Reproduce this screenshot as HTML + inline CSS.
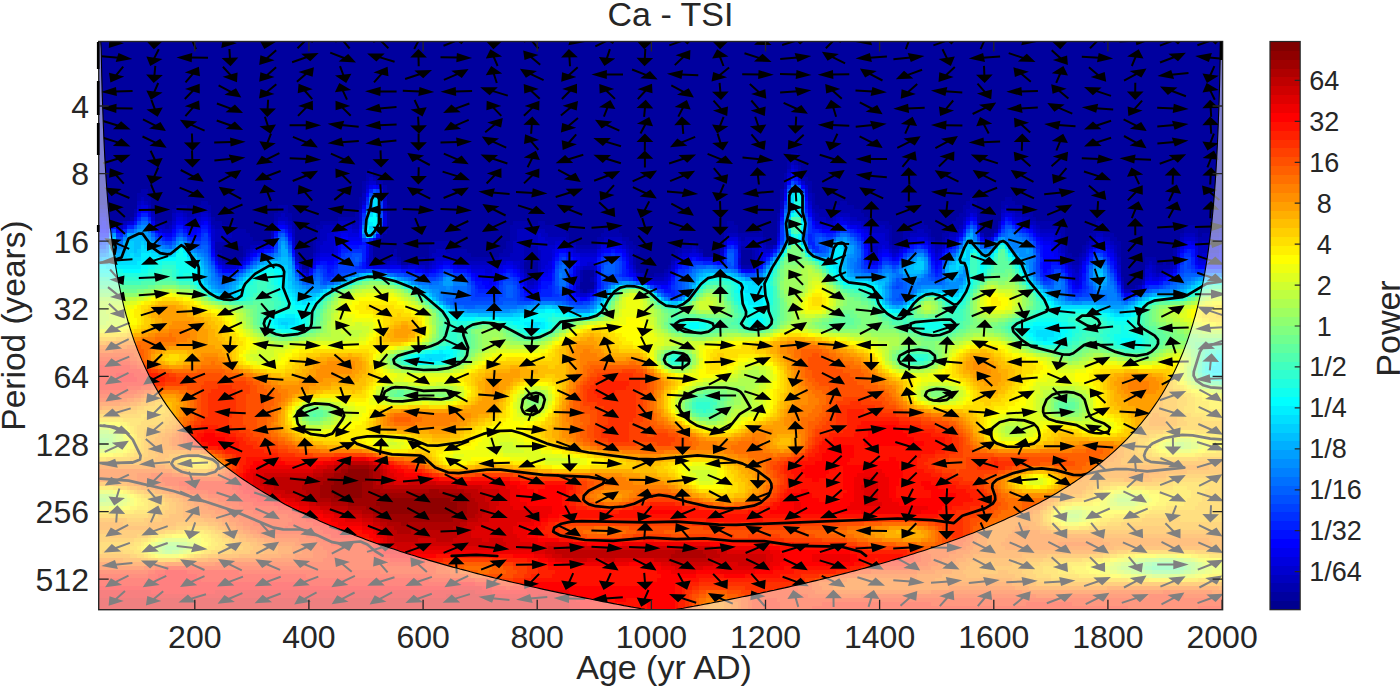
<!DOCTYPE html>
<html><head><meta charset="utf-8"><title>Ca - TSI</title>
<style>
html,body{margin:0;padding:0;background:#fff;}
body{width:1400px;height:687px;overflow:hidden;}
svg{display:block;}
text{font-family:"Liberation Sans",sans-serif;fill:#262626;}
.t{font-size:32px;}
.l{font-size:34px;}
.c{font-size:27px;}
</style></head><body>
<svg width="1400" height="687" viewBox="0 0 1400 687">
<rect width="1400" height="687" fill="#fff"/>
<defs><clipPath id="pc"><rect x="98.7" y="41.5" width="1123.9" height="568.2"/></clipPath></defs>
<g clip-path="url(#pc)">
<rect x="98.7" y="41.5" width="1123.9" height="568.2" fill="#00009f"/>

<g transform="translate(98.70,41.50) scale(3.51219,4.00141)" fill="none" stroke-width="1.08" shape-rendering="crispEdges"><path stroke="#0000af" d="M197 28.5h2m-2 1h2m-3 1h1m1 0h1m-3 1h1m2 0h1m-123 1h1m121 0h1m-124 1h2m117 0h1m4 0h1m-125 1h1m1 0h1m116 0h1m4 0h2m-127 1h1m3 0h2m120 0h2m-128 1h1m5 0h1m120 0h1m-191 1h2m61 0h1m5 0h1m112 0h1m7 0h1m-192 1h3m180 0h1m8 0h1m-193 1h1m1 0h2m59 0h1m119 0h1m8 0h1m44 0h1m9 0h2m-246 1h1m14 0h2m43 0h1m128 0h1m7 0h2m34 0h3m7 0h4m-261 1h2m20 0h3m3 0h4m19 0h3m20 0h1m7 0h1m120 0h2m5 0h5m31 0h2m1 0h1m7 0h1m1 0h6m-263 1h1m7 0h1m4 0h1m5 0h1m2 0h4m3 0h1m19 0h3m19 0h1m8 0h1m121 0h13m29 0h1m3 0h1m10 0h5m-264 1h1m22 0h2m23 0h2m1 0h2m18 0h1m8 0h1m110 0h1m11 0h5m4 0h4m27 0h2m3 0h1m12 0h3m-257 1h1m22 0h1m17 0h1m3 0h1m13 0h6m8 0h1m110 0h1m13 0h2m7 0h3m25 0h2m4 0h1m14 0h2m-262 1h2m9 0h5m11 0h3m20 0h1m7 0h5m4 0h1m9 0h1m35 0h4m3 0h2m52 0h2m37 0h7m7 0h3m8 0h3m21 0h7m10 0h2m-267 1h1m13 0h6m10 0h1m5 0h1m6 0h2m18 0h1m34 0h15m47 0h3m42 0h2m4 0h6m5 0h4m23 0h7m8 0h4m22 0h3m7 0h1m-284 1h6m20 0h1m18 0h1m35 0h2m8 0h6m11 0h4m30 0h4m6 0h1m36 0h1m3 0h4m2 0h2m4 0h3m11 0h1m17 0h2m8 0h5m21 0h4m6 0h1m-282 1h5m19 0h1m17 0h1m36 0h2m9 0h6m9 0h6m29 0h1m3 0h7m36 0h1m3 0h2m5 0h1m3 0h2m12 0h1m19 0h1m7 0h2m2 0h3m19 0h1m3 0h1m1 0h5m-283 1h8m17 0h2m16 0h1m37 0h2m14 0h1m8 0h2m5 0h2m32 0h1m5 0h1m35 0h1m3 0h1m7 0h1m2 0h1m33 0h1m7 0h1m5 0h2m23 0h3m-283 1h14m1 0h1m12 0h1m16 0h1m16 0h5m16 0h2m3 0h2m11 0h2m6 0h1m7 0h2m16 0h2m19 0h1m35 0h1m2 0h1m9 0h2m34 0h1m6 0h1m7 0h2m16 0h1m5 0h1m-281 1h2m6 0h2m18 0h1m32 0h7m15 0h2m3 0h4m11 0h6m9 0h2m12 0h4m1 0h1m6 0h1m5 0h3m4 0h2m34 0h2m47 0h1m4 0h1m9 0h1m-258 1h1m7 0h1m19 0h1m22 0h1m9 0h2m3 0h6m10 0h3m3 0h4m27 0h2m10 0h2m5 0h1m14 0h1m88 0h1m4 0h1m9 0h1m15 0h1m-273 1h1m6 0h1m14 0h1m26 0h2m9 0h1m5 0h6m8 0h3m4 0h4m27 0h1m10 0h2m21 0h1m88 0h2m2 0h1m10 0h1m15 0h1m-267 1h1m19 0h1m24 0h1m5 0h2m8 0h13m7 0h1m2 0h1m27 0h1m10 0h1m22 0h1m89 0h3m19 0h3m-265 1h4m17 0h1m20 0h2m1 0h1m6 0h6m58 0h1m33 0h1m90 0h2m19 0h1m1 0h1m2 0h1m1 0h1m-144 1h1m20 0h3m115 0h4m-246 1h1m61 0h1m15 0h1m15 0h1m7 0h1m139 0h2m-179 1h1m12 0h1m17 0h1m2 0h3m-39 1h2m13 0h1m2 0h1m150 0h1m5 0h1m-3 2h1m-159 1h1m1 0h1"/>
<path stroke="#0000bf" d="M197 30.5h1m0 1h1m-3 1h1m2 1h1m-123 1h1m-2 1h1m118 0h1m-116 1h1m114 0h1m-121 2h1m5 0h1m120 0h1m-191 1h1m62 0h1m5 0h1m120 0h1m-192 1h1m1 0h1m180 0h1m-181 1h1m179 0h1m53 0h1m9 0h1m-259 1h2m20 0h2m4 0h3m43 0h1m128 0h1m43 0h3m7 0h1m1 0h2m-251 1h1m4 0h1m5 0h1m2 0h1m2 0h2m2 0h1m20 0h1m151 0h1m5 0h4m33 0h1m13 0h2m-261 1h1m18 0h1m3 0h3m23 0h3m150 0h3m2 0h1m4 0h2m30 0h1m16 0h2m-262 1h1m3 0h1m42 0h1m3 0h1m13 0h4m1 0h1m119 0h1m13 0h2m8 0h1m32 0h1m5 0h1m8 0h2m-261 1h1m10 0h2m1 0h1m11 0h1m31 0h4m4 0h2m119 0h1m25 0h5m21 0h1m21 0h1m-235 1h3m13 0h1m5 0h1m7 0h3m53 0h8m66 0h1m26 0h5m8 0h2m9 0h1m23 0h5m-240 1h5m11 0h1m5 0h1m7 0h2m54 0h6m1 0h2m51 0h3m42 0h1m6 0h5m6 0h2m7 0h1m20 0h2m10 0h2m23 0h3m7 0h1m-287 1h3m27 0h2m54 0h6m2 0h6m11 0h5m29 0h1m3 0h1m1 0h5m35 0h1m5 0h1m5 0h1m4 0h1m10 0h1m20 0h1m9 0h1m2 0h2m20 0h1m3 0h1m3 0h3m-272 1h1m14 0h2m54 0h3m2 0h2m3 0h2m3 0h1m9 0h1m5 0h1m33 0h2m3 0h1m40 0h1m7 0h1m2 0h1m32 0h1m8 0h1m5 0h1m25 0h5m-276 1h2m17 0h1m14 0h1m40 0h3m13 0h2m6 0h1m7 0h1m18 0h1m16 0h2m1 0h1m30 0h2m3 0h1m2 0h1m9 0h2m34 0h1m6 0h1m7 0h1m17 0h1m5 0h3m-274 1h1m19 0h1m14 0h1m18 0h3m19 0h3m4 0h1m10 0h6m9 0h1m14 0h3m1 0h1m6 0h1m9 0h1m32 0h2m4 0h2m10 0h1m35 0h1m14 0h1m23 0h6m-286 1h1m27 0h1m15 0h1m17 0h5m17 0h4m4 0h1m25 0h1m13 0h1m21 0h1m32 0h1m59 0h1m32 0h1m-280 1h1m21 0h1m20 0h1m5 0h2m9 0h2m4 0h1m13 0h7m4 0h1m38 0h1m11 0h1m10 0h1m87 0h1m3 0h1m10 0h1m15 0h1m-272 1h1m24 0h1m16 0h1m4 0h1m2 0h1m8 0h1m7 0h1m2 0h9m6 0h1m4 0h1m37 0h1m23 0h1m88 0h1m2 0h1m10 0h1m8 0h1m6 0h1m-214 1h1m26 0h1m4 0h1m12 0h3m11 0h1m33 0h1m90 0h2m19 0h1m1 0h1m4 0h1m-248 1h1m66 0h1m15 0h1m20 0h1m115 0h1m21 0h1m2 0h2m-184 1h1m19 0h1m12 0h1m6 0h1m139 0h1m-178 1h1m31 0h5m-39 1h2m17 0h1m149 0h1m5 0h1m-162 1h1m159 0h1m-157 1h1m151 0h2"/>
<path stroke="#0000cf" d="M197 31.5h1m0 1h1m-3 1h1m-120 2h2m121 0h1m-125 1h1m124 0h1m-190 4h1m62 0h1m5 0h1m120 0h1m-192 1h1m69 0h1m-1 1h1m176 0h1m-259 1h2m20 0h2m5 0h2m43 0h1m128 0h1m45 0h1m7 0h1m2 0h1m-246 1h1m8 0h1m3 0h1m2 0h1m42 0h1m135 0h1m1 0h2m47 0h2m-261 1h1m1 0h1m3 0h1m12 0h1m3 0h3m25 0h1m151 0h2m2 0h1m4 0h3m29 0h1m17 0h1m-260 1h1m10 0h1m9 0h1m27 0h1m13 0h4m9 0h1m135 0h2m37 0h1m9 0h1m-249 1h3m11 0h1m33 0h2m4 0h2m145 0h1m25 0h1m21 0h1m-236 1h1m32 0h2m58 0h1m67 0h1m26 0h4m20 0h1m23 0h4m-240 1h1m16 0h1m5 0h1m9 0h2m58 0h2m93 0h4m7 0h2m2 0h1m6 0h2m9 0h1m18 0h1m11 0h2m23 0h3m7 0h1m-265 1h1m8 0h3m10 0h1m47 0h3m2 0h3m11 0h5m29 0h1m3 0h1m2 0h3m32 0h5m5 0h1m5 0h1m4 0h1m41 0h1m2 0h2m20 0h1m3 0h1m-268 1h2m16 0h4m58 0h5m3 0h1m15 0h1m32 0h1m5 0h1m3 0h1m29 0h1m1 0h1m12 0h1m2 0h1m32 0h1m8 0h1m5 0h1m27 0h3m-276 1h1m19 0h4m59 0h3m6 0h1m14 0h1m18 0h1m12 0h1m5 0h3m34 0h1m13 0h1m33 0h1m7 0h1m25 0h1m-266 1h1m19 0h1m63 0h3m8 0h5m24 0h2m3 0h1m5 0h1m43 0h1m4 0h1m11 0h1m35 0h1m14 0h1m24 0h5m-278 1h1m19 0h1m34 0h4m26 0h3m22 0h1m23 0h1m6 0h1m37 0h1m59 0h1m32 0h2m-281 1h1m5 0h1m42 0h2m10 0h1m5 0h1m1 0h2m9 0h2m2 0h2m6 0h2m11 0h2m10 0h1m30 0h1m92 0h1m-240 1h3m18 0h1m2 0h1m25 0h2m3 0h2m1 0h1m11 0h8m5 0h1m6 0h1m10 0h1m3 0h1m21 0h1m112 0h1m2 0h1m10 0h1m8 0h1m6 0h1m-197 1h2m8 0h1m15 0h1m15 0h1m124 0h1m12 0h1m7 0h2m5 0h1m-247 1h1m65 0h1m10 0h1m16 0h1m8 0h1m114 0h2m19 0h1m1 0h1m1 0h1m-182 1h1m14 0h1m4 0h1m13 0h1m5 0h1m116 0h1m-155 1h1m11 0h1m-15 1h2m17 0h1m149 0h1m-156 1h1m157 0h1m-158 1h2"/>
<path stroke="#0000df" d="M197 32.5h1m-2 2h1m2 0h1m-124 3h1m3 0h1m114 0h1m5 0h1m-190 4h2m188 0h1m-192 1h1m2 0h1m179 0h1m-114 1h1m166 0h1m9 0h2m-260 1h2m8 0h1m11 0h2m5 0h2m50 0h1m121 0h1m7 0h1m35 0h1m9 0h1m2 0h1m-261 1h1m8 0h1m14 0h1m3 0h1m2 0h1m19 0h2m21 0h1m6 0h1m122 0h1m5 0h1m2 0h1m48 0h2m-262 1h1m4 0h1m13 0h1m3 0h1m1 0h1m22 0h1m155 0h4m6 0h1m29 0h1m3 0h1m14 0h1m-249 1h1m36 0h1m13 0h4m8 0h1m137 0h1m47 0h1m-200 1h2m2 0h3m145 0h1m47 0h1m-201 1h1m111 0h3m11 0h1m25 0h1m13 0h2m34 0h3m-240 1h1m16 0h1m17 0h1m151 0h1m11 0h1m10 0h1m28 0h2m11 0h2m23 0h1m1 0h1m7 0h1m-288 1h1m14 0h2m6 0h1m11 0h1m62 0h3m10 0h2m3 0h1m70 0h1m3 0h1m5 0h1m42 0h1m14 0h1m20 0h1m3 0h1m6 0h1m-276 1h1m22 0h1m61 0h1m4 0h1m7 0h1m48 0h1m27 0h1m2 0h1m5 0h1m8 0h1m50 0h1m23 0h1m6 0h1m-257 1h4m62 0h1m5 0h2m13 0h1m17 0h3m11 0h1m5 0h2m29 0h1m7 0h1m11 0h1m33 0h1m7 0h1m25 0h1m4 0h1m-280 1h1m28 0h1m13 0h1m60 0h5m23 0h2m5 0h3m2 0h1m10 0h1m30 0h1m1 0h1m16 0h1m35 0h1m14 0h1m17 0h1m7 0h4m-263 1h1m4 0h1m14 0h1m19 0h2m2 0h1m15 0h2m10 0h1m8 0h2m25 0h1m55 0h1m92 0h2m-280 1h1m3 0h1m38 0h5m5 0h3m4 0h1m6 0h4m8 0h1m3 0h1m8 0h2m7 0h1m14 0h1m35 0h1m-95 1h1m12 0h4m2 0h2m12 0h2m35 0h1m112 0h1m2 0h1m-170 1h3m7 0h1m158 0h1m10 0h1m8 0h1m3 0h2m-180 1h1m28 0h1m7 0h1m114 0h1m20 0h1m1 0h2m-181 1h1m36 0h4m116 0h1m-155 1h1m-3 1h1m172 0h1m-160 1h1m2 0h1"/>
<path stroke="#0000ef" d="M198 33.5h1m-122 3h1m1 0h1m115 2h1m5 0h1m-127 3h1m126 1h1m-189 1h1m179 0h1m54 1h1m-249 1h1m13 0h1m6 0h2m5 0h1m181 0h2m48 0h1m-262 1h2m22 0h1m3 0h1m2 0h1m21 0h1m20 0h1m129 0h2m8 0h2m48 0h1m-263 1h1m3 0h1m18 0h3m189 0h1m32 0h1m-232 1h2m48 0h2m8 0h1m138 0h1m26 0h1m9 0h1m-188 1h1m2 0h4m3 0h1m139 0h1m25 0h1m6 0h1m2 0h1m13 0h1m-201 1h1m112 0h1m50 0h1m2 0h1m7 0h1m25 0h2m39 0h1m-235 1h1m68 0h3m30 0h1m51 0h1m5 0h1m4 0h1m29 0h1m11 0h1m2 0h1m-255 1h1m12 0h1m30 0h1m53 0h1m2 0h1m9 0h1m5 0h1m73 0h2m15 0h1m30 0h2m9 0h1m4 0h1m20 0h1m-266 1h1m23 0h1m8 0h1m57 0h1m7 0h1m47 0h1m31 0h1m2 0h1m11 0h1m34 0h1m15 0h1m30 0h1m-278 1h1m20 0h4m62 0h1m6 0h1m13 0h1m16 0h1m3 0h1m54 0h1m12 0h1m33 0h1m38 0h1m6 0h1m-279 1h1m56 0h2m41 0h1m23 0h1m22 0h1m32 0h1m16 0h1m35 0h1m5 0h1m8 0h1m22 0h1m2 0h4m-243 1h2m5 0h3m10 0h1m4 0h1m13 0h3m46 0h1m17 0h1m92 0h1m13 0h1m-253 1h1m19 0h1m2 0h1m31 0h1m1 0h1m19 0h1m4 0h1m8 0h1m6 0h1m15 0h1m32 0h2m120 0h1m-249 1h1m48 0h3m3 0h1m12 0h2m7 0h1m16 0h1m123 0h1m28 0h1m-197 1h4m7 0h1m14 0h1m143 0h1m10 0h1m8 0h1m2 0h1m-192 1h1m13 0h1m9 0h1m21 0h1m119 0h1m1 0h1m-159 1h1m13 0h1m142 0h1m18 0h1m-175 1h2m10 0h1m5 0h1m149 0h1m0 1h1"/>
<path stroke="#0000ff" d="M197 33.5h1m-2 2h1m-119 1h1m121 0h1m-125 2h1m118 1h1m5 0h1m-190 3h2m-3 1h1m190 0h1m45 1h1m10 0h1m-230 1h1m172 0h1m43 0h1m9 0h1m2 0h1m-258 1h1m47 0h2m157 0h1m2 0h1m48 0h2m-264 1h2m3 0h1m10 0h1m4 0h1m6 0h1m2 0h1m18 0h1m23 0h1m131 0h4m6 0h1m39 0h1m8 0h1m-248 1h1m7 0h2m26 0h1m19 0h1m142 0h1m48 0h1m-198 1h2m196 0h1m-199 1h6m1 0h1m102 0h2m12 0h1m24 0h1m14 0h2m17 0h1m15 0h1m-220 1h1m18 0h1m149 0h1m23 0h1m26 0h2m13 0h2m23 0h3m-266 1h1m8 0h1m12 0h1m62 0h2m11 0h2m1 0h2m80 0h1m6 0h1m32 0h2m-239 1h1m11 0h1m85 0h1m18 0h1m73 0h2m3 0h1m40 0h3m15 0h1m-221 1h1m67 0h1m32 0h1m1 0h1m18 0h1m32 0h1m4 0h1m9 0h1m31 0h4m8 0h1m6 0h1m-256 1h1m28 0h1m2 0h2m62 0h1m6 0h1m13 0h1m15 0h1m9 0h1m42 0h1m19 0h1m29 0h2m2 0h1m33 0h1m11 0h1m-286 1h1m5 0h1m20 0h1m35 0h1m2 0h1m28 0h1m5 0h1m14 0h1m87 0h1m30 0h2m9 0h1m32 0h2m-280 1h2m1 0h1m51 0h2m3 0h1m9 0h1m9 0h1m2 0h1m64 0h1m2 0h1m82 0h1m5 0h1m4 0h1m-175 1h1m12 0h1m8 0h1m22 0h1m11 0h1m-57 1h2m4 0h1m12 0h3m24 0h1m122 0h1m26 0h1m-195 1h2m1 0h1m7 0h1m35 0h1m5 0h1m135 0h4m-192 1h2m13 0h1m34 0h2m115 0h1m1 0h1m-159 1h1m174 0h1m-175 1h3m10 0h1m4 0h1m152 0h1m-157 1h2"/>
<path stroke="#0010ff" d="M198 34.5h1m0 1h1m-120 3h1m120 2h1m-1 1h1m-127 1h1m118 2h1m63 0h1m-249 1h1m238 0h1m-246 1h1m10 0h1m6 0h2m5 0h2m49 0h1m122 0h1m57 0h1m-238 1h1m28 0h1m151 0h1m9 0h1m30 0h1m17 0h1m-265 1h3m14 0h1m3 0h1m3 0h1m2 0h1m2 0h1m18 0h1m-32 1h2m33 0h1m162 0h1m-143 1h1m168 0h1m8 0h1m13 0h1m-199 1h5m107 0h1m49 0h1m3 0h1m32 0h1m-222 1h2m97 0h1m31 0h1m13 0h1m25 0h1m22 0h1m26 0h1m14 0h1m2 0h1m22 0h1m1 0h1m-257 1h1m12 0h1m64 0h1m9 0h1m47 0h1m26 0h1m21 0h1m27 0h1m13 0h1m25 0h1m2 0h1m-269 1h1m86 0h1m3 0h1m7 0h1m6 0h1m19 0h1m48 0h1m6 0h1m-184 1h1m20 0h2m2 0h1m7 0h1m59 0h1m31 0h1m7 0h1m1 0h1m44 0h1m14 0h1m30 0h1m2 0h2m8 0h1m6 0h1m-233 1h1m8 0h2m8 0h1m22 0h2m42 0h1m22 0h1m22 0h1m30 0h3m17 0h1m28 0h1m5 0h1m32 0h1m4 0h1m2 0h5m-255 1h1m20 0h4m6 0h1m4 0h4m11 0h2m11 0h1m12 0h1m7 0h1m13 0h1m73 0h1m31 0h1m18 0h1m-230 1h1m32 0h1m20 0h1m3 0h1m15 0h1m7 0h1m7 0h1m118 0h2m9 0h1m25 0h1m-248 1h1m46 0h1m35 0h1m9 0h1m10 0h1m116 0h1m23 0h1m-198 1h2m4 0h1m12 0h3m13 0h1m133 0h1m13 0h1m11 0h1m-195 1h2m2 0h1m7 0h1m5 0h2m6 0h1m7 0h1m16 0h1m2 0h1m-52 1h1m13 0h1m8 0h1m26 0h2m114 0h2m-158 1h1m12 0h1m159 0h1m-160 1h2m2 0h1"/>
<path stroke="#0020ff" d="M197 34.5h1m-121 3h1m-2 2h1m118 1h1m5 2h1m-190 1h2m-3 1h1m2 0h1m187 0h1m-9 1h1m64 0h1m-252 1h2m201 0h2m44 0h1m-251 1h1m14 0h1m6 0h2m172 0h2m5 0h1m3 0h1m48 0h1m-258 1h1m195 0h1m4 0h2m7 0h1m33 0h1m14 0h1m-266 1h2m16 0h1m7 0h3m2 0h1m45 0h1m124 0h1m42 0h1m20 0h1m-65 1h2m47 0h1m-178 1h2m103 0h1m13 0h1m9 0h1m28 0h1m1 0h1m8 0h1m23 0h1m-219 1h1m19 0h2m4 0h1m154 0h1m53 0h2m24 0h1m-266 1h1m29 0h1m55 0h2m11 0h2m1 0h2m29 0h1m57 0h1m49 0h1m-255 1h1m35 0h1m6 0h1m57 0h1m56 0h1m32 0h2m3 0h1m11 0h1m27 0h1m13 0h1m4 0h1m20 0h1m2 0h1m-178 1h1m7 0h1m6 0h1m18 0h1m3 0h3m14 0h1m28 0h1m7 0h2m83 0h1m-279 1h1m7 0h1m22 0h1m2 0h1m6 0h1m59 0h1m14 0h1m16 0h2m69 0h1m33 0h3m14 0h1m-255 1h1m4 0h1m26 0h1m15 0h4m11 0h1m36 0h1m14 0h1m37 0h1m51 0h1m28 0h1m2 0h1m2 0h1m32 0h1m-251 1h1m7 0h2m25 0h1m1 0h2m9 0h1m9 0h1m1 0h1m11 0h1m19 0h1m88 0h1m29 0h1m6 0h1m13 0h1m-176 1h1m4 0h1m9 0h1m4 0h1m134 0h1m35 0h1m-172 1h1m20 0h1m7 0h1m116 0h1m-174 1h1m5 0h1m14 0h1m29 0h1m117 0h1m3 0h1m17 0h1m-191 1h3m1 0h1m7 0h1m5 0h3m34 0h1m115 0h1m-160 1h1m4 0h4m12 0h1m21 0h1m127 0h1m-171 1h3m10 0h1"/>
<path stroke="#0030ff" d="M198 35.5h1m-3 1h1m-117 3h1m-5 1h1m-2 3h1m126 2h1m45 0h1m9 0h1m-65 1h1m7 0h1m44 0h1m12 0h1m-246 1h1m7 0h1m27 0h2m141 0h1m7 0h1m10 0h1m48 0h1m-258 1h1m10 0h1m7 0h1m4 0h1m23 0h1m140 0h1m8 0h1m2 0h1m2 0h1m5 0h1m30 0h1m-245 1h1m18 0h1m3 0h1m24 0h1m24 0h1m118 0h1m8 0h1m12 0h1m-217 1h1m30 0h1m18 0h1m3 0h1m162 0h1m-38 1h1m23 0h1m12 0h1m15 0h1m-163 1h4m106 0h1m22 0h1m26 0h1m10 0h1m24 0h1m-222 1h1m22 0h1m76 0h1m34 0h1m47 0h1m53 0h1m25 0h2m-267 1h1m86 0h1m11 0h1m4 0h1m29 0h1m2 0h1m-114 1h1m5 0h1m55 0h1m38 0h3m6 0h1m2 0h1m43 0h1m61 0h1m20 0h1m-247 1h2m9 0h1m107 0h1m36 0h1m3 0h1m58 0h1m29 0h1m-251 1h1m2 0h1m2 0h1m12 0h2m18 0h1m64 0h2m15 0h1m54 0h1m43 0h1m6 0h1m23 0h3m-280 1h3m26 0h1m2 0h1m22 0h2m4 0h1m7 0h1m11 0h1m31 0h1m15 0h1m74 0h1m31 0h1m-214 1h1m6 0h1m49 0h1m2 0h1m32 0h1m118 0h1m4 0h1m13 0h1m-184 1h1m7 0h1m4 0h1m9 0h1m13 0h1m159 0h2m-186 1h1m9 0h1m13 0h1m19 0h1m117 0h1m8 0h1m8 0h3m-195 1h1m5 0h1m15 0h1m3 0h1m8 0h1m17 0h1m3 0h1m111 0h1m3 0h1m16 0h1m-191 1h6m16 0h2m2 0h1m28 0h1m1 0h1m112 0h3m15 0h1m-176 1h1m3 0h2m7 0h1m6 0h1m151 0h1m-157 1h2"/>
<path stroke="#0040ff" d="M79 37.5h1m120 0h1m-121 3h1m-1 1h1m114 0h1m-116 1h1m120 1h1m-127 1h1m-62 1h1m65 0h1m168 1h1m-247 1h1m207 0h2m44 0h1m3 0h1m-240 1h1m7 0h1m173 0h2m8 0h1m41 0h1m7 0h1m-248 1h1m11 0h2m45 0h1m130 0h2m41 0h1m4 0h1m9 0h1m-265 1h1m17 0h2m5 0h3m165 0h1m59 0h1m11 0h1m-236 1h1m18 0h1m151 0h1m41 0h1m-214 1h1m171 0h1m1 0h1m11 0h1m17 0h1m7 0h1m-197 1h1m22 0h2m145 0h1m23 0h1m25 0h1m17 0h1m-231 1h1m13 0h2m61 0h1m11 0h4m69 0h1m18 0h1m30 0h1m18 0h1m22 0h2m-279 1h1m10 0h1m25 0h1m63 0h1m9 0h1m4 0h1m68 0h1m5 0h2m15 0h1m26 0h1m14 0h1m27 0h1m-243 1h5m57 0h1m12 0h1m4 0h1m19 0h1m48 0h1m8 0h1m40 0h1m40 0h1m1 0h1m-278 1h1m6 0h1m15 0h1m6 0h1m4 0h8m2 0h2m18 0h2m48 0h1m18 0h1m51 0h3m45 0h1m4 0h2m34 0h1m2 0h1m3 0h5m-286 1h1m3 0h1m29 0h1m18 0h3m7 0h1m3 0h3m43 0h1m17 0h2m70 0h1m36 0h1m6 0h1m25 0h1m-248 1h1m3 0h1m1 0h1m26 0h3m9 0h1m10 0h2m25 0h4m2 0h2m13 0h1m73 0h2m28 0h1m2 0h1m9 0h1m24 0h1m-189 1h1m25 0h1m9 0h1m9 0h1m104 0h2m4 0h1m5 0h1m-176 1h1m7 0h1m15 0h1m2 0h1m23 0h1m6 0h1m62 0h1m74 0h1m-197 1h1m7 0h1m4 0h1m10 0h1m28 0h1m5 0h1m115 0h1m8 0h1m-185 1h1m6 0h2m4 0h1m11 0h2m28 0h1m3 0h1m110 0h1m3 0h2m-176 1h8m5 0h1m6 0h7m1 1h2m2 0h2"/>
<path stroke="#0050ff" d="M197 35.5h1m-120 2h1m-2 1h1m-2 3h1m3 2h1m-69 1h2m66 0h1m-70 1h1m63 0h1m-66 1h1m247 0h2m-256 1h1m74 0h1m-57 1h1m27 0h1m149 0h1m8 0h1m52 0h1m-259 1h2m9 0h1m184 0h1m2 0h1m1 0h1m8 0h1m-214 1h1m15 0h1m10 0h2m173 0h1m2 0h1m8 0h1m28 0h1m-246 1h2m26 0h1m25 0h1m150 0h2m45 0h1m13 0h1m-217 1h1m128 0h2m12 0h1m12 0h1m25 0h1m-202 1h1m16 0h1m23 0h3m117 0h1m37 0h1m53 0h1m-240 1h1m25 0h2m1 0h1m154 0h1m53 0h1m-214 1h4m57 0h1m12 0h1m2 0h1m31 0h1m10 0h1m37 0h1m7 0h1m72 0h1m-268 1h1m90 0h1m13 0h1m21 0h1m6 0h5m8 0h1m37 0h1m12 0h1m46 0h1m21 0h1m-248 1h1m13 0h2m52 0h1m2 0h1m9 0h1m3 0h1m20 0h1m19 0h1m29 0h1m90 0h2m-250 1h1m1 0h1m5 0h2m14 0h2m43 0h1m2 0h1m9 0h4m20 0h1m16 0h3m49 0h1m30 0h1m4 0h1m15 0h1m19 0h1m-252 1h1m9 0h1m23 0h2m3 0h1m33 0h1m2 0h1m13 0h2m16 0h2m60 0h1m9 0h1m69 0h1m-249 1h1m4 0h1m40 0h1m9 0h3m12 0h1m2 0h1m11 0h1m19 0h1m61 0h2m42 0h1m17 0h1m15 0h1m-191 1h1m2 0h1m25 0h1m20 0h1m60 0h1m1 0h1m46 0h1m6 0h1m20 0h1m-189 1h1m2 0h1m12 0h2m10 0h1m131 0h1m6 0h1m15 0h1m-194 1h1m9 0h1m2 0h1m23 0h1m85 0h1m53 0h2m12 0h1m-196 1h5m8 0h5m22 0h1m21 0h2m62 0h2m49 0h1m12 0h1m1 0h1m-193 1h14m4 0h4m10 0h1"/>
<path stroke="#0060ff" d="M199 36.5h1m-4 1h1m-2 5h1m5 2h1m-188 2h1m233 0h1m-241 1h2m191 0h1m45 0h1m1 0h1m8 0h1m1 0h1m-254 1h1m7 0h1m36 0h1m142 0h1m17 0h1m43 0h1m4 0h1m-239 1h1m28 0h1m151 0h1m3 0h1m54 0h1m-248 1h1m3 0h1m3 0h1m179 0h2m1 0h1m56 0h1m-246 1h1m6 0h1m1 0h2m176 0h1m8 0h1m34 0h1m1 0h1m-224 1h1m23 0h1m152 0h1m25 0h2m31 0h1m-218 1h1m129 0h2m50 0h1m3 0h1m6 0h1m-212 1h1m41 0h1m105 0h2m10 0h1m24 0h1m-173 1h1m10 0h1m76 0h1m12 0h2m33 0h1m35 0h1m49 0h1m19 0h1m-255 1h1m98 0h1m12 0h3m23 0h3m2 0h1m40 0h1m6 0h1m1 0h1m10 0h1m29 0h1m15 0h1m-242 1h1m102 0h3m70 0h1m4 0h1m3 0h1m9 0h1m3 0h1m25 0h1m20 0h1m-255 1h1m5 0h1m16 0h1m5 0h1m8 0h1m12 0h1m13 0h1m1 0h1m86 0h1m52 0h1m32 0h1m35 0h5m-280 1h4m23 0h1m1 0h1m4 0h1m20 0h2m6 0h1m4 0h3m62 0h1m60 0h1m7 0h1m3 0h1m26 0h1m4 0h1m1 0h1m13 0h1m19 0h1m-251 1h1m1 0h1m2 0h1m1 0h2m27 0h1m51 0h1m6 0h1m12 0h1m59 0h1m2 0h1m8 0h2m28 0h1m13 0h1m23 0h1m-202 1h1m10 0h2m13 0h2m33 0h1m62 0h1m40 0h2m17 0h1m14 0h1m-203 1h1m2 0h1m10 0h2m48 0h1m59 0h4m53 0h1m15 0h1m-198 1h3m11 0h2m42 0h1m5 0h1m59 0h2m1 0h2m44 0h1m8 0h1m5 0h1m-192 1h2m61 0h1m63 0h1m2 0h1m46 0h2m1 0h5m10 0h1m-195 1h1m14 0h4m4 0h1m8 0h1m7 0h1m-37 1h3m28 0h4"/>
<path stroke="#0070ff" d="M200 38.5h1m-189 7h2m187 0h1m-1 1h1m-188 1h1m180 0h1m63 0h1m-185 1h1m2 0h1m132 0h2m36 0h1m8 0h1m2 0h1m-240 1h1m28 0h1m143 0h1m18 0h1m31 0h1m16 0h1m-258 1h1m194 0h1m13 0h1m34 0h1m-249 1h1m16 0h1m6 0h1m167 0h1m-195 1h2m26 0h2m186 0h1m27 0h1m-215 1h1m174 0h2m9 0h1m26 0h1m22 0h1m-221 1h1m194 0h1m24 0h1m17 0h2m-255 1h1m183 0h1m67 0h1m-241 1h1m88 0h1m40 0h2m40 0h1m8 0h1m3 0h1m-197 1h1m98 0h2m36 0h1m11 0h1m33 0h2m10 0h1m54 0h1m-211 1h1m10 0h1m15 0h1m32 0h1m35 0h1m14 0h1m43 0h2m6 0h1m30 0h1m15 0h1m4 0h1m26 0h3m-284 1h1m4 0h1m23 0h1m6 0h1m18 0h1m12 0h1m29 0h2m93 0h1m2 0h1m4 0h2m37 0h1m8 0h1m26 0h2m-277 1h2m55 0h3m1 0h2m34 0h2m14 0h1m19 0h1m62 0h1m2 0h5m2 0h1m31 0h1m1 0h1m13 0h1m18 0h2m-208 1h4m40 0h1m21 0h1m57 0h1m4 0h2m37 0h1m4 0h1m8 0h1m21 0h2m-206 1h1m1 0h2m53 0h1m71 0h2m42 0h1m9 0h1m4 0h1m10 0h2m-204 1h4m183 0h2m-189 1h1m66 0h1m59 0h1m49 0h1m8 0h3m3 0h1m-192 1h1m24 0h2m4 0h2m94 0h3m63 0h1m-191 1h2m3 0h12m15 0h1m4 0h1"/>
<path stroke="#0080ff" d="M197 36.5h2m-122 3h1m118 2h1m3 0h1m-125 1h1m119 0h1m3 0h1m-6 1h1m-185 3h1m63 0h1m119 0h1m-186 1h1m-8 1h1m255 0h2m-246 1h1m7 0h1m28 0h1m160 0h1m35 0h1m8 0h5m-258 1h1m10 0h1m34 0h1m1 0h1m160 0h1m44 0h3m2 0h1m-247 1h1m2 0h1m3 0h1m25 0h1m156 0h1m6 0h1m29 0h1m8 0h1m5 0h2m3 0h1m-264 1h1m24 0h1m174 0h1m12 0h1m-187 1h1m20 0h1m3 0h1m149 0h1m2 0h1m7 0h1m16 0h1m-203 1h1m16 0h1m166 0h2m14 0h1m34 0h1m-221 1h1m168 0h1m14 0h1m35 0h1m-235 1h1m23 0h1m158 0h1m50 0h1m20 0h1m-117 1h1m9 0h1m8 0h1m33 0h3m39 0h1m-234 1h1m7 0h1m41 0h1m48 0h1m37 0h1m18 0h1m28 0h6m3 0h1m90 0h3m-288 1h1m23 0h1m30 0h1m80 0h1m61 0h1m2 0h1m11 0h1m41 0h1m23 0h1m-279 1h1m2 0h1m20 0h1m3 0h2m4 0h1m22 0h1m6 0h1m3 0h4m47 0h1m72 0h1m5 0h2m8 0h1m31 0h1m9 0h1m3 0h1m21 0h1m-276 1h2m23 0h2m2 0h2m29 0h5m1 0h1m55 0h1m75 0h2m6 0h1m31 0h2m13 0h2m18 0h1m-211 1h4m43 0h1m22 0h1m57 0h1m6 0h1m38 0h3m11 0h4m13 0h3m-208 1h1m45 0h1m81 0h1m5 0h1m42 0h1m12 0h3m7 0h1m-201 1h1m44 0h1m18 0h1m68 0h1m56 0h3m5 0h1m-170 1h4m11 0h1m149 0h1m-191 1h1m17 0h2m19 0h1"/>
<path stroke="#008fff" d="M196 38.5h1m3 1h1m-124 1h1m118 0h1m3 0h1m-124 1h1m117 3h1m-1 1h1m-184 1h2m234 1h1m-235 1h1m232 0h1m-241 1h1m202 0h2m44 0h1m-235 1h1m1 0h1m170 0h1m59 0h1m6 0h2m-259 1h2m10 0h1m35 0h1m205 0h1m2 0h3m-239 1h1m24 0h1m156 0h1m43 0h1m7 0h4m1 0h1m-266 1h2m26 0h1m22 0h1m162 0h1m18 0h2m27 0h4m-218 1h1m164 0h1m17 0h1m3 0h1m6 0h1m21 0h1m-235 1h1m182 0h1m27 0h1m22 0h1m19 0h2m-242 1h1m145 0h1m22 0h1m69 0h1m-253 1h1m10 0h1m12 0h1m115 0h1m6 0h2m34 0h1m13 0h1m6 0h1m10 0h1m39 0h1m-214 1h1m108 0h1m32 0h2m6 0h1m1 0h1m3 0h1m4 0h1m10 0h2m-208 1h1m30 0h1m15 0h1m11 0h1m1 0h1m68 0h1m55 0h1m5 0h2m8 0h1m2 0h1m21 0h1m16 0h1m28 0h1m-281 1h1m4 0h1m30 0h1m20 0h1m58 0h1m2 0h1m16 0h1m73 0h4m21 0h1m42 0h1m-278 1h1m2 0h1m21 0h1m2 0h2m29 0h2m5 0h1m68 0h1m55 0h1m9 0h6m1 0h4m39 0h1m1 0h1m21 0h1m-214 1h2m173 0h1m34 0h2m-211 1h1m62 0h1m7 0h1m104 0h2m24 0h1m-75 1h1m49 0h1m-177 1h1m126 0h1m3 0h1m47 0h3m4 0h7m2 0h1m-194 1h1m20 0h1m11 0h1m-29 1h12m19 0h4"/>
<path stroke="#009fff" d="M79 38.5h1m116 1h1m-1 4h1m3 0h1m-122 3h1m-69 1h3m61 0h1m-72 1h1m4 0h1m3 0h1m0 1h1m197 0h1m44 0h1m-243 1h1m36 0h1m156 0h1m3 0h1m32 0h1m2 0h1m-234 1h1m184 0h1m12 0h1m35 0h1m-246 1h1m12 0h3m193 0h1m36 0h1m1 0h1m10 0h1m-263 1h1m190 0h1m19 0h1m30 0h1m-216 1h1m19 0h2m3 0h1m137 0h1m39 0h1m10 0h1m19 0h1m-218 1h1m144 0h1m38 0h1m4 0h1m-206 1h1m198 0h1m5 0h1m10 0h1m17 0h1m-93 1h6m35 0h1m69 0h1m-253 1h1m9 0h1m13 0h1m25 0h1m88 0h1m43 0h1m9 0h1m5 0h1m2 0h1m7 0h1m23 0h1m17 0h1m2 0h1m-256 1h1m53 0h1m13 0h1m84 0h4m34 0h1m19 0h2m2 0h1m66 0h2m-284 1h1m6 0h1m17 0h1m41 0h3m48 0h2m18 0h1m54 0h1m59 0h1m1 0h1m24 0h1m-280 1h1m4 0h1m19 0h1m7 0h1m25 0h1m54 0h1m121 0h1m16 0h1m23 0h1m-276 1h3m22 0h4m31 0h1m129 0h1m8 0h1m8 0h1m64 0h1m-213 1h1m128 0h1m7 0h1m38 0h1m27 0h1m-204 1h1m69 0h1m64 0h1m41 0h1m22 0h1m-155 1h1m132 0h2m3 0h4m10 0h1m-173 1h2m8 0h1m8 0h1m85 0h1m60 0h4m-189 1h2m12 0h2m16 0h1"/>
<path stroke="#00afff" d="M197 37.5h1m-120 1h1m-2 4h1m-2 1h1m-69 5h1m1 0h1m1 0h1m183 0h1m3 0h1m47 0h1m-246 1h1m9 0h1m186 0h1m47 0h1m-242 1h1m6 0h1m8 0h1m188 0h1m45 0h1m-244 1h1m36 0h1m160 0h1m-208 1h1m10 0h1m3 0h1m3 0h1m26 0h2m140 0h1m18 0h1m31 0h1m-241 1h1m21 0h1m24 0h2m149 0h1m4 0h1m3 0h1m39 0h1m8 0h1m-262 1h1m27 0h1m22 0h1m155 0h1m4 0h1m21 0h1m27 0h1m-234 1h1m17 0h1m6 0h1m157 0h1m18 0h1m10 0h1m20 0h1m-219 1h1m8 0h1m157 0h1m17 0h1m10 0h1m42 0h2m-256 1h1m12 0h1m185 0h1m4 0h1m6 0h1m3 0h1m18 0h1m-235 1h1m43 0h1m5 0h1m90 0h1m9 0h1m7 0h1m23 0h1m17 0h2m11 0h1m-215 1h1m9 0h1m14 0h1m15 0h1m98 0h1m48 0h3m1 0h2m61 0h1m28 0h1m-277 1h1m15 0h1m32 0h1m157 0h1m19 0h1m18 0h1m-248 1h1m17 0h1m9 0h1m156 0h1m21 0h1m64 0h1m-278 1h1m3 0h1m19 0h2m4 0h1m29 0h1m51 0h1m22 0h1m65 0h1m5 0h2m1 0h2m24 0h1m38 0h1m-165 1h1m155 0h1m-158 1h1m16 0h1m111 0h1m-176 1h1m126 0h1m49 0h1m-176 1h1m24 0h1m6 0h1m94 0h1m1 0h1m58 0h1m4 0h1m-191 1h1m16 0h2m13 0h1m5 0h1"/>
<path stroke="#00bfff" d="M199 37.5h1m-3 4h1m-119 1h1m117 0h1m-120 5h1m-68 1h1m-3 1h4m183 0h1m50 0h1m-238 1h2m1 0h1m196 0h2m36 0h1m-242 1h1m2 0h2m10 0h1m1 0h1m187 0h1m-206 1h1m2 0h1m5 0h1m195 0h1m41 0h1m-252 1h1m2 0h1m19 0h1m224 0h1m-251 1h3m48 0h2m152 0h1m1 0h1m24 0h1m10 0h1m-197 1h1m2 0h3m178 0h1m10 0h1m2 0h1m-218 1h1m201 0h1m13 0h1m-192 1h1m135 0h1m21 0h1m17 0h4m10 0h1m39 0h2m-244 1h1m11 0h1m20 0h1m96 0h1m7 0h1m61 0h2m-190 1h1m29 0h1m98 0h1m4 0h1m25 0h5m46 0h1m18 0h2m30 0h2m-288 1h1m38 0h1m152 0h2m88 0h1m-282 1h1m23 0h1m34 0h1m64 0h1m13 0h1m97 0h1m-236 1h1m5 0h1m17 0h1m35 0h1m64 0h1m65 0h1m11 0h1m3 0h1m69 0h1m-275 1h3m19 0h5m32 0h1m128 0h1m46 0h1m30 0h6m-212 1h1m127 0h1m73 0h1m-135 1h2m65 0h1m42 0h1m21 0h1m-171 1h2m2 0h2m94 0h1m59 0h2m6 0h1m-193 1h1m19 0h1m167 0h3m-184 1h10"/>
<path stroke="#00cfff" d="M198 37.5h1m-2 3h1m-120 2h1m0 1h1m116 1h1m-120 2h1m118 1h1m3 0h1m-197 2h1m3 0h1m-6 1h2m3 0h2m2 0h1m187 0h1m46 0h1m-245 1h2m3 0h2m3 0h2m180 0h1m13 0h1m36 0h1m1 0h2m5 0h1m-253 1h2m3 0h2m1 0h1m3 0h1m231 0h1m11 0h1m-256 1h1m2 0h2m1 0h2m5 0h4m4 0h1m219 0h1m1 0h1m5 0h1m6 0h1m-257 1h4m19 0h1m177 0h1m40 0h2m-220 1h1m20 0h2m182 0h2m-189 1h1m5 0h2m137 0h1m19 0h1m20 0h3m7 0h2m19 0h1m-235 1h1m14 0h1m8 0h1m188 0h2m-215 1h1m46 0h1m1 0h2m93 0h1m5 0h1m32 0h1m51 0h1m19 0h2m-257 1h1m11 0h1m30 0h1m98 0h1m10 0h1m6 0h1m23 0h1m104 0h2m-280 1h1m13 0h1m32 0h1m82 0h1m15 0h2m33 0h1m91 0h1m-275 1h1m14 0h1m12 0h1m79 0h1m74 0h1m23 0h1m64 0h1m-257 1h1m8 0h1m171 0h3m6 0h1m22 0h1m-235 1h1m3 0h1m17 0h1m5 0h1m105 0h1m64 0h1m7 0h4m62 0h1m-250 1h3m210 0h1m26 0h1m-156 1h1m18 0h1m60 0h1m48 0h1m-175 1h1m28 0h2m13 0h1m86 0h1m54 0h1m9 0h1m-195 1h1m21 0h2m9 0h1m7 0h1m146 0h1m3 0h1m-189 1h4m10 0h2m-68 2h2m40 9h1"/>
<path stroke="#00dfff" d="M197 38.5h1m-120 1h2m117 0h1m-120 1h2m-2 1h2m119 1h1m-123 1h1m-2 1h1m123 0h1m-125 1h1m1 1h1m-3 1h2m-1 1h1m178 2h1m-245 1h1m198 0h1m35 0h1m-236 1h3m186 0h1m48 0h1m-242 1h1m5 0h2m4 0h1m-14 1h4m14 0h1m218 0h1m5 0h2m8 0h1m-262 1h11m16 0h1m164 0h1m14 0h3m1 0h1m32 0h2m1 0h1m14 0h1m-235 1h1m18 0h1m3 0h1m158 0h1m33 0h1m-217 1h1m16 0h1m165 0h1m35 0h1m15 0h1m-221 1h1m9 0h1m23 0h1m96 0h2m2 0h1m11 0h1m20 0h1m35 0h1m-195 1h1m29 0h1m88 0h1m8 0h1m30 0h1m34 0h1m-219 1h1m23 0h1m16 0h1m113 0h2m2 0h1m30 0h2m26 0h1m17 0h1m48 0h1m-285 1h1m22 0h1m35 0h1m95 0h4m123 0h1m-282 1h1m7 0h1m14 0h1m114 0h1m14 0h5m33 0h1m23 0h1m63 0h1m-278 1h1m5 0h1m15 0h1m37 0h1m64 0h1m63 0h1m46 0h1m38 0h1m-253 1h2m3 0h1m82 0h1m22 0h1m54 0h1m9 0h1m37 0h1m-213 1h1m37 0h1m68 0h1m130 0h1m-73 1h1m49 0h10m-160 1h1m7 0h1m153 0h2m5 0h1m-192 1h2m16 0h2m14 0h4m149 0h3m-241 1h5m-5 1h1m2 0h2m67 0h3m-73 1h1m69 0h2m142 1h5m-5 1h5m-3 1h1m-177 4h6m-8 1h3m1 0h3"/>
<path stroke="#00efff" d="M199 41.5h1m-2 1h1m-122 3h1m1 0h1m116 0h1m-1 1h1m-121 2h1m122 1h1m-4 1h1m60 0h1m-235 1h1m186 0h1m47 0h1m-237 1h1m1 0h1m184 0h3m34 0h1m1 0h1m-237 1h3m187 0h1m6 0h3m34 0h1m7 0h1m-243 1h5m8 0h1m167 0h1m10 0h1m4 0h3m41 0h1m-243 1h2m13 0h1m183 0h1m40 0h2m-251 1h10m15 0h1m20 0h3m158 0h1m37 0h1m14 0h1m-217 1h1m5 0h1m138 0h1m18 0h1m-183 1h1m23 0h1m123 0h2m32 0h1m-183 1h1m13 0h1m9 0h1m20 0h1m137 0h1m52 0h1m-224 1h1m10 0h1m33 0h1m84 0h1m11 0h1m5 0h1m24 0h5m96 0h1m-276 1h1m11 0h1m117 0h1m12 0h2m4 0h1m31 0h1m25 0h1m18 0h1m-227 1h1m12 0h1m11 0h1m25 0h1m54 0h1m36 0h1m5 0h1m31 0h1m89 0h1m-258 1h1m8 0h1m81 0h1m38 0h5m45 0h1m5 0h1m4 0h1m63 0h1m-255 1h1m38 0h1m64 0h1m24 0h5m53 0h3m54 0h1m-244 1h2m1 0h2m100 0h1m23 0h4m42 0h1m39 0h1m25 0h1m-26 1h2m21 0h1m-197 1h1m25 0h2m3 0h2m94 0h3m56 0h1m8 0h1m-242 1h3m45 0h1m20 0h1m11 0h2m152 0h1m3 0h2m-244 1h1m5 0h1m57 0h6m-70 1h1m5 0h1m64 0h2m3 0h1m-76 1h2m1 0h2m66 0h1m2 0h2m139 0h7m-8 1h2m5 0h2m-8 1h1m5 0h2m-7 1h2m1 0h3m-176 3h1m-7 1h2m6 0h1m-10 1h1m7 0h1m219 1h2m-3 1h3m-3 1h3"/>
<path stroke="#00ffff" d="M78 43.5h1m118 0h1m1 0h1m-123 1h3m-2 1h1m121 0h1m-125 1h1m123 0h1m-4 2h1m1 0h1m-3 1h1m57 3h1m-232 1h1m169 0h1m55 0h1m8 0h1m-243 1h5m238 0h1m-248 1h2m10 0h1m180 0h1m54 0h1m-262 1h2m10 0h2m194 0h1m42 0h1m-245 1h5m15 0h1m19 0h1m2 0h2m157 0h1m-183 1h1m16 0h1m6 0h1m211 0h1m-237 1h1m15 0h1m7 0h1m30 0h1m90 0h1m6 0h1m9 0h1m-163 1h1m22 0h1m19 0h1m110 0h1m29 0h2m102 0h1m-288 1h1m11 0h1m26 0h1m79 0h1m5 0h1m27 0h1m36 0h2m92 0h1m-262 1h1m129 0h1m84 0h1m-236 1h1m7 0h1m12 0h1m38 0h1m90 0h1m5 0h1m31 0h1m17 0h1m6 0h1m21 0h1m-234 1h4m15 0h1m7 0h1m120 0h1m5 0h1m51 0h1m3 0h1m23 0h1m30 0h1m-246 1h1m5 0h1m122 0h1m4 0h1m32 0h1m47 0h1m-215 1h4m37 0h1m45 0h1m41 0h4m34 0h1m6 0h1m40 0h1m24 0h1m-170 1h3m12 0h1m82 0h1m47 0h4m7 0h1m10 0h1m-245 1h2m3 0h2m42 0h1m22 0h2m8 0h1m6 0h1m146 0h1m6 0h1m-246 1h1m7 0h1m45 0h4m4 0h3m6 0h7m59 0h3m100 0h4m-244 1h1m7 0h1m60 0h3m6 0h1m40 0h3m15 0h3m77 0h8m-224 1h1m5 0h1m64 0h1m5 0h1m40 0h3m93 0h2m7 0h2m-153 1h4m138 0h1m9 0h2m-11 1h1m8 0h1m-9 1h1m6 0h1m17 0h4m-26 1h3m20 0h2m-199 2h2m1 0h3m-11 1h1m9 0h1m-13 1h2m9 0h1m218 0h2m-229 1h5m220 0h2m-2 1h1m-1 1h1m0 1h3"/>
<path stroke="#10ffef" d="M198 38.5h2m-2 1h2m-2 2h1m-1 8h1m1 2h1m-178 1h1m171 0h1m53 0h1m-228 1h2m-2 1h3m229 0h1m-240 1h3m4 0h3m228 0h1m-240 1h2m6 0h5m165 0h1m14 0h1m44 0h1m-253 1h7m5 0h2m9 0h4m21 0h2m158 0h1m42 0h1m10 0h1m-240 1h1m2 0h1m18 0h2m3 0h1m140 0h1m17 0h1m-184 1h1m23 0h1m23 0h1m99 0h1m4 0h1m30 0h1m37 0h1m-222 1h1m14 0h1m7 0h1m34 0h1m86 0h1m8 0h1m8 0h1m57 0h1m15 0h1m52 0h3m-269 1h1m36 0h1m101 0h1m27 0h1m-189 1h1m10 0h1m9 0h1m14 0h1m23 0h1m65 0h1m24 0h1m8 0h1m29 0h1m26 0h1m64 0h1m-272 1h1m10 0h1m11 0h1m117 0h1m7 0h1m119 0h1m-272 1h2m12 0h1m9 0h1m118 0h1m7 0h1m30 0h1m79 0h5m-252 1h1m40 0h1m48 0h1m15 0h1m5 0h1m16 0h1m6 0h1m51 0h3m53 0h1m-244 1h1m4 0h1m123 0h1m4 0h2m-139 1h8m38 0h1m86 0h5m34 0h1m4 0h1m41 0h2m4 0h7m-234 1h1m7 0h1m66 0h4m1 0h3m54 0h2m96 0h2m-229 1h1m42 0h2m4 0h4m16 0h1m57 0h1m3 0h1m77 0h6m14 0h2m4 0h1m-246 1h1m9 0h1m57 0h2m10 0h1m37 0h2m3 0h2m12 0h1m3 0h1m45 0h5m24 0h2m8 0h2m13 0h5m-245 1h1m7 0h1m61 0h2m7 0h1m37 0h2m3 0h2m61 0h6m23 0h1m11 0h2m14 0h1m-240 1h3m66 0h1m4 0h1m136 0h1m12 0h1m14 0h2m-29 1h1m10 0h2m12 0h7m-31 1h1m8 0h2m13 0h2m4 0h2m-30 1h2m3 0h2m16 0h2m2 0h3m-198 1h1m-7 1h2m6 0h1m-13 1h1m11 0h1m216 0h2m-233 1h1m12 0h1m63 0h1m151 0h2m-229 1h2m5 0h2m217 1h1m-1 1h1m0 1h1"/>
<path stroke="#20ffdf" d="M198 40.5h2m-2 3h1m-1 5h1m0 2h1m56 1h1m1 1h1m-56 2h1m46 0h1m-233 1h4m171 0h1m11 0h1m-190 1h2m235 0h1m7 0h1m-248 1h2m6 0h1m227 0h1m1 0h1m-253 1h14m8 0h1m1 0h2m21 0h3m200 0h2m-229 1h3m18 0h1m4 0h1m31 0h1m93 0h4m12 0h1m58 0h1m12 0h1m-221 1h1m5 0h1m130 0h1m30 0h1m-184 1h1m13 0h1m7 0h1m18 0h1m79 0h1m3 0h1m17 0h1m9 0h1m9 0h1m22 0h4m30 0h1m16 0h1m48 0h1m-273 1h1m7 0h1m119 0h1m20 0h1m27 0h1m46 0h1m-236 1h1m10 0h1m8 0h1m117 0h1m11 0h1m9 0h1m28 0h1m14 0h1m2 0h1m28 0h1m-234 1h1m6 0h1m10 0h1m40 0h1m51 0h1m22 0h1m12 0h1m9 0h1m41 0h1m6 0h1m5 0h1m21 0h1m37 0h2m-255 1h1m8 0h1m119 0h1m8 0h1m29 0h1m23 0h1m23 0h1m-217 1h2m6 0h1m121 0h1m59 0h2m25 0h1m26 0h1m-247 1h1m8 0h1m123 0h1m5 0h1m79 0h1m25 0h1m-248 1h1m9 0h1m39 0h1m29 0h1m11 0h1m43 0h2m2 0h2m35 0h3m38 0h11m6 0h1m10 0h1m-248 1h1m10 0h1m40 0h1m27 0h1m55 0h1m5 0h1m74 0h2m6 0h3m10 0h1m7 0h1m-236 1h1m42 0h3m10 0h1m13 0h1m35 0h1m7 0h1m10 0h1m5 0h1m42 0h2m5 0h2m21 0h1m12 0h2m9 0h2m5 0h1m-247 1h1m9 0h1m58 0h2m46 0h1m7 0h1m11 0h5m43 0h1m6 0h2m20 0h1m14 0h2m9 0h3m1 0h2m-244 1h2m3 0h2m63 0h1m6 0h1m107 0h4m23 0h1m14 0h2m9 0h3m2 0h3m-33 1h1m13 0h1m9 0h2m7 0h1m-33 1h1m11 0h1m11 0h1m8 0h1m-32 1h1m7 0h2m13 0h1m7 0h1m-201 1h2m1 0h2m189 0h6m-205 1h1m9 0h1m215 0h2m-232 1h1m227 0h2m-217 1h1m61 0h1m1 0h1m65 0h4m80 0h1m-228 1h1m9 0h1m216 0h1m-2 2h1m0 1h1m1 1h3"/>
<path stroke="#30ffcf" d="M197 50.5h1m59 1h1m-57 2h1m46 0h1m6 0h1m3 1h1m-10 1h1m3 0h1m5 0h1m-243 1h4m228 0h1m-235 1h2m3 0h1m170 0h1m-179 1h3m4 0h1m186 0h1m39 0h1m3 0h1m9 0h1m-260 1h10m9 0h1m22 0h4m26 0h1m4 0h1m128 0h1m39 0h1m1 0h1m-226 1h1m17 0h1m3 0h1m23 0h1m11 0h1m88 0h1m4 0h2m11 0h1m57 0h1m-207 1h2m3 0h2m37 0h1m92 0h1m31 0h2m101 0h1m-287 1h1m13 0h2m4 0h1m97 0h1m32 0h1m37 0h1m94 0h1m-271 1h1m6 0h1m14 0h1m25 0h1m54 0h1m10 0h1m22 0h1m38 0h1m16 0h2m9 0h1m63 0h1m-279 1h1m8 0h1m8 0h1m106 0h1m61 0h1m87 0h1m-257 1h1m41 0h1m86 0h1m50 0h1m8 0h1m4 0h1m21 0h1m30 0h1m-249 1h2m9 0h1m33 0h1m47 0h1m17 0h3m17 0h1m8 0h1m30 0h1m8 0h1m10 0h1m2 0h1m23 0h1m-221 1h2m10 0h1m81 0h1m39 0h1m7 0h1m31 0h1m6 0h1m12 0h2m22 0h3m-222 1h1m11 0h1m37 0h1m85 0h1m6 0h1m33 0h1m3 0h1m36 0h1m11 0h6m12 0h1m-250 1h1m12 0h1m38 0h1m29 0h7m30 0h6m11 0h1m7 0h1m46 0h6m20 0h1m11 0h2m6 0h2m9 0h1m-249 1h1m52 0h2m3 0h2m7 0h1m15 0h1m33 0h1m9 0h1m8 0h1m47 0h2m9 0h2m17 0h2m15 0h2m6 0h1m8 0h1m-237 1h1m40 0h4m12 0h1m12 0h1m34 0h1m9 0h1m9 0h1m5 0h1m40 0h2m9 0h1m17 0h2m17 0h2m6 0h1m6 0h2m-247 1h1m7 0h1m42 0h2m17 0h1m48 0h5m61 0h1m4 0h2m20 0h1m17 0h2m5 0h2m8 0h1m-197 1h2m19 0h5m136 0h1m15 0h2m5 0h2m10 0h2m-199 1h2m175 0h2m7 0h2m10 0h1m-200 1h4m162 0h1m10 0h1m10 0h2m9 0h1m-203 1h1m5 0h1m166 0h6m14 0h2m6 0h1m-207 1h1m224 0h2m-231 1h1m14 0h1m60 0h3m65 0h5m79 0h1m-230 1h1m75 0h1m3 0h1m63 0h1m4 0h1m-149 1h1m11 0h1m63 0h3m148 0h1m-1 1h1m-1 2h1m1 1h1m-147 6h4m-4 1h4m-2 1h1"/>
<path stroke="#40ffbf" d="M197 47.5h1m1 0h1m-2 3h1m-3 1h1m52 2h1m8 0h1m-65 1h1m53 0h2m5 0h1m-8 1h2m-57 1h1m12 0h1m41 0h2m4 0h1m5 0h1m-243 1h3m186 0h1m40 0h2m3 0h1m7 0h1m-245 1h4m171 0h1m56 0h1m-250 1h3m10 0h4m4 0h1m54 0h1m2 0h1m-73 1h5m11 0h3m19 0h3m126 0h4m32 0h1m39 0h1m12 0h1m-237 1h1m17 0h3m22 0h1m79 0h3m19 0h1m6 0h1m12 0h1m56 0h1m14 0h1m51 0h1m-272 1h4m18 0h1m21 0h1m89 0h1m12 0h1m22 0h3m30 0h1m-205 1h1m3 0h2m142 0h1m25 0h1m-176 1h1m5 0h2m13 0h1m115 0h1m11 0h1m46 0h1m7 0h1m19 0h1m41 0h1m-260 1h2m11 0h1m95 0h1m7 0h1m24 0h1m107 0h1m-251 1h1m114 0h1m26 0h1m48 0h1m4 0h1m21 0h1m29 0h1m-251 1h1m48 0h1m84 0h1m9 0h1m49 0h1m2 0h1m20 0h1m30 0h1m-251 1h1m13 0h1m80 0h1m40 0h1m8 0h1m31 0h1m5 0h1m10 0h5m19 0h1m-220 1h1m14 0h1m74 0h2m26 0h2m6 0h2m8 0h1m9 0h1m33 0h4m1 0h7m6 0h2m16 0h2m14 0h6m12 0h1m-251 1h1m13 0h1m38 0h1m7 0h1m4 0h2m17 0h1m31 0h1m11 0h1m6 0h1m8 0h1m37 0h2m13 0h1m15 0h1m19 0h6m10 0h1m-250 1h1m12 0h1m38 0h1m4 0h2m9 0h1m14 0h1m44 0h1m7 0h1m7 0h1m38 0h1m12 0h2m14 0h1m21 0h6m9 0h2m-250 1h1m9 0h1m40 0h1m2 0h2m14 0h1m9 0h1m37 0h2m5 0h1m58 0h2m7 0h2m17 0h1m20 0h5m11 0h2m-200 1h1m2 0h2m16 0h1m5 0h1m153 0h5m14 0h1m-201 1h1m2 0h2m159 0h1m15 0h2m3 0h2m13 0h2m-204 1h2m4 0h1m173 0h2m7 0h1m12 0h2m-206 1h1m7 0h1m164 0h1m6 0h2m11 0h1m9 0h2m16 0h4m-230 1h1m12 0h1m188 0h6m17 0h1m-230 1h1m16 0h1m58 0h1m3 0h1m63 0h1m5 0h1m-152 1h1m16 0h1m126 0h1m6 0h1m77 0h1m-229 1h1m13 0h1m61 0h1m3 0h1m64 0h4m78 2h1m1 2h1m-146 5h5m-6 1h1m4 0h2m-7 1h1m4 0h1m-5 1h2m1 0h2"/>
<path stroke="#50ffaf" d="M197 44.5h3m-3 1h3m-3 1h3m-2 1h1m1 5h1m55 0h1m-62 1h1m6 1h1m55 0h1m-55 1h1m50 0h1m3 0h1m-6 2h1m-2 1h1m7 0h1m-245 1h4m56 0h2m113 0h1m59 0h1m9 0h1m-263 1h7m5 0h4m6 0h1m50 0h1m9 0h1m108 0h1m-167 1h1m59 0h1m90 0h2m32 0h1m105 0h3m-292 1h1m126 0h1m15 0h1m6 0h1m34 0h2m50 0h1m48 0h1m-285 1h1m14 0h3m131 0h1m37 0h1m30 0h1m17 0h1m45 0h1m-281 1h1m11 0h5m43 0h1m86 0h1m13 0h1m25 0h1m14 0h1m-198 1h7m3 0h3m95 0h1m34 0h1m12 0h1m26 0h1m19 0h1m6 0h1m19 0h1m33 0h1m-254 1h2m13 0h1m31 0h1m65 0h1m19 0h1m11 0h1m27 0h1m45 0h1m31 0h1m-253 1h1m14 0h1m101 0h1m16 0h1m11 0h1m28 0h1m8 0h1m9 0h1m4 0h1m18 0h1m32 0h1m-253 1h1m15 0h1m34 0h1m66 0h1m17 0h1m10 0h1m29 0h1m7 0h1m8 0h1m5 0h1m17 0h1m32 0h1m-200 1h1m39 0h1m24 0h1m10 0h1m6 0h1m43 0h1m4 0h1m15 0h1m14 0h1m35 0h1m-237 1h1m36 0h1m9 0h4m20 0h2m42 0h2m2 0h2m10 0h1m33 0h3m16 0h1m13 0h1m37 0h1m-252 1h1m14 0h1m36 0h1m7 0h1m24 0h1m31 0h1m12 0h1m5 0h1m46 0h1m15 0h1m12 0h1m39 0h1m-240 1h1m38 0h1m5 0h1m24 0h1m35 0h1m8 0h1m56 0h1m11 0h1m15 0h1m39 0h2m-250 1h5m42 0h1m5 0h1m14 0h1m7 0h1m106 0h7m20 0h1m38 0h2m-204 1h1m5 0h1m157 0h1m18 0h3m17 0h1m-198 1h1m159 0h1m14 0h2m3 0h2m15 0h1m17 0h1m-226 1h1m9 0h1m162 0h1m9 0h2m8 0h1m12 0h1m14 0h1m-227 1h1m14 0h1m126 0h5m36 0h5m13 0h2m6 0h1m15 0h1m-86 1h1m7 0h1m76 0h1m-231 1h1m76 0h1m5 0h1m60 0h1m8 0h1m-153 1h1m15 0h1m127 0h2m4 0h1m77 0h1m-224 1h7m216 0h1m-1 2h1m0 1h1m4 1h1m-148 3h3m-6 1h1m5 0h1m-1 2h1m99 0h1m-107 1h1m5 0h1m-115 1h1m109 0h3"/>
<path stroke="#60ff9f" d="M199 51.5h1m57 1h1m-2 1h2m-2 1h2m-64 1h1m61 0h3m-54 1h1m49 0h5m-67 1h1m12 0h1m48 0h3m2 0h1m-68 1h1m13 0h1m0 1h1m-193 1h6m52 0h1m7 0h1m126 0h1m41 0h1m10 0h1m-263 1h14m57 0h1m101 0h2m1 0h1m73 0h1m-183 1h1m19 0h1m59 0h1m28 0h1m15 0h1m18 0h1m36 0h1m65 0h1m-250 1h1m23 0h1m79 0h1m7 0h1m14 0h1m20 0h3m-152 1h1m80 0h1m22 0h1m47 0h2m19 0h1m27 0h1m43 0h1m-275 1h1m7 0h3m17 0h1m28 0h1m125 0h1m46 0h1m35 0h3m-260 1h3m112 0h1m5 0h1m13 0h1m39 0h1m19 0h1m6 0h1m18 0h1m-222 1h2m16 0h1m32 0h1m47 0h1m17 0h2m1 0h1m55 0h1m18 0h1m6 0h1m-203 1h1m97 0h1m19 0h1m1 0h5m11 0h1m30 0h2m8 0h1m15 0h2m7 0h1m15 0h1m34 0h1m-254 1h1m16 0h1m34 0h1m41 0h1m22 0h1m12 0h6m12 0h1m15 0h6m8 0h2m22 0h1m12 0h1m37 0h1m-254 1h1m16 0h1m71 0h1m27 0h1m15 0h2m13 0h1m14 0h7m10 0h1m20 0h2m10 0h1m39 0h1m-202 1h1m9 0h1m6 0h1m17 0h1m29 0h1m14 0h5m10 0h1m34 0h2m17 0h1m10 0h1m41 0h2m-254 1h1m12 0h1m36 0h1m7 0h1m11 0h1m46 0h1m10 0h2m7 0h5m41 0h1m13 0h1m13 0h1m42 0h2m-254 1h2m5 0h2m39 0h1m7 0h1m12 0h1m114 0h1m7 0h2m17 0h1m41 0h2m-207 1h1m7 0h1m15 0h4m177 0h2m-208 1h1m8 0h1m157 0h1m17 0h3m18 0h1m11 0h5m-226 1h1m11 0h1m160 0h1m12 0h2m4 0h2m14 0h1m11 0h2m-227 1h1m74 0h2m64 0h2m5 0h1m33 0h2m5 0h2m10 0h1m9 0h1m13 0h1m-229 1h1m18 0h1m56 0h1m5 0h1m60 0h1m65 0h3m16 0h1m-211 1h1m209 0h1m-230 1h1m82 0h1m68 0h1m-149 1h2m7 0h2m65 0h1m147 1h1m0 2h1m2 1h3m-234 2h2m-3 1h3m83 0h2m3 0h2m-1 1h2m-10 1h1m7 0h1m96 0h5m-110 1h1m7 0h1m96 0h2m1 0h2m-218 1h4m211 0h1m-216 1h1m1 0h2m106 0h1m3 0h1m125 38h8"/>
<path stroke="#70ff8f" d="M200 53.5h1m-6 1h1m5 0h1m1 1h1m-10 1h1m63 1h2m-6 1h5m1 0h1m-68 1h1m59 0h1m7 0h1m-181 1h1m111 0h1m-180 1h2m7 0h3m59 0h1m89 0h1m17 0h1m16 0h1m52 0h1m-260 1h7m16 0h1m144 0h1m3 0h1m34 0h1m52 0h1m51 0h1m-288 1h1m117 0h1m8 0h1m56 0h1m51 0h1m47 0h1m-283 1h1m59 0h1m65 0h1m20 0h1m15 0h1m20 0h2m18 0h1m12 0h1m16 0h1m45 0h1m-277 1h1m122 0h1m9 0h1m10 0h1m14 0h1m22 0h2m14 0h1m5 0h1m65 0h3m-266 1h3m19 0h1m29 0h1m50 0h1m48 0h1m24 0h1m12 0h1m32 0h1m34 0h1m-257 1h1m116 0h1m4 0h1m13 0h1m13 0h1m17 0h3m5 0h1m11 0h1m31 0h1m34 0h1m-256 1h1m18 0h1m32 0h1m65 0h1m7 0h3m6 0h2m13 0h1m15 0h2m2 0h2m5 0h1m10 0h3m1 0h2m10 0h1m13 0h1m36 0h1m-256 1h1m18 0h1m76 0h1m53 0h1m13 0h1m6 0h2m5 0h1m25 0h1m10 0h1m39 0h1m-256 1h1m52 0h1m63 0h1m44 0h2m7 0h2m6 0h2m23 0h1m7 0h2m41 0h2m-256 1h1m16 0h1m45 0h1m3 0h2m93 0h9m9 0h2m20 0h1m7 0h2m44 0h2m-257 1h1m14 0h1m54 0h1m13 0h1m32 0h1m13 0h1m4 0h2m5 0h1m38 0h2m15 0h2m10 0h1m45 0h2m-257 1h1m9 0h1m47 0h1m10 0h1m10 0h1m38 0h7m57 0h2m10 0h1m15 0h1m44 0h2m-210 1h1m9 0h1m12 0h2m4 0h1m109 0h5m21 0h1m42 0h2m-211 1h1m10 0h1m196 0h2m7 0h2m-222 1h1m13 0h1m125 0h4m29 0h1m15 0h4m17 0h1m9 0h1m-226 1h1m17 0h1m56 0h1m2 0h1m62 0h1m8 0h1m31 0h1m9 0h1m7 0h2m11 0h1m-217 1h1m142 0h1m10 0h1m34 0h5m13 0h3m3 0h2m-216 1h1m20 0h1m55 0h1m7 0h1m58 0h1m10 0h1m-137 1h1m58 0h1m66 0h1m8 0h1m74 0h1m-227 1h2m11 0h1m63 0h1m1 0h2m64 0h4m77 0h1m-1 2h1m2 2h1m-233 2h2m2 0h2m83 0h5m-94 1h1m3 0h2m80 0h1m7 0h2m-11 1h1m9 0h1m94 0h5m-111 1h1m9 0h1m94 0h1m5 0h1m-112 1h1m9 0h1m94 0h1m5 0h1m-220 1h1m4 0h1m103 0h1m7 0h1m96 0h2m1 0h2m-219 1h1m4 0h1m104 0h1m5 0h1m-116 1h3m237 36h8m-10 1h2m8 0h1"/>
<path stroke="#80ff80" d="M197 51.5h2m-3 1h4m-4 1h4m-4 1h5m-6 1h5m2 0h1m1 1h1m-11 1h1m-1 1h1m64 0h1m-66 1h1m12 0h1m46 0h5m1 0h1m-186 1h2m3 0h1m127 0h1m43 0h1m8 0h1m-246 1h2m4 0h1m49 0h1m11 0h1m177 0h1m-263 1h4m7 0h2m56 0h1m17 0h1m66 0h1m18 0h1m1 0h1m18 0h1m55 0h1m66 0h3m-253 1h1m21 0h1m81 0h1m5 0h1m16 0h1m17 0h1m36 0h1m14 0h1m49 0h1m-249 1h1m146 0h2m21 0h2m-204 1h1m30 0h1m26 0h1m53 0h1m31 0h1m16 0h1m17 0h4m31 0h1m16 0h1m42 0h1m-269 1h2m117 0h1m7 0h1m11 0h1m15 0h1m16 0h7m20 0h1m8 0h1m15 0h1m36 0h1m-259 1h1m20 0h1m30 0h1m49 0h1m14 0h1m6 0h1m11 0h1m15 0h1m15 0h1m3 0h5m19 0h1m8 0h1m14 0h1m36 0h1m-258 1h1m117 0h1m11 0h6m16 0h1m13 0h1m6 0h5m14 0h1m25 0h1m38 0h1m-205 1h1m44 0h1m19 0h1m33 0h1m10 0h2m9 0h5m27 0h1m8 0h1m41 0h1m-238 1h1m32 0h1m38 0h1m58 0h1m9 0h2m11 0h6m26 0h2m3 0h2m45 0h1m-258 1h1m18 0h1m32 0h1m12 0h3m21 0h1m27 0h1m31 0h1m11 0h2m9 0h3m3 0h3m23 0h3m2 0h2m48 0h2m-243 1h1m33 0h1m9 0h1m8 0h1m46 0h1m15 0h4m8 0h1m36 0h1m19 0h1m7 0h2m48 0h2m-248 1h1m36 0h1m10 0h1m8 0h1m12 0h1m36 0h1m7 0h2m54 0h1m13 0h2m12 0h1m47 0h3m-258 1h4m52 0h1m10 0h1m7 0h1m105 0h3m5 0h3m17 0h1m45 0h14m-226 1h1m12 0h1m126 0h4m24 0h1m42 0h2m3 0h2m-221 1h1m15 0h1m121 0h3m4 0h2m26 0h1m38 0h1m7 0h1m-206 1h1m54 0h1m4 0h1m60 0h1m10 0h1m28 0h2m11 0h2m3 0h2m14 0h1m10 0h1m-208 1h1m54 0h1m7 0h1m57 0h1m45 0h1m5 0h2m10 0h1m8 0h1m12 0h1m-87 1h1m49 0h1m35 0h1m-230 1h1m19 0h1m64 0h1m58 0h1m-143 1h1m14 0h1m61 0h1m66 0h2m4 0h1m75 1h1m0 2h1m1 1h1m-233 2h1m6 0h1m80 0h2m5 0h2m58 0h4m-159 1h1m6 0h2m5 0h3m69 0h1m10 0h1m57 0h4m33 0h3m-155 1h3m42 0h1m11 0h1m92 0h1m5 0h1m-156 1h2m53 0h1m-119 1h4m114 0h1m-121 1h1m6 0h1m101 0h1m9 0h1m94 0h1m5 0h1m-221 1h1m6 0h1m110 0h1m-118 1h1m3 0h1m107 0h5m122 36h2m8 0h1m-13 1h2m11 0h1m-10 1h8"/>
<path stroke="#8fff70" d="M200 55.5h2m-7 1h4m-4 1h1m9 0h1m-11 1h1m10 0h1m52 1h1m-183 1h3m114 0h1m61 0h2m-240 1h4m51 0h1m9 0h1m110 0h1m14 0h1m41 0h1m-239 1h2m11 0h1m43 0h1m78 0h1m24 0h1m35 0h1m52 0h1m-264 1h11m17 0h1m147 0h1m18 0h1m15 0h1m103 0h1m-286 1h1m59 0h1m56 0h1m22 0h1m6 0h1m17 0h1m16 0h1m36 0h1m14 0h1m47 0h1m-280 1h1m123 0h1m54 0h1m21 0h1m3 0h1m25 0h1m44 0h1m-272 1h2m25 0h1m27 0h1m52 0h1m11 0h1m9 0h1m9 0h1m17 0h1m14 0h1m21 0h1m68 0h2m-262 1h1m125 0h2m8 0h1m17 0h1m13 0h1m22 0h1m4 0h1m10 0h1m12 0h1m38 0h1m-260 1h1m21 0h1m79 0h1m15 0h1m35 0h1m11 0h1m40 0h1m10 0h1m40 0h1m-259 1h1m20 0h1m77 0h1m17 0h1m35 0h1m8 0h1m44 0h2m4 0h2m43 0h1m-259 1h1m20 0h1m71 0h1m23 0h1m34 0h1m7 0h1m47 0h3m48 0h2m-144 1h1m43 0h1m14 0h3m29 0h2m52 0h2m-262 1h1m17 0h1m43 0h2m5 0h1m16 0h1m59 0h1m17 0h18m21 0h3m2 0h2m52 0h2m-262 1h1m12 0h2m46 0h1m6 0h1m48 0h2m10 0h1m51 0h2m16 0h1m10 0h1m51 0h4m-264 1h2m4 0h2m38 0h1m12 0h1m7 0h2m9 0h1m102 0h2m11 0h1m15 0h1m-152 1h1m11 0h5m106 0h3m4 0h3m20 0h1m45 0h3m-220 1h1m17 0h1m119 0h1m9 0h2m23 0h1m40 0h2m4 0h1m-225 1h1m20 0h1m59 0h1m58 0h1m12 0h1m26 0h1m15 0h3m17 0h1m8 0h1m-229 1h1m22 0h1m132 0h1m31 0h1m8 0h1m7 0h2m10 0h1m10 0h1m-230 1h1m22 0h1m133 0h1m34 0h2m1 0h2m16 0h3m-138 1h1m77 0h1m-155 1h1m16 0h1m65 0h1m60 0h1m7 0h1m74 0h1m-1 2h1m1 2h1m-231 1h5m85 0h6m138 0h3m-230 1h10m69 0h1m9 0h3m54 0h1m4 0h1m-161 1h1m9 0h5m3 0h1m22 0h4m41 0h1m12 0h2m54 0h1m4 0h1m30 0h2m3 0h2m-196 1h5m37 0h1m54 0h1m90 0h1m7 0h1m-158 1h1m2 0h1m40 0h1m12 0h2m90 0h1m7 0h1m-221 1h1m4 0h2m57 0h1m42 0h1m12 0h1m91 0h1m7 0h1m-214 1h1m111 0h1m92 0h1m7 0h1m-112 1h1m8 0h1m95 0h6m-221 1h1m5 0h1m105 0h1m5 0h1m-117 1h3m-63 4h3m-3 1h2m17 26h4m273 4h2m11 0h1m-15 1h1m14 0h1m-13 1h2m8 0h1"/>
<path stroke="#9fff60" d="M199 56.5h2m2 0h1m-8 1h4m4 0h1m-9 1h4m-5 1h5m-5 1h6m6 0h1m45 0h3m2 0h3m-187 1h2m6 0h1m112 0h6m60 0h1m-247 1h1m7 0h3m45 0h1m14 0h1m63 0h1m2 0h1m41 0h5m62 0h1m-252 1h2m55 0h1m19 0h1m59 0h1m6 0h1m16 0h1m2 0h1m20 0h2m12 0h1m39 0h1m12 0h1m52 0h1m-288 1h1m37 0h1m88 0h1m19 0h1m19 0h1m14 0h1m51 0h1m49 0h1m-282 1h1m33 0h1m24 0h1m77 0h1m7 0h1m18 0h1m14 0h1m25 0h1m11 0h1m13 0h1m46 0h1m-274 1h1m139 0h1m32 0h1m27 0h1m10 0h1m13 0h1m40 0h2m-265 1h1m23 0h1m28 0h1m64 0h1m10 0h1m5 0h2m19 0h1m11 0h1m24 0h1m2 0h1m23 0h1m40 0h1m-238 1h1m29 0h1m49 0h1m13 0h1m37 0h1m9 0h1m42 0h1m8 0h1m42 0h1m-261 1h1m22 0h1m29 0h1m47 0h1m15 0h1m37 0h1m5 0h2m47 0h4m46 0h2m-262 1h1m52 0h1m41 0h1m21 0h1m36 0h1m4 0h2m101 0h2m-263 1h1m20 0h1m69 0h1m59 0h1m7 0h2m103 0h2m-265 1h1m19 0h1m44 0h5m18 0h1m28 0h1m44 0h3m42 0h2m56 0h2m-265 1h1m15 0h1m32 0h1m13 0h6m15 0h1m32 0h1m13 0h2m4 0h5m32 0h8m19 0h2m6 0h2m56 0h7m-272 1h1m8 0h2m50 0h3m2 0h2m12 0h1m40 0h4m55 0h2m14 0h2m12 0h1m-166 1h1m15 0h2m6 0h3m5 0h1m102 0h3m10 0h2m17 0h1m-172 1h1m19 0h1m53 0h3m60 0h2m12 0h1m21 0h1m43 0h4m-225 1h1m22 0h1m51 0h1m7 0h1m56 0h1m14 0h1m24 0h1m37 0h1m6 0h1m-229 1h1m76 0h1m9 0h1m55 0h1m14 0h1m29 0h1m10 0h2m3 0h2m13 0h1m-143 1h1m9 0h1m55 0h1m47 0h1m5 0h1m12 0h3m3 0h2m11 0h1m-230 1h1m21 0h1m64 0h1m56 0h1m12 0h1m36 0h1m34 0h1m-229 1h1m18 0h1m58 0h1m6 0h1m68 0h1m-149 1h9m213 2h1m0 1h1m-231 1h1m5 0h2m81 0h2m6 0h5m53 0h4m74 0h2m-236 1h1m18 0h1m22 0h2m43 0h1m13 0h2m51 0h1m6 0h1m30 0h5m-178 1h1m20 0h1m4 0h1m55 0h2m51 0h1m6 0h1m28 0h1m7 0h1m-198 1h1m5 0h3m30 0h1m4 0h1m39 0h1m14 0h2m54 0h5m28 0h1m9 0h1m-160 1h1m4 0h1m54 0h2m87 0h1m9 0h1m-223 1h1m7 0h1m54 0h2m1 0h2m54 0h1m89 0h1m9 0h1m-224 1h1m9 0h1m98 0h1m12 0h1m90 0h1m9 0h1m-224 1h1m8 0h1m111 0h1m93 0h1m6 0h1m-215 1h1m103 0h1m7 0h1m-119 1h1m3 0h1m109 0h3m-176 3h4m-1 1h1m-2 1h2m-4 14h2m17 11h4m-5 1h1m4 0h1m-5 1h2m281 2h4m-12 1h2m14 0h2m-19 1h2m16 0h1m-16 1h2m11 0h2"/>
<path stroke="#afff50" d="M201 56.5h2m-3 1h2m1 0h1m-4 1h2m3 0h1m-6 1h2m4 0h1m-6 1h1m-126 1h6m126 0h1m43 0h1m3 0h5m-245 1h2m4 0h1m49 0h1m12 0h1m65 0h2m47 0h1m8 0h1m41 0h1m9 0h1m-249 1h1m13 0h1m41 0h1m17 0h1m85 0h2m23 0h2m62 0h1m54 0h3m-320 1h9m80 0h1m81 0h1m25 0h1m12 0h1m39 0h1m63 0h1m-284 1h1m35 0h1m79 0h1m8 0h1m19 0h1m20 0h1m12 0h1m24 0h2m74 0h1m-277 1h2m29 0h1m25 0h1m64 0h1m11 0h1m6 0h1m20 0h1m36 0h1m2 0h1m24 0h1m43 0h2m-269 1h2m25 0h1m79 0h1m11 0h1m12 0h5m32 0h1m26 0h2m13 0h1m52 0h2m-264 1h1m52 0h1m63 0h1m39 0h1m7 0h1m44 0h2m4 0h2m44 0h2m-264 1h1m102 0h1m53 0h5m101 0h2m-241 1h1m72 0h1m58 0h4m105 0h2m-266 1h1m22 0h1m29 0h1m39 0h1m23 0h1m35 0h1m5 0h1m107 0h1m-245 1h1m29 0h1m64 0h1m31 0h1m12 0h1m105 0h3m-269 1h1m17 0h3m96 0h1m16 0h4m5 0h2m24 0h6m29 0h6m-208 1h1m11 0h3m32 0h1m17 0h2m52 0h3m4 0h2m47 0h6m18 0h2m9 0h1m-208 1h4m38 0h1m18 0h6m9 0h1m98 0h3m15 0h2m-135 1h1m10 0h2m38 0h2m3 0h2m57 0h1m15 0h1m19 0h1m-178 1h1m24 0h1m49 0h1m81 0h1m22 0h1m39 0h2m3 0h1m-203 1h1m160 0h2m13 0h3m16 0h1m7 0h1m-230 1h1m24 0h1m133 0h1m31 0h1m7 0h2m8 0h2m8 0h1m-220 1h1m23 0h1m168 0h2m1 0h2m-176 1h1m123 0h1m10 0h1m71 0h1m-225 1h3m9 0h2m64 0h3m18 0h3m43 0h4m75 0h1m-127 1h5m121 0h1m-129 1h7m-14 1h13m-107 1h1m8 0h11m69 0h1m13 0h3m49 0h1m4 0h2m71 0h1m-235 1h1m20 0h1m20 0h1m2 0h2m57 0h2m48 0h1m8 0h1m27 0h2m5 0h1m-199 1h1m20 0h1m25 0h1m38 0h1m17 0h2m48 0h1m8 0h1m26 0h1m9 0h1m-200 1h1m9 0h9m20 0h1m6 0h1m37 0h1m17 0h3m50 0h1m5 0h1m26 0h1m-210 1h5m55 0h1m44 0h1m17 0h3m83 0h1m-203 1h1m52 0h1m44 0h1m15 0h4m84 0h1m-202 1h1m52 0h4m55 0h1m-114 1h1m99 0h1m11 0h1m91 0h1m8 0h1m-224 1h1m8 0h1m111 0h1m96 0h5m-222 1h1m5 0h2m105 0h2m3 0h2m80 1h4m-262 1h3m255 0h4m-258 1h1m-1 1h1m-1 1h1m302 0h2m-309 1h4m304 0h1m-309 12h3m-1 1h3m285 0h4m-18 4h3m-261 7h1m4 0h2m-8 1h1m6 0h1m-7 1h1m2 0h2m275 2h4m4 0h3m-16 1h1m18 0h1m-22 1h2m19 0h2m-20 1h2m15 0h1"/>
<path stroke="#bfff40" d="M202 57.5h1m-1 1h3m-3 1h1m2 0h1m0 1h1m-6 1h1m5 0h1m45 0h1m1 0h1m-238 1h2m1 0h1m51 0h2m9 0h1m116 0h1m6 0h1m51 0h1m-247 1h1m11 0h1m43 0h1m15 0h1m62 0h1m4 0h1m45 0h1m8 0h1m51 0h1m-253 1h2m17 0h1m39 0h1m19 0h1m59 0h1m6 0h1m16 0h1m1 0h2m22 0h2m62 0h1m52 0h1m-316 1h7m23 0h1m59 0h1m79 0h1m4 0h1m22 0h1m51 0h1m11 0h1m49 0h1m-313 1h3m31 0h1m32 0h1m79 0h1m8 0h1m13 0h1m4 0h1m22 0h1m10 0h1m25 0h2m13 0h1m10 0h1m46 0h1m-309 1h2m36 0h1m28 0h1m25 0h1m53 0h1m9 0h1m40 0h1m8 0h1m43 0h1m8 0h1m44 0h2m-307 1h3m37 0h1m25 0h1m79 0h1m10 0h1m41 0h2m3 0h2m47 0h4m48 0h2m-307 1h3m37 0h1m25 0h1m27 0h1m50 0h1m12 0h1m147 0h2m-308 1h2m39 0h1m24 0h1m27 0h1m44 0h1m18 0h1m149 0h2m-269 1h1m24 0h2m90 0h1m37 0h5m109 0h2m-269 1h1m22 0h3m1 0h5m58 0h1m25 0h1m33 0h1m9 0h2m109 0h6m-276 1h1m21 0h8m20 0h1m36 0h1m29 0h1m28 0h1m20 0h3m-168 1h1m15 0h8m59 0h1m33 0h3m9 0h3m40 0h4m26 0h1m7 0h1m-209 1h2m4 0h3m70 0h1m36 0h4m54 0h3m20 0h1m13 0h1m-172 1h1m22 0h4m1 0h5m2 0h2m35 0h1m7 0h1m54 0h2m17 0h1m-160 1h1m26 0h1m58 0h1m54 0h1m38 0h1m42 0h3m-228 1h1m26 0h1m115 0h1m16 0h1m25 0h1m35 0h1m5 0h1m-203 1h1m62 0h1m53 0h1m46 0h1m10 0h1m5 0h2m11 0h1m8 0h1m-152 1h1m10 0h1m54 0h1m14 0h1m32 0h1m5 0h2m29 0h1m-229 1h1m86 0h1m16 0h2m38 0h1m-143 1h2m14 0h1m62 0h1m3 0h1m15 0h2m3 0h2m39 0h2m4 0h2m-55 1h2m5 0h1m-11 1h3m7 0h1m120 0h1m-228 1h5m84 0h3m13 0h1m122 0h1m-211 1h1m67 0h1m17 0h1m47 0h1m7 0h1m27 0h7m35 0h1m-212 1h1m18 0h1m5 0h1m39 0h1m18 0h2m56 0h1m24 0h2m8 0h2m-202 1h1m22 0h1m17 0h1m65 0h1m57 0h1m24 0h1m11 0h1m-202 1h1m19 0h1m85 0h1m48 0h1m7 0h1m24 0h1m12 0h1m-223 1h1m5 0h2m60 0h1m58 0h2m80 0h1m12 0h1m-225 1h1m10 0h1m57 0h1m58 0h3m80 0h1m12 0h1m-226 1h1m12 0h1m50 0h1m4 0h1m39 0h1m15 0h5m83 0h1m11 0h1m-226 1h1m11 0h2m96 0h1m13 0h2m87 0h2m10 0h1m-226 1h1m10 0h1m100 0h1m10 0h1m92 0h3m5 0h2m-225 1h1m8 0h1m103 0h1m7 0h1m79 0h5m-203 1h4m193 0h1m4 0h2m-261 1h2m252 0h1m4 0h2m-259 1h1m252 0h5m-258 1h1m-1 1h1m300 0h1m2 0h2m-307 1h1m301 0h2m1 0h2m-308 12h2m285 0h5m-290 1h1m283 0h1m4 0h2m-296 1h5m285 0h5m-19 2h4m-5 1h1m3 0h1m-4 1h3m-262 6h1m7 0h1m-10 1h1m8 0h1m-9 1h1m5 0h1m272 2h2m11 0h2m-20 1h2m20 0h1m-24 1h1m23 0h1m-23 1h2m18 0h1m-13 1h8"/>
<path stroke="#cfff30" d="M203 59.5h2m-3 1h1m-1 1h1m51 0h1m-235 1h1m54 0h9m168 0h1m3 0h4m-245 1h1m9 0h1m45 0h2m12 0h1m64 0h1m100 0h1m8 0h1m-250 1h2m14 0h1m41 0h1m17 0h1m85 0h1m35 0h1m51 0h1m54 0h1m-310 1h2m20 0h1m38 0h1m20 0h1m58 0h1m6 0h1m15 0h4m24 0h1m9 0h1m51 0h1m51 0h1m-311 1h4m26 0h1m34 0h1m22 0h1m56 0h1m6 0h1m15 0h4m24 0h1m8 0h1m42 0h1m8 0h1m48 0h2m-309 1h4m31 0h1m54 0h1m63 0h1m42 0h1m52 0h1m5 0h2m47 0h2m-306 1h3m33 0h1m27 0h1m25 0h1m53 0h1m8 0h1m44 0h3m103 0h1m-305 1h3m33 0h1m27 0h1m78 0h1m10 0h1m150 0h1m-307 1h4m34 0h1m26 0h2m4 0h2m65 0h2m15 0h1m152 0h1m-311 1h3m65 0h9m17 0h1m41 0h1m175 0h2m-272 1h1m26 0h1m5 0h2m17 0h1m63 0h1m35 0h1m7 0h1m-160 1h1m30 0h2m56 0h1m26 0h2m30 0h1m16 0h3m-166 1h1m24 0h4m19 0h1m36 0h1m30 0h2m15 0h3m34 0h3m31 0h3m1 0h3m-210 1h2m9 0h3m31 0h1m36 0h1m32 0h3m4 0h5m47 0h2m24 0h1m11 0h1m-212 1h7m33 0h1m27 0h1m9 0h2m32 0h1m9 0h1m52 0h1m20 0h2m15 0h1m-216 1h5m32 0h1m28 0h2m45 0h1m11 0h1m52 0h1m18 0h1m19 0h1m-220 1h7m30 0h1m28 0h1m48 0h1m11 0h1m52 0h1m42 0h1m37 0h2m2 0h1m-265 1h5m31 0h1m27 0h1m49 0h1m82 0h1m28 0h1m12 0h5m14 0h1m6 0h1m-230 1h1m25 0h1m117 0h1m46 0h2m8 0h1m11 0h7m9 0h1m-229 1h1m22 0h1m55 0h1m23 0h2m2 0h2m49 0h1m33 0h7m29 0h1m-227 1h1m17 0h2m59 0h1m5 0h1m13 0h1m7 0h1m37 0h1m8 0h1m71 0h1m-130 1h2m8 0h1m118 0h1m-134 1h3m11 0h1m118 0h1m-228 1h1m5 0h2m6 0h4m70 0h2m17 0h1m46 0h6m68 0h1m-231 1h1m21 0h1m20 0h3m42 0h1m19 0h2m44 0h1m9 0h1m23 0h3m7 0h2m32 0h1m-234 1h1m23 0h1m62 0h1m21 0h1m44 0h1m11 0h1m22 0h1m12 0h1m34 0h4m-217 1h1m24 0h1m36 0h1m21 0h2m44 0h1m11 0h1m21 0h2m-190 1h1m21 0h1m17 0h1m8 0h1m35 0h1m22 0h2m45 0h1m9 0h1m22 0h1m14 0h1m-225 1h1m8 0h2m13 0h5m32 0h1m44 0h1m23 0h1m48 0h5m25 0h1m14 0h1m-214 1h2m48 0h1m7 0h1m36 0h1m23 0h1m78 0h1m14 0h1m-213 1h2m47 0h1m6 0h1m59 0h2m79 0h2m13 0h1m-213 1h2m48 0h5m57 0h3m83 0h1m13 0h1m-215 1h2m97 0h1m12 0h2m76 0h6m6 0h2m10 0h2m-217 1h1m111 0h1m76 0h2m5 0h3m12 0h8m-286 1h3m55 0h2m4 0h2m107 0h5m78 0h1m7 0h2m16 0h4m-281 1h1m250 0h1m7 0h1m-259 1h1m250 0h1m5 0h1m-258 1h1m300 0h4m-305 1h1m75 0h3m29 0h4m186 0h2m5 0h2m-308 1h1m108 0h6m184 0h2m5 0h2m-313 1h3m112 0h6m6 2h7m35 3h5m-4 1h5m-4 1h3m-169 4h1m283 0h1m5 0h2m-291 1h2m280 0h1m7 0h1m-292 1h2m281 0h2m5 0h1m-21 2h1m4 0h1m-7 1h1m5 0h2m-7 1h1m3 0h1m-261 5h6m-9 1h1m9 0h1m-12 1h1m10 0h1m-11 1h1m7 0h1m269 2h2m15 0h1m-23 1h2m23 0h1m-27 1h2m25 0h2m-27 1h2m21 0h2m-18 1h3m8 0h2"/>
<path stroke="#dfff20" d="M203 60.5h3m-3 1h1m2 0h1m-5 1h1m4 0h1m45 0h1m1 0h1m-240 1h2m5 0h2m48 0h3m8 0h1m66 0h3m47 0h1m6 0h1m43 0h1m5 0h2m-247 1h1m56 0h1m15 0h1m62 0h1m4 0h1m45 0h1m7 0h1m42 0h1m8 0h1m56 0h3m-311 1h2m58 0h1m18 0h1m60 0h1m4 0h1m53 0h1m42 0h1m8 0h1m53 0h1m-308 1h1m23 0h2m36 0h1m20 0h1m58 0h1m4 0h1m52 0h1m103 0h1m-306 1h2m27 0h2m31 0h2m21 0h1m56 0h1m5 0h2m44 0h1m5 0h1m46 0h5m51 0h1m-304 1h2m30 0h1m29 0h2m78 0h1m6 0h1m152 0h2m-304 1h2m60 0h4m21 0h1m53 0h1m8 0h1m152 0h2m-305 1h2m31 0h1m29 0h4m2 0h3m15 0h1m48 0h4m10 0h1m154 0h2m-310 1h3m34 0h1m36 0h1m59 0h1m19 0h1m156 0h3m-276 1h1m35 0h1m56 0h1m22 0h1m37 0h1m4 0h2m-160 1h1m33 0h1m16 0h1m64 0h1m47 0h2m-164 1h1m29 0h2m16 0h1m66 0h2m20 0h6m26 0h2m37 0h1m-208 1h1m14 0h14m16 0h1m67 0h3m12 0h3m42 0h2m27 0h2m8 0h1m-213 1h2m7 0h2m29 0h2m40 0h1m30 0h1m11 0h1m50 0h1m23 0h1m13 0h1m-217 1h2m5 0h3m28 0h1m31 0h12m97 0h1m20 0h1m16 0h2m-220 1h1m7 0h1m59 0h2m130 0h1m21 0h2m40 0h2m-266 1h2m5 0h2m28 0h1m29 0h1m61 0h1m51 0h1m44 0h2m33 0h1m4 0h1m-264 1h4m58 0h1m76 0h5m52 0h1m28 0h1m11 0h2m6 0h3m7 0h2m-197 1h1m64 0h1m11 0h2m6 0h1m34 0h1m14 0h1m31 0h1m7 0h1m-199 1h1m20 0h1m65 0h1m11 0h1m9 0h1m35 0h1m10 0h1m34 0h5m30 0h1m-224 1h15m78 0h2m11 0h1m40 0h4m72 0h1m-225 1h3m85 0h4m15 0h1m78 0h3m-192 1h1m8 0h6m4 0h2m67 0h1m20 0h1m43 0h2m6 0h2m23 0h12m-200 1h1m23 0h1m18 0h1m3 0h2m39 0h1m22 0h1m42 0h1m11 0h1m20 0h2m12 0h2m29 0h1m-192 1h1m7 0h1m36 0h1m23 0h1m42 0h1m13 0h1m19 0h2m14 0h1m31 0h2m-238 1h1m40 0h1m44 0h1m24 0h1m42 0h1m13 0h1m19 0h1m15 0h1m-221 1h4m12 0h1m23 0h1m86 0h1m43 0h1m11 0h1m20 0h1m-198 1h1m10 0h2m5 0h5m2 0h5m19 0h1m9 0h1m60 0h1m46 0h1m5 0h2m22 0h1m-211 1h1m14 0h2m45 0h1m70 0h1m76 0h1m-195 1h2m90 0h1m23 0h1m76 0h2m-212 1h1m16 0h2m45 0h1m5 0h1m39 0h1m19 0h2m71 0h10m15 0h1m-214 1h2m49 0h3m58 0h1m73 0h2m6 0h6m14 0h2m-230 1h1m11 0h2m99 0h1m10 0h1m74 0h1m10 0h2m7 0h3m8 0h2m-285 1h2m61 0h1m105 0h1m5 0h1m76 0h1m10 0h1m13 0h2m4 0h2m-282 1h1m54 0h3m191 0h1m9 0h2m-154 1h4m139 0h1m7 0h2m-259 1h1m74 0h2m27 0h8m138 0h7m41 0h2m4 0h2m-306 1h1m72 0h2m3 0h2m24 0h3m4 0h3m182 0h1m9 0h1m-308 1h1m75 0h4m24 0h4m6 0h3m180 0h1m9 0h1m-311 1h2m106 0h4m6 0h5m179 0h6m-210 1h3m11 0h17m-32 1h3m19 0h5m7 0h3m-10 1h10m31 1h6m-6 1h1m5 0h2m-8 1h2m5 0h1m-7 1h2m3 0h2m89 0h4m-98 1h4m90 0h4m-269 2h4m287 0h3m-288 1h2m280 0h1m8 0h1m-290 1h1m278 0h1m9 0h2m-292 1h1m279 0h1m8 0h2m-298 1h3m274 0h3m8 0h7m-21 1h1m6 0h2m-10 1h1m8 0h1m-9 1h1m5 0h1m-263 5h1m6 0h2m-12 1h1m11 0h1m-1 1h1m-13 1h1m9 0h1m266 2h2m18 0h1m-25 1h1m26 0h3m-32 1h2m29 0h3m-32 1h2m25 0h2m-23 1h3m13 0h2"/>
<path stroke="#efff10" d="M204 61.5h2m-3 1h1m2 0h1m47 0h1m-237 1h1m2 0h2m53 0h8m118 0h1m4 0h1m48 0h2m-244 1h1m11 0h1m44 0h3m11 0h1m64 0h4m47 0h1m50 0h1m6 0h1m-249 1h1m16 0h1m41 0h2m15 0h1m62 0h4m46 0h1m51 0h1m6 0h1m55 0h2m-309 1h2m20 0h1m39 0h1m17 0h2m60 0h4m46 0h1m51 0h1m5 0h2m52 0h1m-305 1h1m25 0h1m35 0h1m19 0h1m58 0h5m47 0h5m104 0h1m-303 1h1m27 0h2m32 0h3m19 0h1m56 0h6m155 0h1m-303 1h1m29 0h1m33 0h6m70 0h2m4 0h2m155 0h1m-304 1h1m29 0h1m39 0h1m67 0h4m5 0h1m157 0h1m-308 1h2m31 0h1m38 0h1m14 0h1m44 0h1m17 0h1m160 0h3m-320 1h4m36 0h1m37 0h1m14 0h1m41 0h1m20 0h1m39 0h4m-159 1h1m35 0h1m55 0h1m21 0h3m34 0h1m11 0h2m-163 1h1m32 0h1m54 0h1m23 0h4m28 0h2m22 0h2m-169 1h1m29 0h2m13 0h1m39 0h1m26 0h2m18 0h3m37 0h2m31 0h2m3 0h3m-214 1h2m11 0h3m6 0h4m15 0h1m43 0h1m28 0h1m13 0h2m46 0h2m25 0h1m11 0h1m-217 1h1m10 0h2m25 0h1m44 0h2m30 0h1m13 0h1m49 0h1m22 0h1m14 0h1m-219 1h1m9 0h2m26 0h1m32 0h2m43 0h1m13 0h1m50 0h1m20 0h1m18 0h2m-213 1h1m58 0h1m74 0h2m55 0h1m24 0h1m36 0h4m-265 1h2m4 0h2m28 0h1m28 0h1m49 0h1m12 0h1m10 0h2m5 0h1m33 0h1m45 0h1m14 0h6m12 0h1m5 0h1m-229 1h1m25 0h1m52 0h1m11 0h1m9 0h1m9 0h1m32 0h1m45 0h2m9 0h2m25 0h1m-228 1h1m22 0h1m56 0h1m8 0h1m8 0h2m45 0h1m12 0h1m31 0h2m5 0h3m-198 1h2m15 0h2m63 0h6m4 0h3m14 0h1m36 0h3m4 0h3m30 0h9m-196 1h2m3 0h14m68 0h3m20 0h1m41 0h8m25 0h3m3 0h5m30 0h1m-229 1h1m21 0h1m65 0h1m22 0h1m41 0h1m10 0h1m21 0h1m12 0h2m28 0h1m-189 1h1m6 0h1m37 0h1m24 0h1m40 0h1m13 0h1m18 0h1m16 0h1m27 0h1m-233 1h1m25 0h1m14 0h1m70 0h1m73 0h2m17 0h1m29 0h1m-210 1h1m13 0h1m10 0h1m60 0h1m56 0h1m16 0h2m17 0h1m33 0h3m-260 1h2m4 0h3m8 0h1m25 0h1m14 0h1m10 0h1m33 0h1m26 0h1m55 0h1m17 0h2m17 0h1m-227 1h1m12 0h3m4 0h3m12 0h2m5 0h2m62 0h1m26 0h1m44 0h1m8 0h2m18 0h2m17 0h1m-211 1h3m52 0h1m34 0h1m26 0h1m72 0h3m17 0h1m-229 1h1m18 0h2m42 0h1m8 0h1m61 0h1m69 0h6m18 0h1m-210 1h1m43 0h1m7 0h1m60 0h2m67 0h2m26 0h1m-230 1h1m16 0h2m44 0h3m3 0h1m41 0h1m16 0h2m69 0h2m30 0h2m-288 1h3m67 0h2m48 0h1m47 0h1m12 0h2m71 0h1m13 0h7m13 0h1m-284 1h2m50 0h1m9 0h2m102 0h1m7 0h2m73 0h1m12 0h2m10 0h1m8 0h1m-282 1h1m51 0h2m3 0h3m45 0h7m135 0h1m12 0h1m14 0h6m-281 1h1m102 0h3m4 0h3m135 0h1m10 0h1m-189 1h4m2 0h3m22 0h2m8 0h2m135 0h1m7 0h1m39 0h1m8 0h1m-236 1h2m7 0h2m19 0h3m10 0h2m179 0h1m11 0h2m-309 1h1m73 0h1m4 0h2m19 0h3m13 0h2m177 0h1m11 0h2m-311 1h2m94 0h10m15 0h3m175 0h1m6 0h2m-214 1h2m3 0h11m17 0h3m-36 1h1m3 0h3m11 0h5m15 0h2m-38 1h1m23 0h2m10 0h2m30 0h4m-6 1h1m6 0h2m-10 1h2m8 0h1m-10 1h1m8 0h1m-9 1h1m7 0h1m87 0h1m4 0h1m-100 1h1m4 0h2m87 0h1m4 0h1m-266 2h2m283 0h2m3 0h3m-289 1h1m278 0h1m10 0h1m-290 1h1m276 0h1m12 0h1m-292 1h2m275 0h2m11 0h1m-296 1h4m268 0h2m3 0h8m7 0h2m-24 1h1m9 0h2m-13 1h1m10 0h1m-11 1h1m7 0h2m-8 1h4m-262 4h1m9 0h2m-1 1h1m-15 1h1m13 0h1m-15 1h1m11 0h1m-10 1h6m278 0h6m-17 1h2m21 0h2m-29 1h2m30 0h2m-36 1h2m-1 1h3m29 0h3m-29 1h3m18 0h2"/>
<path stroke="#ffff00" d="M204 62.5h2m-187 1h2m185 0h1m46 0h3m-241 1h1m8 0h2m48 0h6m1 0h4m122 0h1m45 0h1m2 0h3m-247 1h1m14 0h1m44 0h2m11 0h2m114 0h1m5 0h1m45 0h1m3 0h2m58 0h3m-310 1h1m18 0h1m41 0h2m14 0h1m113 0h1m4 0h1m46 0h5m55 0h2m-306 1h1m22 0h2m37 0h3m15 0h1m221 0h2m-304 1h1m25 0h1m37 0h5m13 0h1m219 0h2m-304 1h2m25 0h2m40 0h2m12 0h1m57 0h4m158 0h2m-305 1h2m26 0h1m41 0h1m12 0h1m57 0h5m159 0h4m-310 1h1m29 0h1m40 0h1m59 0h2m2 0h13m-152 1h3m32 0h1m39 0h1m56 0h1m10 0h9m-116 1h1m37 0h1m13 0h1m41 0h1m14 0h6m38 0h1m8 0h2m-162 1h1m34 0h1m13 0h1m40 0h1m17 0h5m34 0h2m19 0h1m-169 1h2m32 0h1m11 0h1m41 0h1m21 0h4m23 0h5m30 0h2m35 0h3m-212 1h1m16 0h6m4 0h5m8 0h2m71 0h2m16 0h3m42 0h1m28 0h1m8 0h2m-217 1h1m13 0h2m22 0h1m47 0h1m28 0h1m15 0h1m47 0h1m24 0h1m12 0h1m-219 1h1m12 0h2m23 0h1m35 0h12m46 0h1m48 0h1m38 0h2m-221 1h1m10 0h2m24 0h1m32 0h1m45 0h1m14 0h1m9 0h3m2 0h3m32 0h1m41 0h3m-225 1h1m8 0h2m56 0h1m62 0h1m8 0h1m8 0h2m50 0h1m25 0h1m34 0h2m1 0h2m-262 1h4m29 0h1m27 0h1m64 0h1m6 0h2m11 0h1m48 0h1m27 0h1m13 0h2m9 0h6m7 0h1m-228 1h1m24 0h1m65 0h2m4 0h2m13 0h1m32 0h1m14 0h1m27 0h3m10 0h2m24 0h1m-227 1h2m19 0h2m60 0h1m6 0h4m53 0h1m10 0h2m25 0h3m9 0h4m25 0h1m-228 1h2m19 0h2m64 0h2m63 0h2m8 0h2m21 0h2m11 0h4m25 0h1m-229 1h1m23 0h1m19 0h5m39 0h1m24 0h1m39 0h1m12 0h1m18 0h2m15 0h2m25 0h1m-231 1h1m25 0h1m15 0h1m8 0h1m35 0h1m26 0h1m70 0h2m18 0h1m-207 1h1m27 0h1m23 0h1m34 0h1m26 0h1m39 0h1m15 0h1m15 0h1m20 0h1m26 0h2m-236 1h1m85 0h1m27 0h1m39 0h1m30 0h2m20 0h1m29 0h3m-258 1h1m9 0h2m5 0h1m27 0h1m86 0h1m40 0h1m14 0h1m14 0h2m20 0h1m-212 1h4m24 0h1m15 0h1m11 0h1m61 0h1m42 0h1m11 0h1m14 0h3m20 0h1m-230 1h1m20 0h3m38 0h1m73 0h1m67 0h4m21 0h1m-209 1h1m40 0h1m10 0h1m34 0h1m26 0h1m64 0h4m25 0h1m-231 1h1m20 0h2m40 0h1m9 0h1m36 0h1m24 0h1m64 0h2m29 0h2m-213 1h2m40 0h2m7 0h2m58 0h2m66 0h1m34 0h1m-286 1h3m49 0h1m16 0h3m40 0h5m1 0h3m43 0h1m15 0h1m69 0h1m35 0h1m-283 1h1m48 0h1m12 0h4m38 0h11m48 0h1m10 0h1m71 0h1m15 0h2m6 0h2m10 0h2m-283 1h1m49 0h1m8 0h4m38 0h3m7 0h2m53 0h5m74 0h1m14 0h1m11 0h2m6 0h2m-282 1h1m52 0h5m11 0h2m29 0h2m10 0h2m132 0h1m12 0h1m38 0h6m-304 1h1m66 0h3m9 0h2m18 0h2m12 0h2m132 0h1m9 0h2m36 0h1m10 0h2m-308 1h1m67 0h2m11 0h1m16 0h2m15 0h2m133 0h5m53 0h4m-312 1h1m70 0h2m7 0h1m14 0h4m18 0h2m174 0h1m14 0h4m-313 1h1m90 0h3m28 0h3m170 0h2m9 0h2m-315 1h4m93 0h2m36 0h2m-39 1h1m7 0h11m22 0h2m-115 1h4m69 0h2m1 0h3m17 0h3m14 0h4m24 0h2m4 0h2m-46 1h7m29 0h2m9 0h1m-12 1h1m11 0h1m-12 1h1m10 0h1m88 0h3m-102 1h1m9 0h2m84 0h1m6 0h1m-102 1h1m7 0h2m84 0h1m6 0h1m-100 1h7m88 0h2m-262 1h1m280 0h2m8 0h2m-290 1h1m276 0h1m12 0h3m-292 1h1m274 0h1m14 0h2m-292 1h1m272 0h2m14 0h2m-294 1h2m265 0h1m22 0h1m-26 1h1m12 0h9m-10 1h2m-14 1h1m10 0h1m-10 1h1m4 0h2m-260 3h8m-13 1h1m12 0h1m-16 1h1m14 0h2m-18 1h1m15 0h1m-3 1h1m-12 1h1m6 0h1m271 0h6m6 0h4m-23 1h2m25 0h5m-36 1h2m-5 1h3m-2 1h3m3 1h3m23 0h2"/>
<path stroke="#ffef00" d="M203 63.5h3m-190 1h2m4 0h2m56 0h1m121 0h1m3 0h1m47 0h2m-243 1h2m11 0h1m47 0h11m117 0h1m3 0h1m47 0h3m-246 1h1m16 0h1m44 0h3m8 0h3m115 0h4m109 0h3m-308 1h2m18 0h2m42 0h4m9 0h2m224 0h2m-305 1h2m21 0h2m43 0h3m8 0h2m222 0h1m-303 1h1m23 0h1m44 0h1m10 0h1m222 0h2m-305 1h1m24 0h1m43 0h1m237 0h2m-311 1h2m25 0h2m42 0h1m11 0h1m48 0h2m-136 1h1m29 0h2m53 0h1m44 0h1m7 0h2m-108 1h1m39 0h1m55 0h1m11 0h2m45 0h2m4 0h2m-162 1h2m36 0h1m54 0h1m14 0h2m41 0h1m16 0h2m-169 1h1m35 0h2m8 0h1m43 0h1m17 0h3m32 0h3m26 0h1m-174 1h2m32 0h8m47 0h1m22 0h3m21 0h7m33 0h2m30 0h3m3 0h2m-216 1h1m16 0h4m16 0h2m49 0h1m26 0h1m17 0h2m44 0h1m26 0h1m10 0h1m-203 1h2m69 0h2m28 0h1m16 0h1m8 0h6m56 0h1m13 0h2m-220 1h1m13 0h1m57 0h4m5 0h3m49 0h1m6 0h2m8 0h1m52 0h1m16 0h4m-223 1h1m11 0h1m24 0h1m31 0h1m62 0h1m5 0h2m41 0h1m43 0h2m37 0h1m-262 1h2m4 0h3m25 0h1m29 0h1m64 0h1m3 0h2m44 0h1m18 0h1m24 0h2m16 0h9m6 0h4m1 0h2m-228 1h1m26 0h1m53 0h1m12 0h4m16 0h1m47 0h2m23 0h2m15 0h2m21 0h1m-227 1h1m23 0h1m58 0h1m29 0h1m33 0h1m13 0h2m21 0h2m16 0h2m22 0h1m-228 1h1m23 0h1m61 0h2m26 0h1m36 0h2m12 0h1m18 0h2m17 0h2m-206 1h1m25 0h1m16 0h2m5 0h1m37 0h1m26 0h1m37 0h1m14 0h1m16 0h1m19 0h2m22 0h1m-231 1h1m27 0h1m13 0h1m73 0h1m37 0h1m15 0h1m14 0h1m21 0h1m24 0h1m-234 1h1m41 0h1m11 0h1m32 0h1m28 0h1m55 0h1m12 0h2m22 0h1m24 0h1m-248 1h6m7 0h1m28 0h1m11 0h1m12 0h1m61 0h1m55 0h1m11 0h2m23 0h1m26 0h2m-256 1h1m12 0h5m41 0h1m44 0h1m29 0h1m55 0h1m10 0h3m23 0h1m28 0h6m-264 1h1m45 0h1m59 0h1m29 0h1m40 0h1m13 0h2m9 0h3m24 0h1m30 0h4m-241 1h4m33 0h1m12 0h1m32 0h1m75 0h8m9 0h4m26 0h1m30 0h4m-266 1h1m22 0h1m38 0h1m74 0h1m61 0h2m30 0h2m-171 1h1m73 0h1m61 0h2m33 0h2m-235 1h1m21 0h1m37 0h2m49 0h1m21 0h2m63 0h1m36 0h2m-285 1h2m67 0h1m36 0h3m9 0h2m58 0h1m67 0h1m37 0h2m-284 1h1m46 0h1m17 0h3m33 0h2m11 0h2m45 0h1m12 0h1m69 0h1m18 0h6m14 0h1m-235 1h1m13 0h6m30 0h2m12 0h2m49 0h2m5 0h2m71 0h1m16 0h1m9 0h1m10 0h1m-282 1h1m49 0h2m5 0h11m2 0h7m20 0h2m14 0h2m129 0h1m14 0h1m14 0h5m16 0h2m6 0h3m-306 1h1m59 0h6m14 0h1m15 0h2m16 0h2m129 0h1m12 0h1m34 0h1m13 0h4m-311 1h1m64 0h2m14 0h1m12 0h3m19 0h2m129 0h2m5 0h2m36 0h1m-293 1h1m68 0h1m10 0h2m8 0h4m24 0h2m171 0h1m-293 1h1m74 0h5m8 0h2m34 0h2m167 0h1m13 0h3m-314 1h3m89 0h1m40 0h2m165 0h8m-286 1h3m68 0h1m43 0h3m-119 1h1m4 0h1m67 0h1m6 0h2m11 0h4m21 0h4m17 0h3m8 0h2m-51 1h3m7 0h4m23 0h2m12 0h1m-14 1h1m13 0h1m-14 1h1m12 0h1m86 0h1m3 0h1m-104 1h1m12 0h1m82 0h1m8 0h1m-104 1h1m10 0h1m82 0h1m8 0h1m-102 1h1m7 0h2m84 0h2m2 0h2m20 0h4m-287 1h1m166 0h5m107 0h1m12 0h3m-292 1h1m274 0h1m16 0h5m-296 1h1m271 0h2m17 0h4m-295 1h2m264 0h6m18 0h3m-295 1h2m262 0h1m24 0h2m-6 1h3m-26 1h1m14 0h3m-18 1h1m12 0h1m-12 1h1m7 0h2m-264 3h2m8 0h2m-16 1h1m14 0h2m-19 1h1m17 0h1m-20 1h1m17 0h1m-18 1h1m14 0h1m-14 1h1m8 0h1m267 0h3m16 0h2m-27 1h2m-7 1h3m-7 1h4m-3 1h4m2 1h4m28 0h4m-21 1h10"/>
<path stroke="#ffdf00" d="M18 64.5h4m181 0h3m-191 1h1m8 0h2m177 0h3m-194 1h2m12 0h2m48 0h8m234 0h2m-308 1h1m15 0h2m48 0h9m228 0h5m-308 1h1m19 0h1m48 0h4m1 0h3m225 0h4m-306 1h1m21 0h1m46 0h2m7 0h1m225 0h4m-308 1h1m22 0h1m45 0h2m8 0h1m-81 1h1m23 0h1m45 0h1m9 0h1m-84 1h2m26 0h1m43 0h1m57 0h1m4 0h2m-145 1h6m31 0h2m41 0h1m10 0h1m53 0h2m49 0h4m-162 1h2m39 0h1m10 0h1m55 0h2m44 0h1m13 0h2m-169 1h2m38 0h2m5 0h1m45 0h1m14 0h2m38 0h2m22 0h2m-174 1h1m90 0h1m17 0h4m31 0h3m29 0h1m35 0h3m-215 1h1m21 0h16m52 0h1m24 0h1m20 0h12m31 0h1m28 0h1m7 0h2m-237 1h3m16 0h1m17 0h2m18 0h1m50 0h2m44 0h2m2 0h4m6 0h2m30 0h1m24 0h1m11 0h1m-239 1h4m16 0h1m15 0h2m20 0h1m38 0h5m3 0h5m45 0h1m3 0h2m11 0h1m29 0h1m22 0h1m13 0h2m-220 1h1m13 0h2m21 0h1m33 0h3m43 0h1m16 0h5m13 0h1m50 0h1m16 0h6m-223 1h1m9 0h2m54 0h1m48 0h1m15 0h3m16 0h1m49 0h1m19 0h4m37 0h1m-257 1h5m25 0h1m28 0h1m86 0h1m29 0h1m18 0h1m19 0h3m19 0h3m17 0h1m-228 1h2m25 0h1m56 0h1m31 0h1m31 0h1m16 0h2m17 0h2m20 0h2m19 0h1m-228 1h1m25 0h2m19 0h4m35 0h1m29 0h1m34 0h1m15 0h2m15 0h1m21 0h2m20 0h1m-230 1h1m27 0h1m14 0h1m8 0h2m34 0h1m28 0h1m35 0h1m16 0h1m13 0h2m22 0h1m-210 1h1m29 0h1m11 0h1m11 0h1m33 0h1m29 0h1m35 0h1m17 0h1m11 0h2m23 0h1m22 0h1m-234 1h1m30 0h1m10 0h1m75 0h2m35 0h1m18 0h1m9 0h2m25 0h1m22 0h1m-249 1h2m6 0h7m30 0h1m55 0h1m30 0h1m36 0h1m18 0h1m8 0h2m26 0h1m24 0h1m-255 1h1m47 0h1m10 0h1m13 0h1m62 0h1m37 0h1m17 0h2m6 0h2m27 0h1m25 0h2m-259 1h1m47 0h2m11 0h1m13 0h1m101 0h1m16 0h3m2 0h4m28 0h1m25 0h4m-262 1h1m28 0h5m6 0h5m93 0h1m43 0h2m8 0h9m31 0h1m25 0h4m-238 1h2m35 0h1m13 0h1m32 0h1m29 0h1m56 0h4m34 0h1m24 0h8m-243 1h1m36 0h2m12 0h1m34 0h1m27 0h1m58 0h2m37 0h2m24 0h5m-320 1h7m70 0h1m34 0h2m13 0h1m36 0h1m24 0h1m61 0h1m39 0h1m-284 1h1m45 0h1m21 0h1m33 0h2m14 0h1m39 0h1m18 0h2m64 0h1m40 0h1m-284 1h1m66 0h1m30 0h2m15 0h2m42 0h1m14 0h1m67 0h1m40 0h1m-284 1h1m46 0h1m20 0h3m26 0h1m16 0h2m46 0h1m9 0h1m88 0h2m5 0h2m12 0h1m16 0h4m-302 1h1m47 0h1m27 0h3m15 0h2m18 0h2m126 0h1m16 0h2m9 0h3m5 0h2m13 0h1m11 0h5m-310 1h1m50 0h8m21 0h2m11 0h2m20 0h2m126 0h1m14 0h2m30 0h2m-292 1h1m59 0h4m17 0h3m6 0h3m24 0h1m127 0h1m9 0h2m32 0h2m-291 1h1m66 0h1m13 0h8m30 0h2m168 0h1m-291 1h1m71 0h2m5 0h2m4 0h2m38 0h2m164 0h1m17 0h2m-313 1h1m87 0h1m43 0h2m161 0h2m8 0h2m-290 1h2m3 0h1m66 0h1m47 0h4m18 0h9m-151 1h1m6 0h1m65 0h1m9 0h3m3 0h5m29 0h3m12 0h2m13 0h1m-152 1h5m69 0h3m21 0h2m14 0h6m15 0h2m15 0h1m-17 1h2m15 0h1m-16 1h1m14 0h2m83 0h1m5 0h1m-106 1h1m14 0h1m91 0h1m-106 1h1m12 0h2m79 0h1m10 0h1m-273 1h4m165 0h1m10 0h2m80 0h2m6 0h1m17 0h2m4 0h4m8 0h4m-302 1h1m162 0h3m5 0h3m103 0h1m16 0h9m-300 1h1m272 0h1m22 0h4m-299 1h2m268 0h1m23 0h4m-297 1h1m261 0h2m27 0h5m-298 1h3m286 0h4m-304 1h10m261 0h1m25 0h2m-10 1h5m-9 1h3m-16 1h1m10 0h2m-9 1h3m-255 1h6m-13 1h2m12 0h1m-18 1h1m17 0h1m-21 1h1m19 0h2m-23 1h1m19 0h2m-21 1h1m16 0h1m-16 1h1m10 0h1m264 0h2m21 0h3m-32 1h2m-10 1h5m-8 1h4m-4 1h5m1 1h5m9 1h6m10 0h4"/>
<path stroke="#ffcf00" d="M16 65.5h1m6 0h1m-10 1h1m10 0h1m-13 1h1m13 0h1m-15 1h1m15 0h3m53 0h1m232 0h2m-307 1h2m17 0h2m49 0h7m-77 1h2m18 0h2m48 0h1m6 0h1m-79 1h2m20 0h1m47 0h1m-73 1h2m22 0h2m45 0h1m9 0h1m47 0h4m-137 1h2m27 0h2m53 0h1m45 0h2m5 0h2m-109 1h2m42 0h1m8 0h1m44 0h1m10 0h1m47 0h1m10 0h2m-169 1h2m42 0h5m59 0h2m42 0h2m19 0h1m-173 1h1m92 0h1m14 0h2m38 0h3m24 0h2m-177 1h1m91 0h1m17 0h6m33 0h3m26 0h2m30 0h3m2 0h2m-237 1h2m3 0h2m13 0h1m20 0h4m12 0h2m53 0h1m24 0h1m20 0h2m12 0h2m27 0h1m26 0h1m8 0h2m-239 1h1m4 0h2m13 0h1m18 0h2m17 0h1m52 0h2m25 0h1m18 0h3m14 0h1m27 0h1m24 0h1m11 0h1m-238 1h2m17 0h1m16 0h2m56 0h17m62 0h1m27 0h1m22 0h1m13 0h2m-219 1h2m12 0h2m20 0h1m32 0h2m16 0h2m64 0h1m27 0h1m21 0h1m15 0h3m-217 1h2m5 0h3m21 0h1m30 0h2m49 0h1m63 0h1m20 0h1m16 0h2m25 0h4m4 0h9m-253 1h1m24 0h1m28 0h2m19 0h3m31 0h1m33 0h1m29 0h1m19 0h1m15 0h1m24 0h2m16 0h1m-229 1h2m28 0h1m15 0h3m4 0h2m32 0h1m31 0h1m31 0h2m18 0h1m12 0h2m24 0h1m18 0h1m-230 1h1m29 0h1m12 0h1m11 0h1m32 0h1m30 0h1m33 0h1m18 0h1m11 0h1m25 0h1m19 0h1m-232 1h1m31 0h1m23 0h1m31 0h1m31 0h1m33 0h1m19 0h1m9 0h1m26 0h1m19 0h2m-244 1h8m1 0h2m32 0h1m23 0h1m30 0h1m32 0h1m54 0h1m7 0h1m28 0h1m20 0h1m-250 1h2m46 0h1m8 0h1m14 0h1m29 0h1m32 0h1m55 0h2m4 0h2m29 0h1m21 0h2m-255 1h1m49 0h1m54 0h1m32 0h1m35 0h1m20 0h6m30 0h1m22 0h2m-207 1h1m9 0h1m45 0h1m31 0h1m58 0h2m33 0h1m22 0h2m-295 1h2m69 0h6m5 0h3m13 0h1m14 0h1m30 0h1m31 0h1m41 0h1m51 0h2m20 0h3m-298 1h5m34 0h1m26 0h1m33 0h1m131 0h3m39 0h3m18 0h3m-300 1h6m35 0h1m24 0h1m34 0h1m15 0h1m62 0h1m56 0h1m41 0h2m18 0h4m-308 1h6m40 0h1m24 0h1m31 0h2m16 0h1m61 0h1m59 0h1m41 0h2m20 0h6m-311 1h3m41 0h1m23 0h1m30 0h2m17 0h2m58 0h1m62 0h1m42 0h1m-284 1h1m43 0h1m22 0h2m27 0h1m19 0h2m56 0h1m108 0h1m-284 1h1m44 0h1m24 0h2m22 0h2m19 0h2m43 0h1m11 0h1m68 0h1m20 0h5m15 0h2m11 0h3m4 0h8m-263 1h1m31 0h2m12 0h1m22 0h1m47 0h6m91 0h2m5 0h2m10 0h3m8 0h2m-292 1h1m47 0h2m31 0h3m5 0h3m24 0h1m124 0h1m17 0h2m27 0h1m-289 1h1m52 0h6m24 0h6m28 0h2m124 0h1m12 0h2m29 0h1m-288 1h1m63 0h2m54 0h2m125 0h5m35 0h1m-289 1h1m69 0h1m9 0h4m42 0h2m160 0h2m-292 1h2m84 0h1m46 0h3m156 0h2m12 0h6m-320 1h2m21 0h1m6 0h1m64 0h1m52 0h2m14 0h2m9 0h2m-154 1h1m72 0h1m13 0h3m37 0h3m7 0h2m16 0h1m-154 1h1m5 0h1m67 0h1m3 0h2m16 0h3m22 0h6m6 0h3m18 0h2m-22 1h3m18 0h2m-20 1h2m17 0h1m81 0h1m7 0h1m-108 1h1m16 0h2m78 0h1m-96 1h1m15 0h2m76 0h1m45 0h8m-310 1h2m162 0h1m13 0h2m77 0h1m9 0h1m14 0h2m10 0h8m4 0h6m-307 1h1m160 0h1m11 0h2m100 0h1m26 0h4m-303 1h1m162 0h6m102 0h1m27 0h3m-300 1h1m265 0h2m28 0h4m-300 1h2m258 0h1m34 0h4m-299 1h2m256 0h1m31 0h8m-302 1h4m285 0h6m-35 1h1m23 0h4m-28 1h1m17 0h4m-21 1h1m13 0h2m-13 1h2m3 0h3m-260 1h2m6 0h2m-17 1h2m15 0h2m-22 1h2m19 0h2m-25 1h2m22 0h2m-27 1h2m22 0h2m-25 1h2m18 0h2m-19 1h1m12 0h1m261 0h2m26 0h4m-40 1h4m-12 1h4m-7 1h4m-4 1h4m-2 1h8m7 1h7m20 0h7"/>
<path stroke="#ffbf00" d="M17 65.5h6m-8 1h1m8 0h1m-11 1h1m10 0h2m-13 1h1m12 0h2m-14 1h1m14 0h2m-17 1h1m15 0h2m51 0h2m2 0h2m-76 1h1m17 0h2m49 0h1m6 0h1m-79 1h1m20 0h1m48 0h1m7 0h1m-83 1h2m23 0h2m46 0h1m56 0h2m1 0h2m-143 1h5m29 0h2m45 0h2m5 0h1m46 0h2m6 0h2m49 0h2m5 0h3m-169 1h2m96 0h2m9 0h1m46 0h1m16 0h2m-174 1h2m94 0h1m12 0h1m43 0h2m21 0h1m-194 1h6m12 0h1m93 0h2m13 0h2m42 0h1m24 0h1m35 0h2m-236 1h1m7 0h1m11 0h1m25 0h8m1 0h3m56 0h2m21 0h1m37 0h1m25 0h1m28 0h1m6 0h1m-238 1h1m7 0h1m33 0h3m13 0h1m55 0h2m22 0h1m37 0h1m25 0h1m26 0h1m8 0h2m-238 1h1m2 0h2m34 0h2m16 0h1m54 0h2m23 0h1m37 0h1m25 0h1m24 0h1m10 0h2m-218 1h1m16 0h2m17 0h1m35 0h5m5 0h6m2 0h3m24 0h1m37 0h1m25 0h1m23 0h1m11 0h3m-216 1h2m10 0h2m18 0h1m33 0h2m13 0h8m62 0h1m26 0h1m22 0h1m13 0h2m31 0h4m-247 1h3m1 0h3m19 0h2m31 0h2m13 0h4m3 0h3m27 0h1m63 0h1m21 0h2m11 0h2m27 0h1m14 0h1m-230 1h2m31 0h2m11 0h2m9 0h2m29 0h1m33 0h1m29 0h1m21 0h1m10 0h1m27 0h1m16 0h1m-232 1h3m31 0h1m10 0h1m13 0h1m30 0h1m32 0h1m31 0h1m20 0h1m8 0h2m27 0h1m17 0h1m-240 1h9m42 0h1m14 0h1m29 0h1m33 0h1m53 0h1m6 0h2m28 0h1m17 0h1m-244 1h2m8 0h1m35 0h1m7 0h1m44 0h1m34 0h1m32 0h1m21 0h1m4 0h2m30 0h1m17 0h2m-250 1h1m56 0h1m79 0h2m32 0h1m22 0h4m32 0h1m18 0h2m-254 1h1m51 0h1m7 0h1m15 0h1m63 0h1m92 0h1m18 0h3m-294 1h5m33 0h1m51 0h1m7 0h1m16 0h1m62 0h1m36 0h1m56 0h2m17 0h3m-297 1h4m2 0h2m32 0h1m48 0h2m10 0h1m79 0h1m38 0h2m54 0h2m16 0h2m-298 1h3m5 0h2m60 0h1m31 0h1m16 0h1m30 0h1m31 0h1m47 0h5m45 0h2m14 0h2m-309 1h12m6 0h2m59 0h1m31 0h2m17 0h1m31 0h1m30 0h1m53 0h2m44 0h1m14 0h3m-298 1h6m89 0h2m19 0h1m33 0h1m27 0h2m55 0h2m44 0h1m14 0h5m-302 1h6m60 0h1m27 0h2m21 0h1m35 0h1m22 0h2m59 0h1m44 0h1m15 0h10m-309 1h3m39 0h1m25 0h1m24 0h2m22 0h1m38 0h1m17 0h1m64 0h1m43 0h2m11 0h13m-309 1h2m41 0h1m27 0h3m17 0h2m23 0h2m40 0h1m13 0h1m66 0h1m43 0h2m7 0h2m-294 1h2m43 0h1m34 0h4m5 0h3m24 0h2m43 0h2m6 0h1m70 0h1m21 0h5m15 0h3m3 0h2m-289 1h1m45 0h1m36 0h5m28 0h2m64 0h3m75 0h2m8 0h9m5 0h3m-287 1h1m48 0h3m66 0h1m62 0h4m56 0h1m15 0h3m24 0h2m-286 1h1m59 0h3m58 0h1m122 0h2m5 0h4m29 0h2m-287 1h2m66 0h1m58 0h2m156 0h2m-288 1h2m13 0h4m63 0h2m50 0h3m22 0h4m125 0h2m-298 1h7m13 0h1m8 0h1m62 0h1m55 0h3m8 0h3m13 0h1m125 0h10m-291 1h1m9 0h1m62 0h1m57 0h7m19 0h2m-157 1h1m7 0h1m65 0h1m6 0h2m11 0h3m31 0h6m23 0h1m-53 1h11m12 0h7m23 0h1m83 0h4m-111 1h3m20 0h2m78 0h1m9 0h1m-110 1h1m19 0h2m75 0h1m12 0h1m33 0h13m-155 1h1m18 0h1m74 0h1m13 0h1m14 0h6m8 0h4m8 0h6m-314 1h2m158 0h2m16 0h2m74 0h1m11 0h1m11 0h2m30 0h4m-310 1h1m158 0h1m14 0h1m78 0h7m13 0h1m31 0h5m-307 1h2m158 0h2m6 0h3m97 0h2m31 0h6m-305 1h2m260 0h3m34 0h6m-304 1h3m254 0h1m39 0h7m-304 1h2m253 0h1m40 0h8m-306 1h3m253 0h1m34 0h15m-320 1h14m255 0h1m28 0h22m-51 1h1m22 0h5m11 0h12m-50 1h1m16 0h4m-266 1h6m241 0h2m8 0h3m-266 1h3m10 0h1m194 0h5m-218 1h1m19 0h1m-25 1h2m23 0h2m-37 1h10m26 0h2m-38 1h9m26 0h3m-38 1h1m6 0h3m22 0h3m258 0h19m-301 1h2m14 0h2m257 0h2m-271 1h5m251 0h7m-12 1h4m-6 1h3m-3 1h3m-2 1h4m0 1h15"/>
<path stroke="#ffaf00" d="M16 66.5h2m4 0h2m-9 1h2m6 0h2m-10 1h2m8 0h2m-11 1h2m9 0h3m-14 1h2m11 0h2m55 0h2m-73 1h2m13 0h2m52 0h2m2 0h2m-77 1h2m16 0h2m50 0h1m5 0h1m-80 1h2m19 0h2m49 0h2m4 0h2m50 0h1m-136 1h3m23 0h3m49 0h5m49 0h2m2 0h2m53 0h5m-170 1h4m100 0h1m6 0h2m48 0h2m13 0h1m-175 1h3m97 0h2m8 0h2m46 0h2m17 0h2m-194 1h1m6 0h2m8 0h2m96 0h1m10 0h2m45 0h2m20 0h2m-199 1h1m9 0h2m8 0h1m34 0h1m61 0h1m12 0h8m39 0h1m22 0h2m30 0h6m-238 1h1m9 0h1m10 0h1m24 0h3m9 0h1m58 0h1m60 0h1m23 0h1m28 0h1m5 0h2m-238 1h2m5 0h2m12 0h1m21 0h2m13 0h1m57 0h1m61 0h1m50 0h1m8 0h1m-217 1h1m19 0h2m14 0h1m41 0h5m11 0h1m112 0h1m9 0h1m-214 1h1m14 0h2m14 0h2m36 0h5m3 0h5m8 0h1m24 0h1m37 0h1m49 0h2m8 0h3m-212 1h2m7 0h3m14 0h2m35 0h2m8 0h3m10 0h1m62 0h1m26 0h1m24 0h1m8 0h2m30 0h3m8 0h3m-253 1h7m13 0h4m35 0h1m8 0h2m13 0h1m27 0h1m63 0h1m23 0h2m6 0h2m29 0h2m13 0h1m-238 1h7m35 0h2m7 0h1m15 0h1m28 0h1m34 0h1m29 0h1m22 0h2m4 0h2m30 0h1m14 0h2m-242 1h3m42 0h2m6 0h1m44 0h1m35 0h1m30 0h1m22 0h6m31 0h2m14 0h1m-245 1h2m47 0h1m5 0h1m16 0h1m64 0h1m30 0h1m23 0h4m33 0h1m14 0h2m-250 1h2m50 0h2m4 0h1m17 0h1m27 0h1m36 0h1m91 0h2m13 0h3m-291 1h6m86 0h1m5 0h1m17 0h1m27 0h1m35 0h1m32 0h1m59 0h3m11 0h4m-293 1h2m5 0h2m84 0h1m5 0h1m46 0h1m34 0h2m33 0h1m59 0h3m10 0h4m-296 1h2m8 0h1m82 0h2m6 0h2m17 0h1m28 0h1m34 0h1m36 0h1m58 0h4m8 0h4m-300 1h4m10 0h1m30 0h1m29 0h1m28 0h2m18 0h1m62 0h1m42 0h4m52 0h3m8 0h3m-287 1h2m30 0h1m27 0h1m27 0h3m50 0h1m32 0h1m50 0h2m47 0h2m9 0h3m-289 1h2m31 0h1m26 0h1m26 0h2m22 0h1m31 0h1m30 0h1m53 0h1m47 0h2m10 0h2m-291 1h2m32 0h1m26 0h1m25 0h1m24 0h1m33 0h1m25 0h2m56 0h1m46 0h2m10 0h3m-296 1h5m33 0h1m27 0h1m22 0h1m25 0h2m35 0h1m19 0h2m61 0h1m46 0h1m8 0h2m-294 1h3m37 0h1m31 0h9m6 0h2m27 0h2m37 0h1m15 0h1m64 0h1m46 0h7m-290 1h1m41 0h1m39 0h5m29 0h2m40 0h1m9 0h2m10 0h5m52 0h1m45 0h3m-286 1h1m42 0h2m72 0h1m61 0h2m3 0h1m53 0h1m22 0h8m9 0h5m-283 1h1m45 0h2m70 0h2m59 0h1m4 0h1m54 0h1m19 0h3m18 0h3m-283 1h1m51 0h7m62 0h2m57 0h4m57 0h2m11 0h3m24 0h2m-283 1h1m64 0h1m61 0h2m152 0h2m-284 1h2m9 0h2m4 0h1m53 0h9m55 0h3m14 0h5m4 0h3m119 0h3m-289 1h4m8 0h1m10 0h1m60 0h1m59 0h8m17 0h2m116 0h7m10 0h7m-299 1h1m11 0h1m147 0h1m-159 1h1m73 0h1m9 0h4m2 0h5m64 0h2m-158 1h5m94 0h4m11 0h12m31 0h2m79 0h2m4 0h2m-118 1h5m25 0h2m75 0h1m11 0h1m35 0h11m-160 1h3m22 0h2m72 0h1m14 0h1m29 0h3m-144 1h2m20 0h2m87 0h1m9 0h4m6 0h8m-294 1h1m156 0h1m20 0h1m72 0h1m13 0h1m9 0h1m-273 1h2m155 0h1m16 0h1m75 0h2m7 0h2m9 0h2m-268 1h1m155 0h2m11 0h1m95 0h1m-264 1h2m159 0h3m94 0h2m-258 1h1m252 0h1m-255 1h2m250 0h1m-254 1h2m250 0h1m-256 1h3m-9 1h5m284 0h11m-39 1h1m21 0h29m-298 1h3m6 0h2m238 0h1m13 0h9m10 0h16m-304 1h3m14 0h2m188 0h4m5 0h2m-234 1h3m8 0h3m21 0h1m188 0h11m-235 1h10m27 0h1m0 1h2m-2 1h3m-40 1h6m28 0h3m252 0h3m19 0h8m-311 1h2m18 0h2m251 0h4m-272 1h3m5 0h2m245 0h4m-8 1h3m-4 1h2m-3 1h3m-2 1h3m-1 1h5"/>
<path stroke="#ff9f00" d="M18 66.5h4m-5 1h6m-6 1h8m-7 1h9m-9 1h3m5 0h3m-12 1h3m8 0h2m56 0h2m-73 1h2m11 0h3m53 0h5m-77 1h2m14 0h3m53 0h4m-80 1h2m18 0h3m108 0h2m-141 1h2m25 0h4m105 0h6m52 0h2m8 0h3m-187 1h13m102 0h1m5 0h2m50 0h1m15 0h1m-194 1h2m9 0h8m99 0h1m8 0h1m49 0h1m17 0h2m-198 1h1m12 0h1m5 0h2m98 0h1m9 0h2m48 0h1m19 0h2m-201 1h1m11 0h1m8 0h1m28 0h9m60 0h1m11 0h4m3 0h2m40 0h1m21 0h1m30 0h5m-227 1h1m10 0h1m24 0h3m8 0h2m59 0h2m19 0h1m40 0h1m22 0h1m27 0h2m4 0h2m-235 1h4m14 0h1m22 0h2m10 0h2m59 0h2m20 0h1m39 0h1m23 0h1m26 0h2m4 0h3m-215 1h2m17 0h2m10 0h2m43 0h3m14 0h2m61 0h1m23 0h1m26 0h2m4 0h2m-211 1h2m12 0h3m6 0h5m39 0h8m14 0h1m24 0h1m37 0h1m24 0h1m26 0h8m35 0h8m-252 1h2m7 0h3m4 0h6m40 0h8m16 0h1m25 0h1m36 0h1m26 0h1m26 0h6m33 0h2m9 0h2m-252 1h6m5 0h4m44 0h3m1 0h3m44 0h1m36 0h1m26 0h2m25 0h4m33 0h2m11 0h1m-243 1h3m47 0h2m2 0h2m17 0h1m64 0h1m28 0h1m62 0h1m11 0h2m-247 1h3m50 0h2m1 0h2m18 0h1m26 0h1m37 0h2m27 0h1m62 0h2m9 0h3m-286 1h4m33 0h1m54 0h4m84 0h2m28 0h1m62 0h2m5 0h6m-289 1h1m6 0h1m31 0h1m54 0h5m45 0h1m37 0h2m93 0h11m-291 1h2m9 0h1m29 0h1m54 0h5m19 0h1m26 0h1m37 0h1m95 0h10m-294 1h2m11 0h2m28 0h1m53 0h6m20 0h1m26 0h1m36 0h1m34 0h1m63 0h8m-303 1h7m15 0h1m60 0h3m3 0h22m49 0h1m34 0h1m39 0h2m59 0h8m-282 1h1m28 0h1m29 0h1m24 0h2m23 0h1m28 0h1m34 0h1m47 0h2m51 0h4m2 0h3m-284 1h1m29 0h1m28 0h1m23 0h2m25 0h1m62 0h1m51 0h1m50 0h2m5 0h3m-287 1h2m29 0h1m28 0h1m22 0h2m26 0h1m31 0h1m28 0h3m52 0h1m49 0h2m5 0h3m-288 1h2m60 0h2m17 0h3m28 0h1m33 0h1m22 0h8m52 0h1m48 0h8m-289 1h3m33 0h1m41 0h6m31 0h1m35 0h1m17 0h2m5 0h6m-184 1h3m37 0h1m76 0h1m38 0h1m12 0h1m7 0h2m5 0h1m50 0h1m-236 1h2m39 0h1m75 0h2m40 0h8m10 0h1m6 0h1m51 0h1m-237 1h1m43 0h1m74 0h2m56 0h1m6 0h1m52 0h1m23 0h4m10 0h4m-279 1h2m46 0h3m71 0h2m53 0h2m4 0h1m55 0h1m16 0h5m17 0h2m-280 1h2m61 0h1m64 0h3m49 0h1m97 0h2m-280 1h3m3 0h3m7 0h1m51 0h1m67 0h4m6 0h4m12 0h3m113 0h3m-282 1h3m3 0h2m12 0h1m58 0h1m87 0h2m109 0h5m-296 1h12m8 0h1m73 0h1m87 0h2m107 0h29m-298 1h1m10 0h1m62 0h1m14 0h2m71 0h2m130 0h4m-295 1h1m5 0h1m68 0h4m19 0h2m60 0h2m76 0h1m8 0h1m37 0h10m-171 1h5m32 0h1m73 0h1m13 0h1m29 0h5m-155 1h6m27 0h1m70 0h1m16 0h1m8 0h8m8 0h4m-304 1h5m156 0h2m24 0h1m70 0h1m16 0h1m6 0h2m-275 1h2m153 0h1m22 0h1m70 0h1m15 0h1m6 0h2m-270 1h1m152 0h2m18 0h2m72 0h1m11 0h2m6 0h1m-265 1h3m125 0h5m20 0h2m14 0h1m91 0h3m-261 1h2m153 0h4m3 0h3m89 0h2m-255 1h2m249 0h1m-252 1h2m-3 1h3m246 0h1m-252 1h3m248 0h1m-269 1h8m5 0h5m250 0h1m-262 1h7m8 0h9m237 0h1m-251 1h4m11 0h1m191 0h8m37 0h1m23 0h10m-304 1h16m19 0h1m184 0h3m11 0h2m37 0h47m-317 1h8m25 0h2m183 0h3m11 0h1m-198 1h2m189 0h5m-194 1h3m-2 1h3m-6 1h5m244 0h3m-290 1h9m22 0h3m236 0h12m-270 1h2m10 0h2m238 0h5m-16 1h2m5 0h5m-14 1h13m-13 1h5m3 0h4m-2 1h3m0 1h2m1 1h53"/>
<path stroke="#ff8f00" d="M21 70.5h5m-6 1h8m-11 1h3m5 0h3m-14 1h2m10 0h2m-18 1h2m13 0h3m-26 1h5m16 0h4m169 0h8m-187 1h3m116 0h5m53 0h2m11 0h2m-194 1h1m119 0h3m2 0h3m51 0h2m14 0h1m-182 1h5m101 0h2m5 0h2m51 0h2m15 0h2m-186 1h2m4 0h2m99 0h2m7 0h2m4 0h3m43 0h1m18 0h2m-201 1h1m10 0h2m6 0h2m28 0h8m63 0h1m60 0h1m19 0h2m30 0h4m-235 1h2m4 0h2m11 0h1m25 0h10m63 0h1m60 0h1m21 0h1m29 0h4m-213 1h1m21 0h10m64 0h1m20 0h1m40 0h1m21 0h1m29 0h4m-210 1h1m17 0h6m67 0h1m22 0h1m39 0h1m22 0h1m-175 1h1m12 0h4m71 0h1m62 0h1m23 0h2m68 0h3m2 0h4m-252 1h2m6 0h5m51 0h1m20 0h1m25 0h1m38 0h1m24 0h1m66 0h2m6 0h3m-250 1h8m52 0h2m20 0h1m25 0h1m38 0h2m25 0h1m64 0h2m6 0h3m-248 1h3m55 0h1m46 0h1m40 0h1m91 0h9m-285 1h2m4 0h2m30 0h1m78 0h1m25 0h1m40 0h2m25 0h1m65 0h5m-285 1h2m8 0h2m28 0h1m79 0h1m65 0h3m26 0h1m-218 1h1m12 0h1m27 0h1m80 0h1m64 0h4m27 0h1m-223 1h2m15 0h1m172 0h3m30 0h1m-208 1h1m27 0h1m34 0h3m43 0h1m26 0h1m36 0h2m36 0h1m-212 1h1m58 0h1m19 0h4m26 0h1m63 0h2m42 0h3m57 0h2m-280 1h1m58 0h1m20 0h2m28 0h1m28 0h1m33 0h2m48 0h1m53 0h5m-282 1h1m27 0h1m30 0h1m18 0h3m29 0h2m28 0h1m32 0h3m48 0h1m52 0h5m-283 1h1m29 0h1m31 0h17m32 0h2m30 0h1m31 0h3m48 0h1m-229 1h2m30 0h1m80 0h2m53 0h5m6 0h1m49 0h1m-232 1h2m33 0h2m78 0h2m35 0h1m14 0h2m4 0h1m8 0h1m-184 1h2m36 0h1m78 0h2m36 0h2m8 0h2m7 0h1m8 0h1m49 0h1m-235 1h3m38 0h2m77 0h1m40 0h2m11 0h2m8 0h1m50 0h1m28 0h10m-273 1h2m41 0h3m76 0h2m50 0h1m7 0h1m52 0h2m22 0h3m12 0h2m-276 1h9m50 0h2m68 0h4m18 0h11m13 0h3m1 0h2m59 0h12m22 0h2m-275 1h3m11 0h1m49 0h1m72 0h6m19 0h3m108 0h2m-276 1h3m71 0h2m90 0h3m104 0h2m-279 1h8m14 0h1m58 0h1m90 0h2m101 0h4m-270 1h1m12 0h1m60 0h1m90 0h1m99 0h30m-292 1h1m7 0h1m65 0h2m4 0h2m14 0h3m64 0h1m74 0h1m10 0h1m10 0h10m8 0h8m-167 1h6m38 0h2m70 0h1m15 0h1m6 0h11m6 0h5m-154 1h4m34 0h1m68 0h1m18 0h3m1 0h4m8 0h8m-295 1h3m144 0h9m27 0h2m67 0h1m18 0h6m-271 1h1m150 0h2m24 0h1m68 0h1m17 0h6m-267 1h2m127 0h9m13 0h1m22 0h1m69 0h2m14 0h6m-261 1h1m122 0h2m5 0h2m17 0h1m17 0h2m73 0h16m-256 1h2m120 0h6m23 0h2m10 0h1m87 0h1m-251 1h2m246 0h1m-249 1h2m245 0h1m-248 1h2m-4 1h4m242 0h2m-250 1h12m236 0h2m-268 1h7m7 0h8m9 0h3m233 0h1m-268 1h18m16 0h2m185 0h4m8 0h2m33 0h2m-234 1h2m179 0h3m16 0h1m34 0h2m-235 1h2m178 0h3m15 0h1m49 0h34m-280 1h2m181 0h6m5 0h2m80 0h4m-277 1h2m272 0h3m-276 1h3m242 0h31m-277 1h4m237 0h3m-253 1h6m223 0h7m-263 1h5m14 0h2m222 0h14m-16 1h5m2 0h5m-13 1h4m-5 1h5m5 0h3m-12 1h14m-1 1h4m0 1h3m-93 5h4m-5 1h5"/>
<path stroke="#ff8000" d="M20 72.5h5m-9 1h4m1 0h5m-14 1h4m6 0h3m-18 1h4m7 0h5m-8 1h2m179 0h3m6 0h2m-193 1h1m123 0h2m56 0h2m10 0h2m-196 1h1m122 0h5m55 0h1m12 0h2m-198 1h1m15 0h4m103 0h7m53 0h2m13 0h3m-200 1h1m13 0h3m1 0h2m102 0h2m5 0h7m2 0h2m43 0h1m16 0h2m-200 1h1m8 0h3m6 0h2m100 0h1m17 0h1m42 0h1m18 0h2m-181 1h2m97 0h1m18 0h1m42 0h1m19 0h1m-178 1h2m92 0h1m62 0h1m20 0h1m-175 1h1m89 0h1m22 0h1m39 0h2m20 0h1m73 0h2m-250 1h2m86 0h1m23 0h1m40 0h1m21 0h2m69 0h6m-250 1h3m83 0h1m23 0h1m41 0h1m22 0h2m67 0h6m-281 1h5m28 0h3m80 0h1m23 0h1m42 0h2m22 0h2m-212 1h1m8 0h1m27 0h2m80 0h1m23 0h1m43 0h2m22 0h1m-215 1h1m12 0h1m26 0h1m81 0h1m23 0h1m43 0h3m22 0h1m-219 1h2m14 0h1m25 0h1m106 0h1m43 0h3m23 0h1m-228 1h6m18 0h1m25 0h1m81 0h1m24 0h1m41 0h4m25 0h1m-206 1h1m25 0h1m82 0h1m24 0h1m39 0h5m29 0h2m-210 1h1m25 0h1m32 0h1m6 0h12m31 0h2m24 0h1m38 0h4m35 0h3m-217 1h1m26 0h1m31 0h1m9 0h10m31 0h2m24 0h2m36 0h3m43 0h2m-222 1h1m25 0h1m32 0h2m6 0h10m34 0h1m26 0h1m36 0h2m45 0h1m-224 1h1m26 0h2m83 0h2m27 0h1m35 0h1m46 0h1m-226 1h1m28 0h1m83 0h2m29 0h2m32 0h2m46 0h1m-229 1h2m30 0h1m82 0h2m32 0h1m17 0h4m10 0h1m47 0h1m-231 1h2m33 0h1m81 0h1m34 0h1m12 0h3m1 0h3m10 0h1m47 0h1m-231 1h2m35 0h1m80 0h2m33 0h5m2 0h4m6 0h1m11 0h1m48 0h1m-232 1h3m36 0h2m81 0h2m28 0h10m8 0h2m9 0h1m50 0h1m27 0h3m6 0h3m-265 1h4m34 0h12m74 0h5m7 0h6m11 0h3m8 0h2m6 0h2m54 0h3m12 0h9m11 0h2m-258 1h1m47 0h1m101 0h3m7 0h1m95 0h2m-256 1h1m52 0h3m95 0h2m99 0h3m-254 1h1m56 0h1m93 0h2m96 0h3m-282 1h10m4 0h2m14 0h1m58 0h1m92 0h2m76 0h7m11 0h3m-264 1h2m9 0h1m63 0h1m8 0h3m7 0h4m68 0h1m72 0h1m12 0h2m5 0h3m10 0h8m-171 1h12m46 0h1m68 0h1m17 0h6m11 0h6m-152 1h3m39 0h1m66 0h1m22 0h1m-272 1h2m138 0h4m38 0h1m64 0h2m-245 1h2m130 0h18m27 0h1m66 0h1m-241 1h2m123 0h2m9 0h2m9 0h2m24 0h1m67 0h1m-238 1h2m118 0h2m9 0h2m13 0h2m20 0h1m70 0h2m-238 1h1m117 0h2m6 0h2m20 0h1m13 0h2m83 0h2m-248 1h1m153 0h3m88 0h1m-246 1h2m242 0h1m-245 1h2m240 0h2m-244 1h5m235 0h2m-236 1h3m225 0h8m-232 1h1m220 0h12m-231 1h1m180 0h4m14 0h1m17 0h8m4 0h3m-230 1h1m103 0h4m67 0h4m20 0h1m14 0h8m8 0h3m-231 1h2m173 0h3m19 0h1m14 0h7m14 0h13m-244 1h3m174 0h4m13 0h2m15 0h5m28 0h30m-271 1h3m185 0h1m19 0h4m31 0h29m-270 1h4m202 0h5m28 0h3m-242 1h4m200 0h33m-244 1h6m203 0h14m-263 1h7m21 0h3m216 0h3m-5 1h3m-4 1h3m-4 1h3m-6 1h7m-9 1h22m0 1h4m1 1h22m32 0h1m-147 3h6m-7 1h2m4 0h2m-8 1h1m5 0h2"/>
<path stroke="#ff7000" d="M20 73.5h1m-5 1h6m-11 1h7m-18 1h8m4 0h3m184 0h6m-192 1h1m184 0h2m6 0h2m-195 1h1m184 0h2m8 0h2m-197 1h1m185 0h1m9 0h3m-198 1h1m17 0h1m106 0h5m7 0h2m46 0h1m11 0h4m-199 1h1m12 0h6m103 0h2m14 0h1m44 0h2m13 0h3m-196 1h7m8 0h2m100 0h1m61 0h1m16 0h2m-179 1h2m95 0h2m18 0h1m42 0h1m17 0h2m-176 1h2m91 0h1m20 0h1m42 0h1m17 0h2m-175 1h1m89 0h1m21 0h1m42 0h2m17 0h2m-175 1h2m109 0h1m43 0h2m18 0h2m-208 1h2m5 0h2m23 0h3m84 0h1m67 0h3m18 0h1m-212 1h2m10 0h1m24 0h2m83 0h1m21 0h1m46 0h3m18 0h1m-216 1h2m14 0h1m23 0h2m105 0h1m47 0h2m19 0h1m-221 1h3m17 0h1m23 0h1m83 0h1m22 0h1m47 0h2m20 0h1m-228 1h1m25 0h1m22 0h2m83 0h1m22 0h1m46 0h2m22 0h1m-204 1h1m23 0h1m84 0h2m21 0h1m45 0h3m24 0h2m-207 1h1m23 0h1m34 0h6m45 0h2m21 0h1m43 0h3m30 0h2m-213 1h2m22 0h2m33 0h1m5 0h3m43 0h2m21 0h1m41 0h4m36 0h3m-219 1h1m23 0h1m35 0h6m45 0h3m21 0h2m39 0h2m42 0h1m-222 1h1m24 0h1m87 0h1m24 0h2m37 0h2m43 0h1m-224 1h1m25 0h2m86 0h1m27 0h1m36 0h1m44 0h1m-226 1h1m27 0h2m85 0h1m29 0h2m33 0h1m45 0h1m-228 1h1m30 0h2m83 0h2m30 0h2m16 0h1m14 0h1m-182 1h1m32 0h2m83 0h2m29 0h2m11 0h6m60 0h1m-228 1h2m33 0h1m85 0h4m21 0h3m10 0h8m12 0h1m48 0h1m31 0h6m-258 1h1m30 0h3m91 0h7m20 0h8m10 0h1m51 0h2m24 0h4m5 0h2m-255 1h1m45 0h1m105 0h7m1 0h4m88 0h3m-253 1h1m48 0h3m100 0h3m93 0h3m-250 1h1m54 0h1m96 0h2m91 0h3m-284 1h5m10 0h4m74 0h1m95 0h1m74 0h1m7 0h2m6 0h3m-262 1h1m12 0h1m61 0h1m12 0h7m73 0h1m70 0h1m15 0h5m-255 1h6m92 0h7m59 0h1m66 0h1m-258 1h7m136 0h4m43 0h2m63 0h1m-246 1h2m132 0h4m43 0h1m62 0h1m-241 1h2m126 0h2m46 0h1m64 0h1m-238 1h2m120 0h1m13 0h9m27 0h1m65 0h1m-235 1h2m115 0h1m13 0h2m10 0h1m23 0h1m67 0h2m-235 1h2m114 0h1m10 0h1m17 0h2m16 0h1m70 0h12m-245 1h2m117 0h4m27 0h3m3 0h3m75 0h4m4 0h2m-243 1h2m231 0h4m2 0h3m-242 1h3m228 0h9m-237 1h3m224 0h8m-231 1h2m218 0h5m-223 1h2m186 0h10m19 0h3m-218 1h2m102 0h6m66 0h4m19 0h2m13 0h2m8 0h4m-226 1h2m97 0h4m4 0h4m58 0h5m25 0h1m12 0h1m8 0h8m-226 1h2m167 0h4m23 0h1m12 0h1m7 0h14m-228 1h2m169 0h3m19 0h1m11 0h3m5 0h28m-238 1h3m176 0h6m1 0h4m12 0h3m4 0h16m10 0h5m-237 1h4m194 0h4m5 0h28m-235 1h4m193 0h3m-205 1h6m194 0h3m-218 1h7m206 0h3m-242 1h14m223 0h3m-141 1h8m128 0h4m-136 1h3m127 0h5m-10 1h7m-27 1h25m-29 1h51m-51 1h33m19 0h4m22 0h32m-146 2h6m-8 1h2m6 0h2m-10 1h1m8 0h2m-12 1h2m8 0h2"/>
<path stroke="#ff6000" d="M8 76.5h4m-12 1h4m7 0h2m187 0h6m-194 1h1m187 0h3m2 0h3m-196 1h1m187 0h2m5 0h2m-196 1h1m186 0h2m6 0h3m-196 1h1m124 0h14m47 0h1m8 0h4m-195 1h2m7 0h8m103 0h2m14 0h1m45 0h2m9 0h5m-182 1h5m99 0h1m16 0h1m44 0h2m11 0h4m-176 1h2m94 0h1m18 0h1m44 0h2m11 0h4m-175 1h2m91 0h1m19 0h1m45 0h2m11 0h4m-201 1h6m20 0h2m89 0h1m20 0h1m46 0h4m10 0h4m-207 1h1m9 0h2m18 0h3m88 0h1m20 0h1m48 0h4m10 0h4m-212 1h1m13 0h2m18 0h4m106 0h1m50 0h3m13 0h2m-217 1h2m17 0h1m18 0h4m85 0h1m20 0h1m50 0h2m15 0h2m-226 1h6m21 0h1m19 0h3m85 0h2m19 0h1m50 0h1m17 0h2m-200 1h1m19 0h2m86 0h2m19 0h1m49 0h2m19 0h1m-202 1h2m18 0h3m87 0h2m18 0h1m49 0h1m22 0h1m-204 1h1m19 0h3m88 0h3m16 0h2m47 0h2m25 0h3m-209 1h1m18 0h3m36 0h5m48 0h3m16 0h2m46 0h2m31 0h3m-215 1h1m19 0h3m90 0h2m17 0h2m43 0h3m37 0h2m-220 1h1m20 0h3m89 0h2m19 0h3m41 0h2m40 0h1m-222 1h1m22 0h2m89 0h2m23 0h2m38 0h1m42 0h1m-224 1h1m24 0h2m88 0h2m26 0h1m36 0h1m43 0h1m-226 1h2m26 0h2m87 0h2m27 0h1m79 0h1m-227 1h2m28 0h2m87 0h2m25 0h2m32 0h1m45 0h1m-225 1h2m29 0h2m90 0h21m34 0h1m46 0h1m-219 1h2m25 0h3m140 0h1m48 0h2m30 0h5m-252 1h1m43 0h1m118 0h1m57 0h30m-249 1h1m46 0h1m106 0h4m82 0h7m-193 1h1m99 0h1m77 0h4m6 0h3m-245 1h1m153 0h1m71 0h2m10 0h6m-280 1h21m14 0h1m59 0h1m94 0h2m66 0h2m-260 1h11m13 0h2m6 0h2m67 0h3m17 0h3m67 0h1m63 0h2m-250 1h4m128 0h4m49 0h1m60 0h2m-243 1h2m127 0h3m48 0h1m60 0h1m-238 1h2m122 0h2m49 0h1m62 0h1m-235 1h2m117 0h1m51 0h1m62 0h2m-232 1h2m112 0h1m16 0h2m5 0h3m25 0h1m65 0h1m-231 1h2m110 0h2m12 0h2m13 0h2m19 0h1m67 0h2m-231 1h3m111 0h3m4 0h2m22 0h3m9 0h2m71 0h2m4 0h4m-239 1h3m225 0h3m4 0h2m-236 1h4m222 0h2m-225 1h3m218 0h3m-221 1h2m214 0h2m-216 1h2m179 0h5m10 0h3m14 0h2m-213 1h2m95 0h5m6 0h4m56 0h6m25 0h1m10 0h2m-210 1h2m92 0h3m12 0h3m8 0h7m33 0h7m31 0h1m9 0h2m-207 1h2m93 0h10m55 0h7m28 0h1m9 0h2m-204 1h3m163 0h3m23 0h1m9 0h1m-199 1h5m163 0h8m11 0h2m8 0h2m23 0h10m-228 1h3m176 0h4m9 0h2m-194 1h3m186 0h4m-196 1h4m186 0h4m-208 1h11m191 0h4m-244 1h5m14 0h6m78 0h9m127 0h3m-141 1h3m8 0h3m122 0h3m-137 1h5m3 0h5m117 0h5m-22 1h17m-25 1h5m-8 1h4m-3 1h3m33 0h19m-88 1h6m30 0h28m26 0h25m29 0h3m-149 1h2m6 0h3m-12 1h1m10 0h2m-13 1h1m11 0h1m-14 1h1m12 0h1"/>
<path stroke="#ff5000" d="M4 77.5h7m-1 1h2m191 0h2m-194 1h1m190 0h5m-195 1h1m189 0h6m-194 1h1m187 0h8m-193 1h2m122 0h8m4 0h2m48 0h9m-190 1h13m105 0h2m13 0h1m47 0h11m-188 1h16m97 0h1m16 0h1m47 0h11m-191 1h6m12 0h2m94 0h1m17 0h1m48 0h11m-199 1h2m6 0h4m14 0h2m92 0h1m18 0h1m51 0h10m-205 1h2m12 0h2m14 0h2m92 0h1m17 0h2m53 0h10m-210 1h2m16 0h1m13 0h4m90 0h2m17 0h1m54 0h13m-219 1h4m20 0h1m13 0h4m90 0h2m17 0h1m53 0h3m8 0h4m-196 1h1m13 0h5m90 0h1m17 0h1m52 0h2m13 0h2m-197 1h1m13 0h5m90 0h3m15 0h1m52 0h2m14 0h3m-199 1h1m13 0h4m92 0h4m13 0h1m51 0h2m18 0h2m-202 1h2m12 0h5m94 0h2m13 0h1m51 0h2m21 0h2m-205 1h1m13 0h4m95 0h2m13 0h1m50 0h2m26 0h3m-211 1h1m14 0h4m95 0h2m12 0h3m48 0h2m31 0h4m-217 1h1m16 0h3m94 0h2m13 0h4m46 0h2m36 0h2m-220 1h1m18 0h3m93 0h2m13 0h8m41 0h1m40 0h1m-222 1h1m20 0h3m92 0h2m15 0h2m4 0h3m38 0h1m41 0h1m-223 1h1m22 0h3m91 0h2m22 0h3m35 0h1m43 0h1m-224 1h1m25 0h2m91 0h3m8 0h6m4 0h4m35 0h1m43 0h1m-222 1h2m24 0h3m192 0h2m-216 1h1m21 0h3m189 0h3m-214 1h1m25 0h6m9 0h2m120 0h2m46 0h9m-218 1h1m44 0h1m111 0h2m46 0h5m18 0h11m-239 1h1m49 0h3m101 0h2m48 0h6m17 0h4m4 0h6m-241 1h1m53 0h2m98 0h1m49 0h6m13 0h2m-226 1h1m57 0h1m97 0h1m51 0h1m11 0h2m-247 1h4m6 0h3m10 0h2m62 0h3m3 0h3m11 0h3m71 0h1m59 0h3m-244 1h3m122 0h3m54 0h1m57 0h2m-239 1h2m123 0h2m52 0h1m57 0h2m-235 1h3m118 0h1m52 0h1m59 0h2m-232 1h2m114 0h1m53 0h1m60 0h1m-228 1h2m109 0h1m19 0h5m29 0h1m62 0h2m-228 1h3m106 0h1m16 0h2m9 0h2m22 0h1m65 0h1m-226 1h2m107 0h2m9 0h2m18 0h2m14 0h2m67 0h2m-226 1h3m220 0h2m-223 1h3m216 0h3m-220 1h3m212 0h3m-216 1h3m208 0h3m-212 1h2m170 0h7m18 0h2m10 0h2m-209 1h2m90 0h3m15 0h21m25 0h10m32 0h1m8 0h1m-206 1h2m88 0h2m18 0h8m7 0h33m39 0h1m7 0h1m-203 1h3m87 0h3m10 0h3m11 0h4m14 0h4m9 0h10m36 0h1m7 0h1m-199 1h7m149 0h7m27 0h2m5 0h2m-193 1h4m156 0h3m21 0h2m4 0h2m-190 1h3m169 0h4m4 0h9m-189 1h3m175 0h8m-188 1h5m176 0h5m-193 1h8m180 0h3m-215 1h8m67 0h3m9 0h3m121 0h3m-239 1h13m86 0h2m14 0h3m115 0h4m-137 1h3m13 0h3m101 0h13m-127 1h12m92 0h6m-12 1h4m-5 1h2m-2 1h3m-35 1h2m6 0h4m21 0h5m28 0h26m25 0h15m2 0h12m-148 1h2m11 0h2m27 0h6m50 0h6m-104 1h1m13 0h2m-16 1h1m13 0h2m-17 1h1m14 0h2"/>
<path stroke="#ff4000" d="M0 78.5h10m-1 1h2m0 1h1m1 1h1m1 1h2m132 0h4m-133 1h2m120 0h3m7 0h3m-133 1h4m114 0h2m12 0h2m-137 1h5m6 0h12m97 0h2m13 0h2m-141 1h2m12 0h5m4 0h5m95 0h2m14 0h2m-145 1h2m16 0h3m7 0h4m95 0h1m14 0h2m-149 1h4m19 0h2m8 0h3m96 0h1m14 0h2m-155 1h4m25 0h2m8 0h3m96 0h1m14 0h2m57 0h8m-191 1h2m8 0h3m96 0h4m11 0h2m55 0h4m3 0h6m-194 1h2m8 0h3m98 0h4m9 0h2m55 0h1m10 0h3m-195 1h2m8 0h3m100 0h3m8 0h2m54 0h2m12 0h4m-198 1h2m7 0h3m101 0h3m8 0h2m54 0h1m17 0h3m-202 1h2m7 0h4m101 0h3m7 0h3m53 0h2m21 0h3m-207 1h2m8 0h4m101 0h3m6 0h3m53 0h3m24 0h4m-212 1h1m11 0h4m99 0h3m7 0h3m52 0h3m29 0h4m-217 1h1m14 0h3m98 0h2m8 0h3m50 0h3m35 0h2m-220 1h1m17 0h2m97 0h2m8 0h5m2 0h4m42 0h1m39 0h1m-221 1h1m18 0h3m96 0h3m6 0h13m39 0h1m41 0h1m-222 1h1m20 0h4m96 0h8m6 0h4m40 0h1m41 0h1m-219 1h2m19 0h3m151 0h1m42 0h1m-213 1h2m16 0h3m147 0h1m42 0h2m-210 1h2m18 0h5m6 0h9m124 0h1m41 0h4m-208 1h1m42 0h1m114 0h2m41 0h3m5 0h7m2 0h9m-227 1h1m46 0h2m106 0h2m43 0h3m6 0h3m11 0h3m-226 1h1m51 0h1m101 0h2m44 0h3m6 0h3m8 0h2m-223 1h1m55 0h1m99 0h1m46 0h4m1 0h11m-241 1h6m15 0h1m60 0h1m9 0h11m75 0h2m48 0h9m-238 1h4m9 0h8m89 0h12m58 0h1m51 0h5m-235 1h3m118 0h2m55 0h1m54 0h2m-230 1h2m114 0h2m54 0h1m56 0h2m-228 1h2m111 0h1m55 0h1m58 0h1m-225 1h3m105 0h1m55 0h1m60 0h1m-223 1h3m102 0h1m19 0h9m25 0h1m62 0h2m-223 1h4m102 0h1m13 0h2m13 0h3m18 0h1m64 0h2m-221 1h4m105 0h6m25 0h11m67 0h2m-218 1h3m210 0h3m-214 1h3m205 0h4m-210 1h3m179 0h10m14 0h2m-207 1h3m89 0h22m2 0h12m31 0h11m27 0h3m5 0h2m-205 1h3m85 0h2m39 0h25m43 0h2m4 0h2m-203 1h3m83 0h2m108 0h1m4 0h2m-199 1h10m75 0h2m16 0h11m4 0h14m4 0h9m47 0h2m3 0h2m-191 1h5m133 0h11m36 0h5m-187 1h3m150 0h3m26 0h4m-185 1h3m155 0h11m-169 1h4m168 0h3m-175 1h4m169 0h3m-180 1h7m38 0h10m122 0h3m-204 1h24m40 0h3m15 0h3m115 0h3m-223 1h3m80 0h3m19 0h4m108 0h3m-137 1h4m19 0h3m93 0h5m-120 1h6m12 0h3m84 0h5m-99 1h7m83 0h3m-5 1h4m-32 1h13m15 0h4m-34 1h2m12 0h4m12 0h5m99 0h2m-137 1h1m15 0h3m15 0h9m6 0h50m6 0h26m10 0h11m-152 1h1m16 0h1m-18 1h1m16 0h1m-1 1h1"/>
<path stroke="#ff3000" d="M0 79.5h9m0 1h2m0 1h2m1 1h1m2 1h3m125 0h7m-133 1h3m120 0h12m-138 1h3m122 0h2m8 0h3m-142 1h3m19 0h4m102 0h2m8 0h4m-146 1h3m21 0h7m100 0h2m6 0h6m-153 1h6m25 0h8m100 0h3m3 0h8m-122 1h8m100 0h14m-122 1h8m103 0h11m61 0h3m-186 1h8m105 0h9m58 0h10m-190 1h8m106 0h8m58 0h2m5 0h5m-192 1h7m107 0h8m57 0h3m9 0h5m-197 1h7m108 0h7m58 0h3m15 0h3m-202 1h8m108 0h6m59 0h3m18 0h3m-207 1h2m5 0h4m106 0h7m58 0h4m21 0h4m-212 1h1m10 0h3m103 0h8m56 0h5m26 0h4m-217 1h1m13 0h3m101 0h8m54 0h3m34 0h2m-219 1h1m15 0h2m102 0h6m53 0h2m37 0h2m-220 1h2m15 0h3m159 0h1m38 0h2m-216 1h2m13 0h4m155 0h1m39 0h2m-210 1h1m11 0h4m151 0h1m38 0h3m-206 1h1m12 0h5m145 0h1m36 0h4m-203 1h1m40 0h1m117 0h2m36 0h3m15 0h2m-217 1h1m44 0h1m110 0h2m38 0h3m12 0h5m1 0h5m-222 1h1m48 0h2m104 0h1m41 0h2m12 0h8m-220 1h1m53 0h1m101 0h1m43 0h2m-203 1h2m56 0h2m98 0h1m44 0h3m-225 1h9m8 0h2m83 0h4m71 0h1m46 0h4m-227 1h4m112 0h2m58 0h1m49 0h4m-226 1h2m111 0h1m57 0h2m52 0h2m-224 1h5m105 0h1m57 0h1m55 0h2m-221 1h5m99 0h1m57 0h1m57 0h2m-219 1h4m97 0h1m55 0h2m58 0h2m-217 1h4m96 0h2m16 0h3m7 0h3m22 0h2m60 0h2m-215 1h3m98 0h4m6 0h3m19 0h3m11 0h3m60 0h4m-213 1h5m200 0h5m-208 1h13m189 0h3m-203 1h12m156 0h11m10 0h14m-202 1h10m76 0h3m22 0h2m12 0h9m5 0h17m41 0h5m-200 1h7m1 0h3m72 0h2m111 0h4m-198 1h13m68 0h2m111 0h4m-187 1h4m68 0h3m109 0h3m-184 1h2m74 0h12m27 0h18m-132 1h3m6 0h3m123 0h15m-149 1h12m140 0h3m-154 1h12m153 0h3m-168 1h13m154 0h2m-170 1h15m19 0h4m10 0h4m116 0h2m-177 1h25m11 0h4m21 0h5m107 0h3m-217 1h3m10 0h67m26 0h3m92 0h13m-230 1h14m66 0h16m26 0h3m85 0h5m-120 1h5m21 0h2m77 0h5m-98 1h4m7 0h3m76 0h4m-87 1h4m53 0h28m-30 1h2m13 0h15m-32 1h2m18 0h12m-32 1h1m19 0h15m97 0h10m-142 1h1m18 0h4m3 0h127m-153 1h1m18 0h3m5 0h12m31 0h27m13 0h43m-153 1h1m18 0h3m5 0h9m90 0h20"/>
<path stroke="#ff2000" d="M0 80.5h9m0 1h2m1 1h2m0 1h3m-1 1h3m-6 1h3m127 0h8m-143 1h4m130 0h8m-150 1h8m133 0h6m-5 1h3m68 4h5m-5 1h9m-9 1h15m-15 1h4m11 0h3m-202 1h5m179 0h3m15 0h3m-207 1h3m3 0h4m175 0h4m17 0h5m-212 1h2m9 0h2m169 0h7m22 0h5m-216 1h1m12 0h2m165 0h3m32 0h2m-216 1h2m11 0h2m163 0h1m35 0h2m-212 1h3m6 0h4m160 0h1m35 0h3m-207 1h11m156 0h2m33 0h3m-202 1h12m151 0h2m30 0h4m-198 1h2m10 0h14m13 0h1m120 0h2m31 0h3m-196 1h2m41 0h1m113 0h2m34 0h2m20 0h1m-216 1h1m45 0h2m107 0h2m36 0h3m-197 1h2m49 0h2m103 0h2m38 0h3m-199 1h1m54 0h1m101 0h2m39 0h3m-203 1h2m62 0h5m11 0h3m76 0h2m41 0h3m-219 1h15m85 0h4m6 0h2m61 0h2m44 0h3m-220 1h13m97 0h1m60 0h2m46 0h4m-217 1h8m95 0h2m59 0h1m51 0h3m-214 1h4m94 0h1m59 0h1m53 0h3m-213 1h3m93 0h1m58 0h1m55 0h2m-211 1h4m90 0h2m21 0h7m27 0h1m54 0h5m-210 1h10m85 0h3m13 0h4m10 0h5m17 0h2m53 0h5m-204 1h11m90 0h3m27 0h10m56 0h3m-190 1h3m182 0h4m-188 1h4m72 0h42m16 0h22m-157 1h7m67 0h2m48 0h5m-130 1h1m3 0h6m64 0h2m-68 1h3m62 0h3m-66 1h3m62 0h3m-67 1h13m58 0h3m12 0h5m3 0h19m-111 1h6m3 0h3m114 0h6m-122 1h2m135 0h3m-139 1h2m138 0h13m-152 1h2m23 0h8m118 0h3m-153 1h4m10 0h5m18 0h6m99 0h1m7 0h3m-150 1h11m30 0h3m92 0h12m-211 1h10m96 0h3m86 0h3m-203 1h2m24 0h40m45 0h5m68 0h12m-210 1h14m45 0h36m28 0h6m65 0h6m-106 1h13m14 0h3m47 0h26m-86 1h3m4 0h3m47 0h3m-55 1h1m49 0h3m-3 1h1m-1 1h1m-2 1h2m23 0h3m-28 1h2m22 0h5m12 0h31m27 0h13m-112 1h2m22 0h5m9 0h90m20 0h7"/>
<path stroke="#ff1000" d="M0 81.5h9m-9 1h12m-12 1h5m5 0h4m-14 1h6m5 0h5m-16 1h13m-13 1h8m209 9h11m-12 1h5m6 0h4m-201 1h3m183 0h3m10 0h4m-205 1h2m3 0h4m178 0h4m11 0h7m-210 1h2m7 0h3m170 0h9m14 0h9m-212 1h2m6 0h3m166 0h12m17 0h6m-207 1h6m165 0h3m7 0h15m2 0h8m-35 1h2m8 0h23m-34 1h2m9 0h19m-192 1h10m14 0h3m8 0h2m123 0h4m8 0h11m2 0h6m-191 1h2m9 0h6m22 0h2m116 0h5m9 0h5m10 0h5m-192 1h2m41 0h2m111 0h4m9 0h2m16 0h5m-192 1h1m45 0h3m107 0h3m8 0h4m17 0h6m-195 1h1m51 0h2m104 0h3m6 0h5m17 0h8m-198 1h2m56 0h4m5 0h11m81 0h5m2 0h7m16 0h11m-201 1h2m80 0h3m4 0h6m65 0h14m16 0h6m3 0h5m-204 1h2m82 0h5m6 0h2m63 0h14m15 0h8m4 0h5m-205 1h2m83 0h1m8 0h1m62 0h4m2 0h11m14 0h10m4 0h6m-207 1h3m89 0h2m61 0h2m6 0h9m15 0h10m7 0h4m-207 1h4m87 0h2m60 0h2m9 0h6m31 0h7m-205 1h6m82 0h2m58 0h2m47 0h5m-195 1h4m78 0h3m20 0h10m24 0h3m47 0h3m-188 1h3m76 0h11m3 0h9m8 0h10m10 0h6m48 0h2m-184 1h3m71 0h108m-180 1h4m65 0h3m42 0h16m-128 1h3m62 0h2m-65 1h3m59 0h2m-63 1h4m3 0h4m49 0h2m-60 1h11m48 0h3m-51 1h1m53 0h4m20 0h3m-80 1h1m99 0h14m-114 1h2m114 0h19m-134 1h2m133 0h3m-137 1h3m13 0h7m8 0h7m98 0h13m-146 1h10m29 0h3m92 0h4m1 0h7m-103 1h2m87 0h3m-90 1h29m38 0h19m-198 1h3m6 0h15m90 0h29m33 0h6m-184 1h3m11 0h31m70 0h31m10 0h8m6 0h10m-194 1h16m13 0h65m30 0h35m7 0h5m-171 1h13m44 0h45m5 0h4m10 0h3m8 0h24m8 0h4m-56 1h4m1 0h4m43 0h2m-2 1h2m-2 1h2m-25 1h6m3 0h5m9 0h1m-25 1h16m8 0h1m-25 1h16m8 0h1"/>
<path stroke="#ff0000" d="M5 83.5h5m-4 1h5m210 12h6m-8 1h10m-199 1h3m186 0h11m-201 1h7m182 0h14m-201 1h6m181 0h17m-27 1h7m15 0h2m-25 1h8m-9 1h9m-146 1h3m4 0h1m129 0h8m11 0h2m-183 1h9m6 0h5m140 0h9m5 0h10m-185 1h2m38 0h1m117 0h9m2 0h16m-186 1h1m42 0h2m113 0h8m4 0h6m5 0h6m-188 1h1m45 0h5m109 0h6m5 0h4m8 0h5m-188 1h1m53 0h2m106 0h2m7 0h3m10 0h3m-188 1h2m75 0h3m92 0h3m10 0h3m6 0h3m-197 1h2m77 0h3m5 0h6m79 0h3m10 0h2m8 0h4m-198 1h3m76 0h4m1 0h8m67 0h2m11 0h2m10 0h2m10 0h4m-198 1h3m74 0h12m65 0h6m9 0h3m10 0h2m10 0h7m-199 1h4m71 0h12m64 0h9m6 0h4m11 0h16m-192 1h4m68 0h10m62 0h4m2 0h14m14 0h13m-186 1h2m72 0h4m60 0h5m2 0h13m23 0h4m-182 1h2m69 0h5m23 0h8m26 0h26m17 0h5m-179 1h4m64 0h3m-68 1h3m60 0h2m-64 1h4m56 0h2m-60 1h9m47 0h3m-57 1h3m4 0h3m44 0h2m-47 1h2m43 0h3m-47 1h2m45 0h6m-52 1h1m59 0h10m25 0h4m-98 1h1m110 0h3m-113 1h2m111 0h20m-131 1h13m22 0h6m71 0h8m11 0h2m-91 1h3m67 0h8m11 0h3m-89 1h4m19 0h4m39 0h13m4 0h4m-58 1h3m32 0h3m-176 1h6m134 0h4m7 0h7m10 0h5m-175 1h11m132 0h10m8 0h6m-168 1h13m130 0h7m-153 1h44m45 0h5m17 0h8m24 0h8m-164 1h100m9 0h3m9 0h43m-149 1h18m79 0h10m12 0h30m-28 1h28m-28 1h5m6 0h3m5 0h9m-27 1h3m16 0h8m-27 1h3m16 0h8"/>
<path stroke="#ef0000" d="M72 104.5h4m-12 1h3m12 0h2m-36 1h17m20 0h1m-40 1h2m38 0h2m133 0h5m-181 1h2m40 0h3m129 0h8m-182 1h2m41 0h10m120 0h3m3 0h4m-183 1h2m57 0h16m98 0h3m4 0h3m-183 1h3m71 0h3m96 0h2m5 0h3m-181 1h2m71 0h3m95 0h3m4 0h3m-179 1h3m68 0h3m95 0h3m4 0h3m-176 1h4m64 0h3m95 0h3m4 0h4m-172 1h3m60 0h5m76 0h2m14 0h4m5 0h5m-171 1h3m58 0h11m69 0h2m13 0h23m-176 1h4m61 0h4m88 0h17m-170 1h3m58 0h3m-62 1h4m53 0h3m-58 1h7m44 0h5m-49 1h3m40 0h4m-44 1h1m39 0h4m-43 1h1m39 0h3m-42 1h1m39 0h5m-45 1h2m41 0h4m7 0h5m10 0h25m-93 1h2m95 0h13m-108 1h3m3 0h35m67 0h3m-70 1h3m65 0h3m8 0h11m-86 1h2m62 0h3m8 0h11m-82 1h19m4 0h5m31 0h3m13 0h4m-51 1h4m8 0h6m10 0h4m-29 1h7m7 0h10m-87 4h9m-109 1h15m18 0h70m4 0h5m10 0h12m-134 1h99m11 0h15m5 0h6m-3 1h3m-2 1h3m-3 1h3"/>
<path stroke="#df0000" d="M67 105.5h2m9 0h1m-17 1h3m16 0h1m-37 1h16m21 0h1m-39 1h3m35 0h2m-40 1h2m36 0h3m133 0h3m-177 1h2m38 0h4m8 0h5m117 0h4m-177 1h2m62 0h7m101 0h5m-176 1h3m65 0h3m101 0h4m-173 1h3m62 0h3m101 0h4m-169 1h3m58 0h3m101 0h4m-165 1h3m54 0h3m101 0h5m-163 1h3m50 0h5m-54 1h3m46 0h12m-58 1h4m41 0h13m-55 1h5m36 0h12m-48 1h3m31 0h10m-41 1h2m27 0h11m-39 1h2m25 0h12m-38 1h2m24 0h13m-38 1h1m27 0h2m4 0h5m-38 1h1m33 0h7m4 0h7m-51 1h2m4 0h39m47 0h3m-92 1h3m35 0h3m52 0h12m-64 1h2m61 0h2m-62 1h5m4 0h5m3 0h11m32 0h2m-32 1h3m12 0h7m5 0h4m-27 1h8m6 0h10m-85 6h4m-8 1h11m15 0h5m-130 1h133m-133 1h134m-134 1h134"/>
<path stroke="#cf0000" d="M69 105.5h2m6 0h1m-13 1h2m13 0h1m-20 1h3m17 0h1m-35 1h14m20 0h1m-36 1h3m32 0h1m-36 1h2m33 0h3m4 0h8m-49 1h3m52 0h7m-60 1h4m55 0h6m-62 1h5m53 0h4m-58 1h3m51 0h4m-54 1h2m49 0h3m-51 1h3m45 0h2m-46 1h4m39 0h3m-42 1h4m34 0h3m-37 1h3m30 0h3m-33 1h2m25 0h4m-29 1h1m23 0h3m-26 1h2m20 0h3m-24 1h2m18 0h4m-24 1h2m7 0h5m5 0h8m2 0h4m-32 1h33m-31 1h4m39 0h5m2 0h40m-48 1h3m46 0h3m-50 1h3m45 0h13m-55 1h4m5 0h3m11 0h4m13 0h15m-27 1h12m7 0h5"/>
<path stroke="#bf0000" d="M71 105.5h6m-10 1h2m10 0h1m-16 1h3m13 0h1m-20 1h3m16 0h1m-32 1h13m17 0h2m-33 1h12m19 0h2m-31 1h8m23 0h21m-49 1h6m45 0h4m-51 1h3m46 0h4m-51 1h3m45 0h3m-48 1h4m42 0h3m-45 1h5m37 0h3m-40 1h4m33 0h2m-35 1h3m29 0h2m-31 1h2m25 0h3m-28 1h2m21 0h2m-24 1h3m17 0h3m-21 1h2m4 0h14m-19 1h18m-18 1h7m5 0h5m32 2h2m-5 1h34m8 0h4m-44 1h31m10 0h4m-15 1h13"/>
<path stroke="#af0000" d="M69 106.5h2m6 0h2m-12 1h2m9 0h2m-16 1h3m11 0h2m-18 1h4m12 0h1m-19 1h4m14 0h1m-21 1h5m15 0h3m-22 1h4m17 0h14m3 0h7m-44 1h3m40 0h3m-44 1h4m38 0h3m-41 1h5m34 0h3m-37 1h5m29 0h3m-33 1h3m27 0h3m-30 1h3m23 0h3m-27 1h3m18 0h4m-23 1h4m2 0h15m-19 1h17m-16 1h4m75 5h8m-9 1h10"/>
<path stroke="#9f0000" d="M71 106.5h6m-8 1h2m6 0h1m-11 1h3m7 0h1m-12 1h3m7 0h2m-14 1h3m8 0h3m-15 1h3m9 0h3m-15 1h3m9 0h5m14 0h3m-34 1h4m8 0h28m-37 1h14m20 0h4m-33 1h8m23 0h3m-29 1h4m22 0h3m-27 1h4m19 0h4m-24 1h23m-21 1h18m-15 1h2"/>
<path stroke="#8f0000" d="M71 107.5h6m-7 1h7m-8 1h7m-9 1h8m-9 1h9m-9 1h9m-8 1h8m5 1h20m-21 1h23m-22 1h22m-20 1h19"/></g>
<path fill="none" stroke="#000" stroke-width="2.7" stroke-linejoin="round" stroke-linecap="round" d="M373.9 195.6L377.9 196.7L379.1 199.6L378.9 223.6L374.4 231.6L370.9 235.4L367.4 235.7L365.5 231.6L366.4 219.6L370.4 207.6L371.6 199.6L373.9 195.6ZM112.4 243.6L114.5 241.9L115.1 243.6L115.7 247.6L114.5 254.3L111.7 247.6L112.4 243.6ZM100.5 262.6L107.5 262.1L121.5 257.5L128.6 238.5L139.1 233.5L142.6 233.7L153.1 248.1L160.2 253.2L167.2 254.3L170.7 253.8L181.2 245.2L184.7 247.4L197.3 263.6L198.8 267.6L198.9 279.6L200.2 283.6L203.2 287.6L209.3 293.0L216.4 297.1L223.4 299.3L230.4 300.0L237.4 298.6L241.5 295.6L243.3 287.6L245.3 283.6L255.0 273.9L269.0 265.9L276.1 264.8L279.6 265.6L282.4 267.6L284.2 271.6L283.1 287.6L289.5 303.6L288.4 307.6L269.2 315.6L265.0 319.6L263.8 323.6L265.2 327.6L269.8 331.6L276.1 334.3L283.1 335.7L297.1 334.2L304.7 331.6L310.4 327.6L311.6 323.6L312.2 311.6L316.5 303.6L324.6 295.6L335.8 289.0L356.8 279.4L367.4 276.7L377.9 276.9L395.5 281.2L411.3 287.6L423.6 295.3L442.6 311.6L447.8 319.6L449.0 323.6L445.7 335.6L443.2 339.6L437.4 343.6L430.6 346.3L398.1 355.6L393.5 359.6L394.4 363.6L401.9 367.6L423.6 370.0L437.6 369.7L448.2 368.2L458.7 364.1L464.3 359.6L466.9 355.6L468.1 347.6L463.5 335.6L463.2 331.6L467.2 327.6L472.7 324.6L483.3 322.5L493.8 323.3L504.4 326.7L525.4 337.7L532.5 338.4L539.5 337.2L551.3 331.6L560.6 321.8L588.7 318.1L596.7 315.6L601.9 311.6L608.4 299.6L614.3 291.6L620.3 287.6L627.3 286.0L634.3 286.3L641.3 288.0L648.5 291.6L658.9 301.1L665.9 305.6L676.5 306.9L683.5 303.9L689.0 299.6L701.0 284.0L708.1 278.1L718.6 275.7L729.1 277.4L740.9 283.6L742.7 287.6L741.5 291.6L742.7 303.6L746.1 311.6L745.9 315.6L741.1 323.6L744.6 327.6L750.2 329.2L757.2 329.8L767.8 327.6L771.5 323.6L771.9 319.6L768.7 311.6L768.0 303.6L765.5 295.6L764.5 283.6L772.2 267.6L782.2 251.6L787.8 239.6L786.0 223.6L789.1 211.6L789.3 195.6L792.4 188.6L795.9 187.7L799.4 189.7L802.6 195.6L802.5 211.6L805.5 223.6L803.1 239.6L808.1 251.6L813.4 256.2L827.5 261.2L831.1 259.6L834.1 247.6L837.5 243.6L841.5 242.6L843.9 243.6L846.2 247.6L840.3 267.6L840.0 271.6L841.5 276.1L844.1 279.6L848.6 282.3L866.1 284.7L872.7 287.6L875.1 291.6L878.6 303.6L881.3 307.6L887.2 313.6L894.2 318.0L897.7 318.9L901.2 318.7L904.7 316.1L913.7 303.6L918.8 298.7L925.8 294.6L932.8 293.7L939.9 295.6L953.9 304.7L957.4 304.0L960.9 300.1L966.2 291.6L969.2 283.6L966.3 267.6L964.5 263.1L960.9 262.7L959.7 259.6L964.5 247.3L968.0 241.2L971.5 240.8L972.6 243.6L982.0 254.1L985.5 256.2L989.0 254.6L999.6 242.1L1003.1 241.0L1006.6 243.1L1021.3 263.6L1027.8 279.6L1044.3 299.6L1047.9 307.6L1046.5 311.6L1017.0 323.6L1012.5 327.6L1013.4 331.6L1021.2 339.6L1031.2 346.4L1062.8 354.5L1069.8 354.6L1073.3 353.3L1083.9 345.1L1090.9 342.5L1097.9 344.2L1114.5 351.6L1126.0 354.7L1136.6 355.8L1147.1 354.0L1151.7 351.6L1155.9 347.6L1158.1 343.6L1158.0 339.6L1154.7 335.6L1141.5 327.6L1138.4 323.6L1139.1 315.6L1143.4 307.6L1147.7 303.6L1154.1 300.7L1182.2 297.2L1186.6 295.6L1206.7 283.6L1220.8 281.6M1082.1 315.6L1091.2 315.6L1097.9 319.6L1100.0 323.6L1097.9 326.5L1094.4 327.4L1087.4 325.6L1076.9 319.6L1082.1 315.6ZM687.0 319.3L680.0 320.6L675.5 323.6L676.1 327.6L684.1 331.6L701.0 333.1L708.5 331.6L714.3 327.6L712.7 323.6L708.1 321.8L698.2 319.6L687.0 319.3ZM943.4 319.5L915.3 322.1L910.6 323.6L910.4 327.6L915.4 331.6L922.3 334.2L932.8 335.7L939.9 335.0L949.4 331.6L954.1 327.6L955.0 323.6L950.6 319.6L943.4 319.5ZM1220.8 343.8L1210.3 344.6L1202.6 347.6L1199.8 352.1L1193.8 371.6L1193.6 375.6L1196.3 380.7L1203.3 385.3L1210.3 387.3L1220.8 388.1M908.3 351.0L899.7 355.6L898.4 359.6L900.7 363.6L908.3 367.1L918.8 367.9L925.8 366.7L932.4 363.6L935.2 359.6L934.8 355.6L929.3 351.0L918.8 349.5L908.3 351.0ZM665.9 355.1L664.0 359.6L665.8 363.6L672.7 367.6L682.9 367.6L688.6 363.6L689.3 359.6L686.9 355.6L683.5 353.6L672.9 352.2L665.9 355.1ZM395.5 387.2L392.0 387.8L384.9 391.6L383.2 395.6L386.2 399.6L392.0 401.1L402.5 401.4L423.6 398.6L441.1 399.5L448.2 398.2L452.9 395.6L451.2 391.6L444.7 390.1L423.6 390.9L406.0 387.5L395.5 387.2ZM708.1 387.5L697.5 389.6L687.0 394.4L681.3 399.6L679.5 403.6L679.4 407.6L680.6 411.6L683.4 415.6L690.5 421.7L697.5 425.8L711.6 430.2L718.6 430.6L725.6 429.2L729.1 427.5L739.7 414.1L750.5 407.6L743.2 395.2L740.3 391.6L736.2 389.5L725.6 387.5L708.1 387.5ZM929.3 390.4L926.8 391.6L925.1 395.6L929.3 399.2L932.8 400.3L939.9 400.8L946.9 399.8L952.1 395.6L950.0 391.6L943.4 389.3L936.4 388.9L929.3 390.4ZM528.9 394.2L523.0 399.6L521.5 407.6L523.0 411.6L525.4 414.0L532.5 415.0L539.3 411.6L542.6 407.6L544.8 399.6L543.1 395.6L539.5 393.5L536.0 392.8L528.9 394.2ZM1052.3 394.7L1046.6 399.6L1043.3 407.6L1043.1 411.6L1044.5 415.6L1048.7 419.0L1055.8 421.3L1076.8 425.2L1088.9 431.6L1094.4 433.0L1101.4 433.3L1108.5 431.6L1109.9 427.6L1104.3 423.6L1094.4 420.0L1090.9 417.5L1088.1 411.6L1084.6 399.6L1080.9 395.6L1073.3 392.6L1066.3 391.8L1059.3 392.3L1052.3 394.7ZM314.7 403.4L304.2 406.3L297.8 411.6L296.4 415.6L297.7 423.6L304.2 430.8L311.2 434.2L325.2 435.9L332.3 433.6L342.3 419.6L344.2 415.6L342.8 411.6L337.5 407.6L328.7 404.3L314.7 403.4ZM1010.1 419.5L999.6 422.2L992.8 427.6L991.2 431.6L991.1 435.6L992.5 439.6L996.1 443.1L1006.6 446.6L1017.1 447.0L1033.8 443.6L1038.8 439.6L1039.6 435.6L1039.0 431.6L1037.5 427.6L1033.7 423.6L1024.2 420.4L1010.1 419.5ZM493.8 431.2L483.3 433.9L462.2 442.0L437.6 445.6L427.1 445.3L412.8 439.6L406.0 438.2L381.4 436.1L367.4 436.4L356.8 438.0L352.0 439.6L356.6 443.6L380.0 451.6L392.0 454.4L420.1 455.5L423.6 457.0L435.1 467.6L448.2 472.5L458.7 473.1L486.8 469.7L500.8 469.7L543.0 474.8L588.7 476.9L604.5 479.7L602.8 483.7L588.7 490.7L583.8 495.7L583.4 499.7L585.1 501.6L588.7 504.1L595.7 506.2L609.7 507.5L623.8 506.5L634.2 503.7L648.4 497.0L658.9 494.9L669.4 496.4L687.0 501.8L708.1 506.6L725.6 508.5L739.7 508.2L753.7 505.7L760.7 502.7L768.6 495.7L771.6 487.7L771.3 483.7L769.1 479.7L757.2 470.7L742.7 463.6L722.1 457.6L697.5 455.4L655.4 459.3L637.8 458.8L588.7 452.5L561.9 447.6L546.9 443.6L521.9 433.5L511.4 430.5L493.8 431.2ZM1220.8 439.4L1210.3 438.6L1192.7 435.4L1182.2 434.9L1164.6 438.0L1152.4 443.6L1148.0 447.6L1145.4 451.6L1144.1 455.6L1145.5 459.6L1150.6 461.8L1168.9 463.6L1184.3 467.6L1147.1 471.4L1126.0 469.0L1115.5 469.1L1101.4 470.8L1080.4 475.2L1073.3 474.9L1055.8 470.1L1041.7 468.4L1027.7 469.5L1013.6 473.1L996.6 479.7L992.6 483.7L992.2 487.7L995.0 495.7L995.3 499.7L992.8 503.7L985.5 508.1L962.3 515.7L953.9 523.1L932.8 520.1L897.7 518.5L736.2 524.8L718.6 524.6L676.5 521.6L644.8 522.4L581.6 521.1L571.1 521.6L561.3 523.7L554.2 527.7L553.2 531.7L560.8 535.7L585.1 540.0L613.2 540.8L648.4 537.7L676.5 539.2L704.6 538.3L732.6 541.0L764.3 541.1L795.9 545.8L841.5 546.7L860.6 551.7L866.1 555.8M497.3 556.0L476.3 554.8L451.7 555.9M382.5 555.7L375.9 551.7L367.4 544.5L360.4 541.5L339.3 543.3L332.3 542.2L307.7 530.8L300.7 529.5L283.1 529.3L273.6 527.7L233.9 511.0L174.2 491.2L128.6 480.6L100.5 478.7M188.3 455.5L181.2 456.7L173.7 459.6L171.4 463.6L174.3 467.6L181.6 471.7L191.8 474.2L205.8 474.5L215.4 471.7L218.6 467.6L217.8 463.6L212.8 459.6L198.8 455.7L188.3 455.5ZM100.5 463.1L132.1 462.7L140.0 459.6L140.6 455.6L132.8 439.6L125.4 431.6L114.5 426.9L100.5 425.6"/>
<path fill="#000" d="M109.4 38.5L108.8 48.1L123.9 43.2ZM146.1 40.7L153.9 49.3L162.9 41.1ZM200.3 39.4L188.5 32.3L184.0 41.6ZM222.8 38.4L221.3 47.9L236.8 43.3ZM259.4 39.9L264.3 49.1L275.8 41.9ZM312.8 42.8L313.3 33.2L298.3 38.3ZM350.6 38.7L336.6 32.9L335.4 42.4ZM388.0 38.4L373.3 33.2L373.3 42.7ZM426.7 41.8L423.0 32.4L410.6 39.3ZM461.5 44.3L469.0 35.6L451.6 36.9ZM485.6 40.7L493.4 49.3L502.4 41.0ZM539.2 38.6L525.1 32.9L524.0 42.5ZM568.3 45.2L585.0 42.1L571.2 36.2ZM612.9 44.0L619.0 35.0L601.8 37.2ZM636.5 40.7L644.2 49.3L653.2 41.1ZM687.4 44.4L695.9 36.0L678.3 36.8ZM711.9 40.8L720.1 49.3L728.7 40.9ZM754.0 44.7L771.6 45.1L762.6 36.9ZM800.2 44.6L809.4 36.4L791.8 36.7ZM841.0 42.8L841.2 33.2L826.3 38.3ZM869.7 36.2L855.6 41.9L872.0 45.2ZM917.2 41.4L912.0 32.3L900.8 39.6ZM951.5 44.4L959.9 36.0L942.3 36.8ZM992.6 41.6L988.1 32.3L976.3 39.5ZM1021.3 45.2L1037.8 41.8L1023.5 36.2ZM1051.4 41.0L1060.3 49.3L1068.2 40.7ZM1105.0 42.7L1105.0 33.1L1090.3 38.4ZM1136.4 45.2L1150.9 39.8L1134.7 36.1ZM1178.0 44.4L1186.0 35.8L1168.5 36.8ZM1215.5 44.4L1224.0 36.1L1206.4 36.8ZM115.7 62.1L132.4 59.0L118.5 53.1ZM146.4 56.5L150.2 65.9L162.5 59.0ZM192.2 53.0L176.4 57.4L191.7 62.2ZM221.6 57.9L230.5 66.2L238.3 57.6ZM260.4 55.3L259.2 64.9L274.6 60.2ZM310.2 61.3L318.7 53.0L301.2 53.7ZM338.6 61.4L356.0 62.6L348.2 54.0ZM384.7 53.5L367.1 53.4L376.4 61.5ZM426.9 57.4L418.4 49.0L410.2 57.5ZM456.3 62.2L472.1 57.9L456.9 53.1ZM502.1 56.4L490.4 49.2L485.8 58.5ZM538.6 55.0L523.2 50.4L524.5 59.9ZM577.8 57.3L568.9 49.0L561.1 57.6ZM598.9 57.0L604.4 66.1L615.3 58.6ZM636.5 57.7L644.5 66.2L653.2 57.9ZM690.0 59.7L690.4 50.1L675.5 55.2ZM728.5 56.5L717.1 49.2L712.1 58.4ZM754.0 61.6L771.6 62.0L762.6 53.8ZM797.5 62.1L811.3 56.1L794.6 53.1ZM838.9 54.1L821.9 51.8L827.6 60.8ZM869.9 53.1L855.5 58.6L871.9 62.1ZM910.8 62.0L924.5 56.0L907.7 53.1ZM938.6 59.0L950.8 65.9L954.8 56.6ZM983.1 53.1L968.7 58.6L985.0 62.1ZM1017.9 61.6L1035.5 62.1L1026.8 53.8ZM1052.8 60.1L1067.9 65.0L1067.1 55.4ZM1097.0 62.2L1113.2 58.5L1098.7 53.1ZM1143.5 58.4L1138.7 49.2L1127.1 56.4ZM1178.0 61.2L1185.9 52.7L1168.4 53.8ZM1211.9 53.1L1195.1 56.1L1208.9 62.1ZM109.0 72.8L110.4 82.4L124.3 76.5ZM146.1 74.4L153.7 83.1L162.9 74.9ZM200.0 76.3L198.9 66.7L184.8 72.4ZM222.6 76.7L237.0 82.2L237.6 72.6ZM260.4 72.2L259.2 81.8L274.6 77.1ZM312.6 76.8L313.9 67.3L298.5 71.9ZM335.0 75.6L346.2 82.9L351.4 73.8ZM388.5 76.3L387.6 66.7L373.4 72.4ZM423.2 78.3L432.0 70.0L414.4 70.5ZM461.8 78.0L468.6 69.1L451.3 70.8ZM502.2 73.5L491.2 66.0L485.7 75.2ZM537.0 71.0L519.9 68.8L525.9 77.8ZM562.1 72.3L561.2 81.8L576.4 77.0ZM606.9 69.9L591.4 74.5L606.8 79.1ZM640.2 78.3L657.7 79.5L650.0 70.9ZM683.0 69.9L666.9 73.7L681.5 79.0ZM713.2 72.1L711.5 81.6L727.1 77.2ZM758.1 79.1L773.8 74.8L758.6 69.9ZM795.7 79.1L811.5 74.9L796.5 70.0ZM833.0 69.9L817.7 74.7L833.4 79.1ZM876.8 71.1L859.9 68.5L865.1 77.6ZM904.0 70.8L895.8 79.3L913.3 78.4ZM939.3 72.3L938.5 81.9L953.7 77.0ZM976.0 74.8L984.7 83.1L992.7 74.6ZM1028.9 71.8L1013.4 67.3L1014.9 76.9ZM1068.0 75.4L1063.4 66.1L1051.7 73.3ZM1090.7 77.1L1106.2 81.7L1104.7 72.1ZM1141.4 77.6L1146.5 68.4L1129.6 71.1ZM1171.2 70.0L1157.4 76.0L1174.1 79.0ZM1202.5 73.6L1206.9 82.9L1218.7 75.7ZM116.0 86.9L101.0 91.9L116.9 96.0ZM146.3 90.5L150.8 99.8L162.6 92.6ZM199.8 93.4L199.7 83.8L185.0 89.1ZM224.4 94.8L241.3 97.4L236.0 88.2ZM260.5 89.0L259.0 98.6L274.5 94.0ZM312.8 89.3L298.6 83.7L297.7 93.2ZM351.2 90.1L339.3 83.1L334.9 92.3ZM380.8 86.8L365.0 91.2L380.3 96.0ZM418.3 96.0L434.3 92.0L419.5 86.9ZM455.7 86.9L440.5 91.7L456.2 96.0ZM497.8 87.3L480.2 87.2L489.6 95.3ZM538.8 88.9L523.7 84.0L524.3 93.6ZM577.0 93.4L577.0 83.8L562.2 89.1ZM614.3 89.0L599.3 83.9L599.7 93.5ZM652.5 93.3L652.0 83.7L637.5 89.2ZM677.0 94.8L693.9 97.4L688.7 88.2ZM712.0 91.8L721.0 100.0L728.7 91.4ZM751.1 93.9L766.3 98.7L765.3 89.2ZM797.3 95.9L811.4 90.2L794.9 86.9ZM840.4 88.9L825.2 84.1L826.2 93.6ZM870.6 96.0L886.9 92.3L872.4 86.9ZM901.6 89.2L900.7 98.7L915.9 93.9ZM947.3 86.9L930.9 90.4L945.4 95.9ZM976.9 93.5L991.2 99.2L992.0 89.6ZM1021.4 86.9L1006.3 91.8L1022.2 96.0ZM1066.7 88.8L1051.2 84.2L1052.6 93.7ZM1101.6 87.4L1084.0 86.9L1092.9 95.2ZM1126.9 91.6L1135.2 100.0L1143.6 91.6ZM1177.5 87.6L1160.0 86.5L1167.9 95.0ZM1218.7 90.1L1206.6 83.1L1202.5 92.4ZM116.6 103.7L101.0 108.1L116.3 112.9ZM146.4 109.4L157.6 116.7L162.8 107.6ZM199.9 110.1L199.1 100.5L184.8 106.2ZM225.5 112.2L243.1 113.1L234.9 104.6ZM259.3 108.3L267.2 116.9L276.0 108.6ZM313.0 110.3L312.8 100.7L298.1 106.0ZM350.3 106.0L335.5 100.8L335.6 110.3ZM379.3 103.8L365.2 109.5L381.7 112.8ZM410.5 109.6L422.5 116.6L426.7 107.3ZM451.4 104.6L443.1 113.1L460.7 112.2ZM501.3 106.0L486.7 100.7L486.4 110.3ZM539.2 110.4L539.5 100.8L524.6 105.9ZM576.7 110.6L578.0 101.1L562.6 105.7ZM615.4 109.1L610.4 99.9L599.0 107.2ZM653.3 108.4L645.7 99.7L636.5 107.9ZM690.7 109.4L686.9 100.0L674.6 106.9ZM712.9 110.4L727.2 116.0L728.0 106.5ZM750.6 110.4L764.8 116.1L765.7 106.5ZM790.6 111.9L807.9 113.8L801.4 104.9ZM841.7 107.4L830.9 99.8L825.2 108.9ZM865.6 111.7L882.6 114.2L877.2 105.1ZM908.1 103.8L893.2 108.8L909.1 112.9ZM938.9 106.6L940.1 116.1L954.1 110.4ZM990.2 111.6L996.2 102.6L979.0 104.8ZM1021.0 103.8L1006.4 109.1L1022.6 112.9ZM1064.7 104.6L1047.3 103.0L1054.4 111.8ZM1098.2 103.8L1081.8 107.2L1096.2 112.8ZM1127.6 106.5L1128.4 116.0L1142.6 110.4ZM1172.7 112.9L1188.7 108.9L1173.8 103.8ZM1219.0 108.0L1210.1 99.7L1202.3 108.3ZM113.0 129.3L130.6 129.4L121.1 121.3ZM149.0 128.6L166.0 131.1L160.5 122.0ZM197.2 121.5L179.9 119.8L186.8 128.7ZM225.7 129.1L243.2 129.9L234.8 121.5ZM259.5 126.2L270.5 133.7L276.0 124.6ZM305.7 129.8L321.2 125.2L305.8 120.6ZM344.3 120.7L327.6 123.7L341.3 129.7ZM380.0 120.7L365.1 125.8L381.1 129.8ZM410.2 125.5L419.0 133.8L426.9 125.2ZM450.8 121.7L443.9 130.5L461.2 128.9ZM501.1 127.6L502.8 118.1L487.2 122.5ZM540.1 125.2L532.3 116.6L523.4 124.8ZM562.2 122.9L560.9 132.4L576.3 127.8ZM612.2 121.6L595.0 119.7L601.6 128.6ZM653.0 126.3L649.3 116.9L636.9 123.8ZM691.0 124.8L681.9 116.6L674.2 125.2ZM712.1 124.4L717.1 133.6L728.4 126.3ZM749.9 126.2L760.8 133.7L766.3 124.6ZM787.4 125.2L795.3 133.8L804.1 125.5ZM833.7 120.6L817.7 124.7L832.7 129.7ZM873.0 129.7L886.7 123.7L870.0 120.7ZM917.1 126.1L912.6 116.8L900.8 124.0ZM946.6 120.6L930.9 124.9L946.0 129.7ZM992.3 123.8L980.0 116.9L976.2 126.3ZM1029.1 122.7L1014.0 117.8L1014.7 127.4ZM1060.5 120.7L1044.1 124.1L1058.4 129.7ZM1093.0 121.4L1084.0 129.6L1101.5 129.2ZM1129.8 128.7L1146.8 131.0L1141.2 122.0ZM1174.6 129.7L1188.6 123.9L1172.0 120.7ZM1219.0 124.9L1210.1 116.6L1202.3 125.2ZM112.8 146.1L130.4 146.5L121.4 138.3ZM149.4 145.7L166.6 147.7L160.2 138.7ZM183.9 142.4L192.6 150.7L200.6 142.2ZM230.6 146.6L245.7 141.8L230.0 137.5ZM259.4 141.3L264.4 150.5L275.8 143.2ZM300.5 145.8L317.9 147.4L310.8 138.6ZM341.7 137.6L327.5 143.2L343.9 146.6ZM379.1 137.6L365.3 143.6L381.9 146.6ZM410.2 142.3L418.5 150.7L426.9 142.3ZM457.1 146.6L472.0 141.6L456.1 137.5ZM499.1 138.5L481.8 136.6L488.4 145.5ZM539.2 140.0L525.1 134.3L524.0 143.9ZM561.7 140.3L562.7 149.9L576.9 144.2ZM610.9 138.0L593.3 138.0L602.9 146.0ZM653.3 141.9L644.9 133.5L636.5 141.9ZM677.3 138.6L670.0 147.3L687.4 145.8ZM712.1 143.0L723.0 150.6L728.6 141.5ZM750.6 144.2L764.6 149.9L765.8 140.4ZM788.4 140.0L787.8 149.5L802.8 144.5ZM825.3 141.1L829.5 150.4L841.5 143.4ZM865.7 145.6L882.8 147.9L877.1 138.9ZM914.8 145.4L920.6 136.3L903.5 138.6ZM952.7 145.2L957.9 136.1L941.0 138.7ZM983.5 137.6L968.6 142.6L984.6 146.7ZM1030.5 142.0L1022.3 133.5L1013.7 141.9ZM1068.0 142.9L1063.2 133.7L1051.7 141.0ZM1092.9 138.3L1084.0 146.5L1101.6 146.1ZM1129.6 145.5L1146.5 148.2L1141.4 139.0ZM1174.8 146.6L1188.5 140.6L1171.8 137.6ZM1202.4 141.4L1207.5 150.5L1218.8 143.2ZM121.2 162.9L130.5 154.7L112.9 155.0ZM146.5 160.3L158.4 167.3L162.7 158.0ZM183.9 159.2L192.5 167.6L200.6 159.1ZM231.8 163.4L245.5 157.4L228.7 154.5ZM261.8 155.7L256.0 164.8L273.1 162.5ZM305.0 163.6L321.1 159.7L306.4 154.5ZM338.1 162.6L355.4 164.4L348.6 155.6ZM372.5 159.3L381.1 167.6L389.2 159.1ZM424.2 155.6L407.3 153.0L412.5 162.1ZM451.4 162.7L468.7 164.3L461.7 155.5ZM498.1 155.0L480.6 154.5L489.3 162.8ZM539.9 160.0L535.9 150.7L523.7 157.6ZM565.1 155.1L555.6 163.2L573.2 163.1ZM611.0 154.9L593.4 154.8L602.8 162.9ZM653.3 158.8L644.8 150.4L636.5 158.8ZM687.2 162.8L696.1 154.5L678.5 155.0ZM715.6 162.8L733.0 164.1L725.6 155.4ZM756.8 163.5L773.6 160.5L759.9 154.5ZM800.5 155.2L783.1 153.8L790.5 162.5ZM829.7 163.1L847.3 163.2L837.8 155.1ZM870.8 154.4L855.4 159.1L871.0 163.6ZM916.7 160.7L915.4 151.2L901.4 157.0ZM954.1 161.1L954.4 151.5L939.5 156.6ZM988.4 155.0L970.8 154.6L979.8 162.8ZM1029.0 156.4L1013.7 151.7L1014.8 161.3ZM1067.1 161.2L1068.1 151.7L1052.8 156.5ZM1097.0 163.6L1113.2 159.8L1098.6 154.5ZM1135.6 154.4L1119.5 158.3L1134.3 163.5ZM1177.8 162.7L1186.2 154.3L1168.7 155.1ZM1218.9 159.8L1214.0 150.6L1202.6 157.9ZM124.2 173.7L109.8 168.2L109.1 177.8ZM146.3 175.0L150.9 184.3L162.6 177.1ZM186.8 179.3L203.8 181.8L198.2 172.7ZM236.0 179.1L241.4 170.0L224.4 172.5ZM262.6 172.3L254.7 180.8L272.2 179.7ZM310.6 179.5L318.1 170.8L300.7 172.1ZM350.3 173.5L335.4 168.4L335.7 178.0ZM376.9 179.9L394.5 180.2L385.3 172.1ZM410.2 176.0L418.4 184.5L426.9 176.1ZM452.4 179.9L470.0 180.2L460.7 172.0ZM501.5 177.9L501.4 168.3L486.8 173.6ZM539.2 178.0L539.4 168.4L524.6 173.5ZM563.8 179.3L580.7 181.9L575.6 172.8ZM612.2 179.6L620.2 171.0L602.7 172.0ZM650.4 179.3L657.1 170.5L639.8 172.3ZM687.9 179.4L695.1 170.7L677.8 172.2ZM712.8 177.9L726.8 183.7L728.1 174.2ZM766.4 175.5L757.2 167.3L749.7 176.0ZM801.6 179.2L807.5 170.2L790.4 172.4ZM839.6 179.0L844.7 169.9L827.8 172.5ZM872.3 171.4L855.6 174.5L869.5 180.4ZM917.3 175.6L908.5 167.3L900.5 175.9ZM951.9 172.4L934.7 170.2L940.9 179.2ZM989.8 172.4L972.7 170.1L978.5 179.1ZM1027.6 172.5L1010.7 170.0L1016.1 179.1ZM1052.1 174.1L1053.1 183.7L1067.2 178.0ZM1093.5 179.9L1111.1 180.3L1102.1 172.1ZM1143.3 174.6L1131.4 167.6L1127.0 176.8ZM1181.3 175.8L1173.4 167.3L1164.6 175.6ZM1219.1 175.9L1211.1 167.3L1202.3 175.6ZM121.6 189.1L104.2 187.6L111.5 196.3ZM146.4 194.0L158.1 201.2L162.8 191.9ZM187.5 196.5L204.9 198.0L197.5 189.3ZM235.6 189.4L218.7 186.8L223.8 195.9ZM275.8 191.7L264.3 184.4L259.4 193.6ZM312.8 190.7L298.6 185.0L297.7 194.6ZM350.2 195.2L351.9 185.7L336.3 190.1ZM372.5 193.1L381.4 201.4L389.2 192.8ZM424.0 189.3L406.9 187.0L412.7 196.0ZM461.6 196.3L468.9 187.6L451.5 189.0ZM494.9 188.3L478.4 191.5L492.4 197.3ZM531.3 197.4L547.5 193.6L532.8 188.3ZM573.8 196.7L583.2 188.6L565.6 188.7ZM599.5 191.0L600.3 200.5L614.6 194.9ZM639.6 196.4L656.8 198.4L650.6 189.5ZM681.7 197.3L698.2 194.0L684.1 188.3ZM712.1 191.9L716.7 201.2L728.4 194.0ZM756.4 188.3L742.4 194.1L759.0 197.3ZM804.1 192.5L795.2 184.2L787.4 192.8ZM838.7 189.3L821.6 187.1L827.7 196.1ZM876.4 189.2L859.2 187.2L865.5 196.2ZM917.3 192.6L909.0 184.2L900.5 192.6ZM947.4 188.3L931.0 191.7L945.2 197.3ZM979.1 189.2L971.6 197.9L989.1 196.6ZM1027.3 189.2L1010.2 187.2L1016.3 196.1ZM1061.6 197.3L1075.4 191.3L1058.6 188.3ZM1090.7 195.5L1106.3 200.0L1104.7 190.4ZM1142.8 194.8L1142.7 185.2L1128.0 190.5ZM1181.1 193.8L1176.9 184.5L1164.9 191.5ZM1217.5 190.1L1202.0 185.6L1203.5 195.2ZM123.8 207.2L108.7 202.3L109.5 211.9ZM155.0 214.3L170.3 209.5L154.7 205.1ZM192.0 214.3L208.0 210.3L193.1 205.2ZM224.6 206.2L217.4 214.9L234.8 213.4ZM267.2 205.1L251.9 209.9L267.5 214.3ZM309.6 205.8L292.1 205.1L300.6 213.5ZM344.1 205.2L327.5 208.4L341.5 214.2ZM380.3 205.1L365.0 209.9L380.7 214.3ZM418.1 214.3L434.3 210.5L419.7 205.2ZM455.9 214.3L472.0 210.4L457.3 205.2ZM499.5 206.2L482.4 203.9L488.1 212.9ZM527.8 213.7L545.4 214.0L536.2 205.8ZM574.1 205.9L556.7 204.6L564.3 213.3ZM600.1 212.2L615.2 217.1L614.5 207.5ZM636.7 208.6L640.6 218.0L652.9 211.1ZM677.0 213.1L693.9 215.7L688.7 206.5ZM712.0 210.0L720.7 218.3L728.7 209.8ZM758.0 205.1L742.2 209.5L757.5 214.3ZM803.3 207.7L789.2 201.9L788.0 211.4ZM825.2 209.1L830.8 218.2L841.7 210.6ZM879.6 209.6L871.5 201.1L862.8 209.4ZM914.0 213.3L921.9 204.8L904.4 205.9ZM938.3 209.6L945.7 218.3L955.0 210.1ZM979.3 213.3L996.6 215.1L989.9 206.3ZM1022.3 214.3L1037.9 209.8L1022.5 205.1ZM1065.1 213.2L1072.4 204.5L1055.0 206.0ZM1089.1 209.7L1097.0 218.3L1105.9 210.0ZM1143.5 210.5L1138.7 201.3L1127.1 208.5ZM1181.1 210.8L1177.4 201.5L1165.0 208.2ZM1219.1 209.7L1211.1 201.1L1202.3 209.4ZM123.8 224.1L108.6 219.3L109.5 228.8ZM149.2 223.1L142.0 231.8L159.4 230.3ZM200.5 227.4L195.6 218.2L184.1 225.5ZM221.7 225.9L227.0 235.0L238.1 227.6ZM263.7 230.6L281.3 230.9L272.2 222.7ZM310.3 222.9L293.0 221.3L300.0 230.1ZM337.6 223.2L330.9 232.0L348.2 230.2ZM372.5 226.8L380.9 235.2L389.2 226.8ZM410.5 227.8L422.1 235.0L426.8 225.8ZM450.6 223.2L444.2 232.2L461.5 230.2ZM488.4 223.2L481.8 232.1L499.1 230.2ZM523.7 227.9L535.8 234.9L539.9 225.6ZM570.5 222.1L553.8 225.2L567.8 231.1ZM608.6 231.1L622.8 225.4L606.3 222.1ZM636.7 227.5L647.5 235.1L653.2 226.0ZM678.6 230.6L696.1 231.0L687.2 222.8ZM711.9 226.7L720.2 235.2L728.7 226.8ZM753.0 222.9L745.0 231.5L762.5 230.5ZM802.9 224.2L788.1 219.1L788.3 228.7ZM829.6 230.6L847.2 230.9L837.9 222.7ZM879.6 226.6L871.9 218.0L862.8 226.2ZM903.8 223.0L896.1 231.6L913.5 230.4ZM941.0 230.0L957.9 232.6L952.7 223.5ZM991.5 229.0L993.1 219.4L977.6 223.9ZM1029.5 228.8L1030.1 219.2L1015.0 224.1ZM1068.0 227.6L1063.8 218.3L1051.8 225.3ZM1092.9 230.4L1110.3 231.6L1102.7 223.0ZM1143.6 226.4L1135.2 218.0L1126.9 226.4ZM1174.1 231.1L1188.7 225.8L1172.5 222.0ZM1211.5 231.1L1226.5 226.1L1210.5 222.0ZM121.7 239.8L104.4 238.2L111.4 247.0ZM147.0 241.5L147.0 251.1L161.7 245.8ZM184.0 242.7L188.7 251.9L200.3 244.7ZM223.1 246.1L238.6 250.7L237.1 241.1ZM273.4 246.9L279.7 237.9L262.5 239.9ZM299.4 240.3L293.9 249.4L310.9 246.9ZM349.9 240.9L334.5 236.3L335.9 245.9ZM381.3 238.9L365.1 242.7L379.8 248.0ZM418.1 238.9L402.8 243.7L418.4 248.1ZM450.2 240.3L444.9 249.5L461.9 246.9ZM486.7 241.3L485.9 250.9L501.0 246.0ZM532.6 239.0L516.1 242.3L530.2 248.0ZM564.1 240.0L556.9 248.8L574.3 247.2ZM606.6 248.1L622.9 244.4L608.3 239.0ZM637.4 245.6L651.5 251.3L652.6 241.7ZM683.4 239.0L666.9 242.4L681.2 248.0ZM713.2 241.1L711.6 250.7L727.1 246.1ZM753.3 239.7L744.7 248.1L762.2 247.4ZM803.1 241.3L788.7 235.8L788.1 245.4ZM833.8 238.9L817.7 242.9L832.5 248.0ZM879.6 243.2L870.8 234.9L862.8 243.4ZM907.4 239.0L893.3 244.7L909.8 248.0ZM946.6 248.1L962.4 243.9L947.3 239.0ZM984.1 248.1L1000.1 244.1L985.2 239.0ZM1018.3 247.6L1035.9 247.6L1026.4 239.6ZM1067.1 245.8L1068.2 236.2L1052.9 240.9ZM1090.5 246.0L1105.6 250.9L1104.9 241.3ZM1142.8 245.4L1142.4 235.8L1127.9 241.3ZM1171.8 248.0L1188.5 245.0L1174.7 239.0ZM1212.1 248.0L1226.3 242.4L1209.9 239.0ZM115.4 255.9L101.1 261.5L117.6 264.9ZM149.9 256.6L141.0 264.8L158.6 264.4ZM184.0 261.4L195.0 268.9L200.5 259.8ZM225.0 264.1L242.4 265.7L235.4 256.9ZM275.2 258.4L261.1 252.6L259.9 262.1ZM298.0 262.6L312.3 268.1L313.1 258.6ZM337.5 263.8L354.5 266.4L349.2 257.2ZM375.2 257.0L368.7 265.9L386.0 264.0ZM417.3 255.9L402.9 261.3L419.2 264.9ZM452.3 264.4L469.9 264.8L460.8 256.6ZM486.0 261.7L498.0 268.7L502.2 259.4ZM540.1 260.3L532.1 251.8L523.4 260.1ZM561.1 260.6L569.4 269.0L577.8 260.6ZM611.8 264.2L620.6 255.9L603.0 256.4ZM639.8 264.0L657.0 265.9L650.5 257.0ZM676.9 263.8L693.8 266.4L688.7 257.3ZM727.7 258.2L713.4 252.7L712.7 262.3ZM749.9 259.3L753.6 268.7L766.0 261.8ZM802.8 257.9L787.6 253.0L788.4 262.6ZM828.1 256.9L821.0 265.7L838.4 264.1ZM879.5 261.0L873.9 251.9L863.0 259.4ZM901.3 258.5L901.7 268.0L916.2 262.6ZM954.9 261.1L949.7 252.0L938.5 259.4ZM980.2 264.4L997.8 265.0L989.1 256.6ZM1017.5 256.6L1008.5 264.8L1026.1 264.4ZM1060.2 265.0L1075.6 260.3L1060.0 255.8ZM1089.4 261.6L1101.0 268.8L1105.8 259.6ZM1142.9 262.2L1142.0 252.6L1127.8 258.3ZM1174.3 264.9L1188.7 259.4L1172.3 255.9ZM1206.5 264.4L1224.1 264.9L1215.3 256.6ZM109.4 279.4L123.5 285.1L124.5 275.5ZM155.5 281.8L170.3 276.6L154.1 272.7ZM193.1 281.8L208.0 276.8L192.0 272.7ZM222.7 275.0L221.5 284.6L236.9 279.9ZM266.1 272.8L252.0 278.6L268.6 281.8ZM298.6 280.0L314.1 284.5L312.6 274.9ZM338.4 273.5L329.8 281.9L347.4 281.2ZM387.7 274.6L372.1 270.1L373.7 279.7ZM413.5 281.0L430.9 282.7L424.1 273.9ZM451.4 281.0L468.8 282.5L461.6 273.8ZM493.3 281.8L509.7 278.3L495.3 272.8ZM537.0 280.8L544.4 272.1L526.9 273.5ZM561.5 278.7L573.8 285.6L577.6 276.2ZM601.6 280.7L618.6 283.2L613.1 274.1ZM636.6 276.6L642.0 285.8L653.1 278.3ZM677.6 281.0L695.0 282.6L688.0 273.8ZM728.7 277.1L720.3 268.7L711.9 277.1ZM749.7 277.6L758.6 285.9L766.4 277.3ZM803.0 275.0L788.5 269.7L788.2 279.3ZM828.1 273.8L820.9 282.5L838.3 281.0ZM871.8 281.9L887.0 277.0L871.2 272.7ZM900.9 278.7L913.2 285.6L917.1 276.2ZM952.3 280.7L958.7 271.8L941.5 273.7ZM983.4 272.8L968.6 277.9L984.7 281.9ZM1017.3 273.6L1008.8 281.9L1026.3 281.2ZM1061.0 272.8L1044.3 275.8L1058.0 281.8ZM1089.3 278.3L1100.3 285.8L1105.8 276.7ZM1142.7 279.4L1143.1 269.9L1128.1 274.9ZM1167.4 280.7L1184.4 283.2L1178.9 274.1ZM1206.6 281.3L1224.1 281.8L1215.3 273.5ZM110.0 296.9L125.6 301.3L123.9 291.8ZM155.9 298.7L170.2 293.1L153.8 289.7ZM191.5 298.7L207.9 295.3L193.6 289.7ZM224.8 290.6L217.2 299.3L234.6 298.0ZM262.3 290.7L255.1 299.4L272.5 297.9ZM298.0 292.1L297.4 301.6L312.5 296.6ZM337.7 297.7L354.9 300.0L349.0 290.9ZM373.5 296.4L388.0 301.9L388.5 292.3ZM426.6 292.9L414.6 285.9L410.4 295.2ZM455.1 298.7L471.8 295.8L458.1 289.7ZM502.4 293.9L493.7 285.6L485.6 294.1ZM524.9 296.9L540.5 301.4L538.9 291.8ZM576.8 292.0L562.3 286.5L561.8 296.1ZM605.8 289.7L591.5 295.3L607.9 298.7ZM639.2 290.8L632.9 299.8L650.1 297.8ZM688.2 297.6L694.8 288.7L677.5 290.6ZM728.7 294.1L720.5 285.6L711.9 294.0ZM749.8 293.3L754.3 302.6L766.1 295.5ZM803.3 292.2L789.3 286.4L788.0 295.9ZM828.0 297.6L845.0 300.1L839.4 291.0ZM866.5 298.0L883.9 299.3L876.4 290.6ZM900.7 293.4L905.7 302.6L917.1 295.3ZM952.2 297.6L958.9 288.8L941.6 290.6ZM990.0 297.6L996.4 288.7L979.2 290.6ZM1027.4 297.7L1034.7 289.0L1017.3 290.5ZM1061.1 289.7L1044.3 292.6L1057.9 298.6ZM1089.2 293.5L1094.6 302.7L1105.7 295.2ZM1141.0 297.5L1147.1 288.5L1130.0 290.7ZM1173.3 298.8L1188.8 294.2L1173.3 289.6ZM1211.1 298.8L1226.5 294.1L1210.9 289.6ZM109.7 313.5L124.7 318.5L124.2 309.0ZM159.0 315.0L168.2 306.8L150.6 307.1ZM193.3 315.6L208.0 310.3L191.8 306.5ZM225.1 307.4L216.7 315.8L234.3 315.0ZM260.2 313.1L274.2 318.9L275.4 309.4ZM297.2 310.1L301.5 319.4L313.4 312.4ZM351.4 311.8L346.2 302.7L335.0 310.1ZM375.5 314.6L392.6 316.8L386.7 307.8ZM414.2 315.0L431.8 315.8L423.4 307.4ZM447.9 311.5L457.1 319.7L464.7 311.0ZM502.4 311.0L494.3 302.5L485.6 310.9ZM524.3 309.0L524.0 318.6L538.9 313.5ZM574.7 307.5L557.5 305.5L563.7 314.4ZM599.7 313.1L613.6 318.9L614.9 309.4ZM637.7 308.8L636.3 318.3L651.8 313.7ZM688.5 314.3L694.2 305.3L677.2 307.6ZM725.5 307.5L708.3 305.5L714.6 314.4ZM764.1 314.3L769.4 305.1L752.5 307.7ZM803.9 310.1L792.8 302.7L787.5 311.8ZM828.2 314.7L845.4 316.7L839.2 307.8ZM870.0 315.6L886.7 312.6L873.0 306.6ZM903.2 307.8L896.9 316.7L914.1 314.7ZM952.6 314.3L958.1 305.2L941.1 307.7ZM989.6 314.6L997.0 305.9L979.6 307.3ZM1014.0 312.3L1025.7 319.5L1030.3 310.2ZM1061.1 306.6L1044.3 309.5L1057.9 315.5ZM1092.4 307.5L1084.7 316.1L1102.1 314.9ZM1136.9 315.6L1150.8 309.7L1134.2 306.6ZM1178.8 314.4L1184.6 305.3L1167.5 307.6ZM1214.7 307.1L1197.2 306.6L1206.1 314.9ZM111.5 324.5L104.2 333.2L121.6 331.7ZM159.6 331.6L167.4 323.0L149.9 324.2ZM197.5 331.5L204.9 322.8L187.5 324.3ZM224.3 324.6L217.9 333.6L235.1 331.6ZM259.4 327.3L264.7 336.4L275.8 329.0ZM304.7 323.5L289.6 328.4L305.5 332.6ZM350.2 325.6L335.2 320.6L335.7 330.1ZM372.6 328.9L383.5 336.5L389.1 327.4ZM411.1 330.1L425.3 335.8L426.3 326.2ZM451.0 331.5L468.2 333.7L462.0 324.7ZM499.3 331.5L506.5 322.8L489.2 324.3ZM523.3 328.0L531.2 336.6L540.1 328.3ZM576.7 325.8L562.2 320.4L561.9 329.9ZM608.9 332.5L622.7 326.5L606.0 323.5ZM636.6 327.4L642.1 336.5L653.1 329.0ZM686.8 324.0L669.2 323.4L677.9 331.8ZM728.7 327.8L720.1 319.4L711.9 327.9ZM766.4 327.6L757.3 319.4L749.7 328.0ZM801.8 331.2L807.1 322.0L790.2 324.6ZM838.9 331.5L845.9 322.7L828.6 324.3ZM877.3 331.1L882.5 322.0L865.6 324.6ZM909.4 323.4L893.2 327.2L907.8 332.5ZM951.2 331.8L960.2 323.6L942.7 324.0ZM992.7 328.0L985.0 319.4L976.0 327.6ZM1013.7 328.2L1022.1 336.6L1030.5 328.2ZM1058.9 323.5L1044.0 328.6L1060.1 332.6ZM1095.8 323.5L1081.9 329.4L1098.6 332.5ZM1128.2 330.5L1143.3 335.4L1142.6 325.8ZM1172.2 323.5L1157.2 328.5L1173.1 332.6ZM1209.5 323.5L1195.0 328.9L1211.2 332.6ZM111.1 341.6L104.9 350.6L122.1 348.4ZM149.3 348.5L166.6 350.5L160.2 341.5ZM192.8 349.5L208.0 344.7L192.3 340.3ZM221.6 344.8L229.1 353.5L238.3 345.3ZM268.8 340.4L252.1 343.5L266.0 349.4ZM305.0 349.5L321.1 345.7L306.5 340.4ZM342.3 340.4L327.4 345.5L343.4 349.5ZM372.5 345.2L381.2 353.5L389.2 345.0ZM410.2 345.2L418.9 353.5L426.9 345.0ZM451.1 348.5L468.3 350.5L462.0 341.6ZM499.7 348.2L506.0 339.3L488.8 341.3ZM523.3 344.8L530.9 353.5L540.1 345.3ZM577.5 343.6L565.5 336.6L561.3 345.9ZM615.3 343.8L603.8 336.5L598.9 345.7ZM636.9 346.2L648.9 353.2L653.1 343.9ZM678.1 348.7L695.6 349.8L687.6 341.3ZM719.9 349.5L736.1 345.6L721.3 340.4ZM756.9 349.4L773.6 346.4L759.8 340.4ZM797.4 349.4L811.4 343.5L794.7 340.4ZM832.6 349.4L849.1 346.1L835.0 340.4ZM871.0 340.3L855.4 344.8L870.7 349.5ZM917.3 344.7L908.8 336.3L900.5 344.8ZM955.0 345.0L947.5 336.3L938.3 344.5ZM988.6 341.0L971.0 340.3L979.6 348.7ZM1022.6 340.3L1006.4 344.0L1020.9 349.4ZM1067.6 346.6L1066.4 337.1L1052.3 342.9ZM1096.7 340.4L1081.7 345.4L1097.7 349.5ZM1135.6 340.3L1119.5 344.3L1134.3 349.4ZM1181.2 343.9L1170.2 336.4L1164.7 345.5ZM1205.8 341.2L1197.4 349.6L1215.0 348.8ZM111.4 358.3L104.3 367.0L121.7 365.5ZM147.0 359.7L146.9 369.3L161.7 364.2ZM200.6 361.6L192.3 353.2L183.9 361.6ZM221.8 362.8L232.7 370.3L238.3 361.2ZM260.8 364.4L276.2 369.0L274.9 359.5ZM304.7 366.3L321.1 362.8L306.7 357.3ZM336.3 364.5L351.9 369.0L350.3 359.4ZM373.1 360.1L374.3 369.6L388.3 363.8ZM419.8 357.3L403.0 360.2L416.7 366.2ZM456.1 357.2L440.5 361.7L455.8 366.4ZM486.5 359.8L486.4 369.3L501.2 364.1ZM526.7 358.1L518.7 366.7L536.2 365.6ZM576.8 359.6L562.4 354.1L561.8 363.7ZM615.4 362.5L610.2 353.4L599.0 360.8ZM641.1 365.9L658.7 366.0L649.2 357.9ZM691.0 361.8L683.0 353.2L674.2 361.5ZM721.1 366.3L736.1 361.3L720.1 357.2ZM763.0 365.5L771.1 357.0L753.6 357.9ZM791.1 365.6L808.5 366.9L801.0 358.2ZM828.5 365.5L845.8 367.2L839.0 358.4ZM862.8 362.0L871.4 370.4L879.6 361.9ZM917.3 361.5L908.6 353.2L900.5 361.7ZM947.6 357.3L931.0 360.5L945.1 366.3ZM989.9 358.4L973.0 355.8L978.3 365.0ZM1021.7 357.2L1006.3 361.9L1021.8 366.4ZM1051.5 361.0L1056.5 370.2L1067.9 362.9ZM1102.6 365.4L1110.4 356.8L1092.9 358.0ZM1130.5 358.1L1121.9 366.4L1139.5 365.7ZM1172.3 357.3L1157.2 362.1L1173.0 366.4ZM1219.1 361.9L1211.6 353.2L1202.3 361.4ZM110.9 375.4L105.1 384.5L122.2 382.2ZM148.4 375.6L143.2 384.7L160.2 382.1ZM187.0 375.1L179.5 383.8L197.0 382.5ZM225.1 375.0L216.8 383.4L234.3 382.6ZM268.3 374.2L252.0 377.7L266.4 383.2ZM301.5 382.7L319.1 382.9L309.8 374.8ZM337.8 382.2L354.9 384.4L348.9 375.4ZM376.2 382.5L393.6 383.7L386.0 375.1ZM413.1 382.2L430.1 384.5L424.5 375.5ZM450.9 375.2L443.8 384.0L461.1 382.4ZM485.6 378.7L493.4 387.3L502.4 379.0ZM523.3 378.7L531.1 387.3L540.1 379.0ZM574.2 382.5L582.8 374.1L565.2 374.8ZM613.2 381.9L618.6 372.8L601.6 375.3ZM645.2 383.3L660.7 378.7L645.2 374.1ZM682.0 383.3L698.3 379.6L683.8 374.2ZM726.3 381.9L731.8 372.8L714.8 375.3ZM754.3 382.8L771.9 382.8L762.3 374.8ZM787.5 377.8L792.2 387.1L803.8 379.9ZM828.0 382.2L845.1 384.6L839.4 375.5ZM870.9 383.3L887.0 379.4L872.2 374.2ZM917.0 377.6L905.5 370.3L900.7 379.5ZM950.5 374.6L932.9 374.5L942.3 382.6ZM991.5 376.3L976.5 371.3L977.0 380.8ZM1020.5 374.2L1006.5 380.0L1023.0 383.2ZM1054.9 382.4L1072.3 384.0L1065.2 375.2ZM1102.3 382.4L1110.8 374.0L1093.3 374.8ZM1140.1 382.4L1148.5 374.0L1130.9 374.8ZM1179.0 381.8L1184.3 372.7L1167.3 375.3ZM1209.7 374.2L1194.9 379.4L1211.0 383.3ZM110.7 392.5L105.5 401.6L122.4 399.0ZM147.3 393.3L146.0 402.9L161.4 398.2ZM186.4 392.3L180.6 401.4L197.6 399.1ZM224.6 392.1L217.4 400.8L234.8 399.3ZM259.9 393.8L261.0 403.4L275.1 397.7ZM297.4 396.9L309.3 403.9L313.6 394.6ZM335.0 396.6L346.1 404.0L351.4 394.9ZM372.5 395.0L378.1 404.1L389.0 396.6ZM418.3 391.0L402.8 395.6L418.2 400.2ZM461.9 392.2L445.0 389.6L450.2 398.7ZM493.3 400.1L509.7 396.6L495.3 391.1ZM524.2 397.7L538.3 403.4L539.5 393.9ZM564.3 399.2L581.6 401.1L575.0 392.2ZM601.6 399.0L618.6 401.5L613.2 392.4ZM639.6 399.1L656.7 401.3L650.7 392.3ZM682.1 400.2L698.3 396.4L683.7 391.1ZM719.8 391.0L704.5 395.8L720.2 400.2ZM754.0 399.6L771.6 400.0L762.6 391.8ZM790.0 392.3L783.9 401.3L801.0 399.1ZM841.7 396.5L837.1 387.2L825.4 394.4ZM876.1 399.3L884.3 390.8L866.8 391.7ZM917.1 394.7L906.4 387.1L900.6 396.2ZM952.0 399.1L959.2 390.4L941.8 391.9ZM990.0 399.0L996.5 390.1L979.2 392.0ZM1027.3 399.2L1034.9 390.6L1017.4 391.8ZM1052.4 397.8L1066.8 403.3L1067.5 393.7ZM1104.6 393.2L1089.6 388.2L1090.1 397.7ZM1141.3 398.8L1146.6 389.6L1129.7 392.2ZM1177.7 399.3L1186.3 391.0L1168.7 391.7ZM1205.0 399.0L1222.0 401.6L1216.8 392.5ZM112.5 408.6L102.9 416.6L120.5 416.6ZM147.0 410.5L146.9 420.0L161.7 414.8ZM197.2 408.8L179.8 407.2L186.8 416.0ZM230.3 407.9L214.2 411.8L229.0 417.0ZM263.1 408.7L254.2 416.9L271.7 416.5ZM300.4 408.8L292.4 417.4L309.9 416.3ZM343.4 407.9L327.4 411.9L342.2 417.0ZM374.9 409.3L369.2 418.3L386.3 416.0ZM419.8 408.0L403.0 410.9L416.7 416.9ZM463.3 410.0L448.1 405.1L449.0 414.7ZM502.4 412.4L494.2 403.9L485.6 412.3ZM540.0 413.3L535.1 404.1L523.6 411.3ZM569.4 417.1L585.2 412.9L570.2 408.0ZM602.0 416.1L619.3 418.0L612.8 409.1ZM637.4 414.5L651.4 420.3L652.6 410.8ZM675.2 414.7L689.6 420.2L690.2 410.6ZM726.4 415.6L731.6 406.5L714.7 409.1ZM766.2 413.6L762.3 404.2L750.1 411.1ZM803.9 411.3L792.3 404.1L787.5 413.3ZM841.7 413.3L836.7 404.1L825.3 411.4ZM876.2 416.2L884.2 407.6L866.7 408.6ZM909.0 417.1L924.7 412.8L909.5 407.9ZM942.2 416.4L959.7 417.3L951.6 408.8ZM983.7 417.0L1000.1 413.5L985.6 408.0ZM1023.3 417.0L1037.8 411.5L1021.4 408.0ZM1060.9 417.0L1075.5 411.7L1059.3 407.9ZM1102.9 416.0L1110.1 407.3L1092.7 408.8ZM1134.6 417.0L1150.9 413.5L1136.5 408.0ZM1169.2 416.6L1186.8 416.7L1177.3 408.6ZM1205.5 416.1L1222.7 418.1L1216.3 409.1ZM112.7 433.4L130.3 433.9L121.4 425.6ZM147.3 427.1L146.0 436.6L161.4 432.0ZM190.6 424.9L176.6 430.8L193.3 433.9ZM229.0 424.9L214.2 430.1L230.3 434.0ZM266.1 424.9L252.1 430.7L268.6 433.9ZM305.8 424.8L289.7 428.7L304.4 433.9ZM335.7 427.3L335.3 436.9L350.2 431.8ZM380.9 424.8L365.1 429.0L380.2 433.9ZM416.7 425.0L403.0 431.0L419.8 433.9ZM455.7 424.9L440.5 429.7L456.3 434.0ZM486.3 427.6L487.3 437.2L501.5 431.5ZM531.1 433.9L547.4 430.3L532.9 424.9ZM569.0 434.0L585.2 430.2L570.5 424.9ZM601.9 432.9L619.0 435.1L612.9 426.1ZM639.9 433.1L657.2 434.8L650.4 426.0ZM675.4 431.7L690.0 437.0L690.1 427.4ZM714.2 426.3L709.0 435.4L725.9 432.8ZM762.1 425.4L744.5 424.9L753.4 433.2ZM804.1 429.0L795.1 420.8L787.4 429.4ZM837.8 433.3L847.3 425.2L829.7 425.3ZM872.5 433.9L886.9 428.3L870.5 424.9ZM908.4 434.0L924.6 430.3L910.1 424.9ZM941.3 432.9L958.4 435.1L952.4 426.1ZM977.4 431.9L992.6 436.8L991.7 427.2ZM1017.2 425.7L1009.0 434.2L1026.5 433.3ZM1063.6 425.3L1046.0 425.2L1055.4 433.3ZM1102.3 425.7L1085.0 424.2L1092.2 432.9ZM1129.9 432.9L1146.9 435.2L1141.1 426.1ZM1165.6 431.5L1179.9 437.1L1180.6 427.6ZM1205.7 433.1L1223.0 434.8L1216.2 425.9ZM122.4 449.7L128.9 440.8L111.7 442.7ZM147.7 448.9L163.2 453.5L161.7 443.9ZM193.1 441.8L176.6 445.1L190.8 450.8ZM235.0 442.6L217.7 440.9L224.4 449.7ZM275.9 445.3L264.8 437.8L259.4 447.0ZM313.7 445.9L304.5 437.7L297.0 446.4ZM347.7 450.1L356.6 441.9L339.1 442.3ZM389.2 446.4L381.6 437.7L372.5 445.9ZM424.2 442.9L407.2 440.3L412.5 449.5ZM451.2 442.7L443.4 451.3L460.9 450.1ZM485.8 447.2L496.7 454.8L502.3 445.7ZM532.0 450.9L547.5 446.3L532.0 441.7ZM565.1 450.2L582.6 451.1L574.4 442.6ZM602.2 450.0L619.6 451.6L612.6 442.8ZM639.6 449.8L656.7 452.0L650.7 443.0ZM674.2 446.4L682.5 454.9L691.0 446.5ZM712.7 444.4L713.1 453.9L727.6 448.5ZM752.4 442.9L745.9 451.8L763.2 449.9ZM787.4 446.6L796.2 454.9L804.1 446.3ZM826.6 448.9L841.9 453.6L840.7 444.0ZM864.1 448.7L879.1 453.7L878.6 444.2ZM905.0 450.3L922.6 450.6L913.4 442.4ZM941.1 449.7L958.1 452.2L952.6 443.1ZM989.9 449.7L996.6 440.9L979.3 442.7ZM1030.3 447.2L1025.8 437.9L1014.0 445.1ZM1060.1 450.9L1075.6 446.3L1060.1 441.7ZM1098.3 441.8L1081.9 445.1L1096.1 450.8ZM1135.6 441.7L1119.5 445.6L1134.2 450.8ZM1164.6 446.5L1173.0 454.9L1181.3 446.5ZM1206.8 450.3L1224.4 450.6L1215.1 442.4ZM115.2 458.7L101.2 464.5L117.8 467.7ZM153.0 458.7L138.9 464.5L155.4 467.7ZM191.2 458.7L176.5 464.0L192.7 467.8ZM236.1 466.3L241.2 457.1L224.3 459.8ZM273.7 466.4L279.1 457.2L262.1 459.8ZM310.4 466.9L318.4 458.3L300.9 459.3ZM350.4 465.5L351.5 455.9L336.2 460.6ZM388.6 464.9L387.4 455.4L373.3 461.2ZM426.8 463.9L421.6 454.8L410.4 462.2ZM461.9 459.8L445.0 457.2L450.2 466.3ZM493.2 458.7L478.2 463.7L494.2 467.8ZM527.2 459.4L518.1 467.6L535.7 467.2ZM561.1 463.5L570.1 471.8L577.8 463.2ZM606.8 467.8L622.9 463.9L608.1 458.7ZM650.3 466.7L657.3 457.9L639.9 459.5ZM689.9 461.0L675.4 455.6L675.0 465.1ZM719.2 458.7L704.6 464.0L720.8 467.8ZM753.3 459.4L744.7 467.8L762.2 467.2ZM788.4 461.0L787.6 470.6L802.8 465.7ZM826.2 461.0L825.3 470.6L840.5 465.7ZM864.0 460.9L862.7 470.4L878.1 465.8ZM901.4 461.2L901.3 470.7L916.1 465.5ZM945.3 458.7L930.9 464.2L947.3 467.7ZM988.2 459.1L970.6 459.0L980.0 467.1ZM1027.5 459.7L1010.3 457.4L1016.2 466.5ZM1067.3 461.1L1053.1 455.4L1052.1 465.0ZM1104.3 460.6L1088.9 456.0L1090.3 465.6ZM1143.6 462.8L1134.4 454.6L1126.9 463.3ZM1168.1 466.9L1185.5 468.4L1178.3 459.7ZM1215.1 467.1L1224.4 459.0L1206.8 459.1ZM111.2 476.7L104.7 485.6L121.9 483.7ZM147.1 478.0L146.7 487.6L161.6 482.5ZM184.1 481.2L195.5 488.5L200.5 479.3ZM224.8 483.7L242.1 485.6L235.6 476.7ZM262.3 483.6L279.3 485.9L273.6 476.9ZM304.1 484.6L320.9 481.7L307.3 475.7ZM342.7 484.7L358.9 480.8L344.1 475.6ZM380.7 484.7L396.6 480.6L381.6 475.6ZM420.3 484.6L434.1 478.6L417.4 475.6ZM450.8 483.5L467.8 486.0L462.2 476.9ZM488.6 483.6L505.6 485.9L499.9 476.9ZM527.7 484.1L545.3 484.5L536.3 476.3ZM564.8 483.9L582.2 485.2L574.6 476.5ZM602.0 483.7L619.3 485.6L612.8 476.7ZM644.9 484.7L660.7 480.4L645.5 475.6ZM684.5 484.5L698.1 478.5L681.3 475.6ZM715.5 483.8L732.9 485.3L725.6 476.6ZM749.7 480.1L757.6 488.7L766.4 480.4ZM788.1 478.3L788.9 487.9L803.2 482.2ZM825.9 478.2L826.3 487.8L840.8 482.3ZM863.4 478.4L864.7 487.9L878.7 482.1ZM901.5 478.0L901.1 487.6L916.0 482.5ZM940.6 476.9L935.2 486.0L952.2 483.5ZM978.8 476.7L972.1 485.5L989.4 483.7ZM1020.7 475.6L1006.4 481.2L1022.8 484.6ZM1054.4 483.6L1071.4 485.9L1065.7 476.9ZM1105.9 479.8L1097.0 471.5L1089.1 480.1ZM1142.5 482.3L1143.5 472.8L1128.3 477.6ZM1178.1 483.7L1185.8 475.1L1168.3 476.3ZM1216.6 483.3L1222.3 474.3L1205.2 476.6ZM108.5 496.4L114.2 505.5L125.0 497.9ZM147.1 499.1L161.4 504.7L162.2 495.2ZM187.1 500.6L204.4 502.5L197.8 493.6ZM225.8 501.0L243.4 501.5L234.6 493.2ZM263.5 501.0L281.1 501.5L272.4 493.2ZM300.5 500.7L317.8 502.3L310.8 493.5ZM337.5 500.4L354.4 503.0L349.2 493.9ZM376.0 500.7L393.3 502.3L386.2 493.5ZM413.5 500.6L430.8 502.4L424.1 493.6ZM452.4 501.0L470.0 501.3L460.7 493.1ZM490.3 501.1L507.9 501.1L498.3 493.1ZM530.8 501.5L547.3 498.3L533.3 492.5ZM564.6 500.7L581.9 502.3L574.8 493.5ZM613.0 500.3L618.9 491.2L601.8 493.5ZM653.2 497.6L647.7 488.5L636.7 496.0ZM690.9 496.6L681.9 488.4L674.2 497.0ZM714.7 500.4L731.6 503.0L726.4 493.9ZM753.1 493.3L744.9 501.8L762.4 500.9ZM791.2 493.2L782.2 501.4L799.8 501.0ZM826.2 494.7L825.2 504.3L840.4 499.5ZM863.5 495.2L864.4 504.8L878.6 499.1ZM900.8 496.0L904.8 505.3L916.9 498.4ZM938.3 497.0L946.1 505.6L955.0 497.3ZM977.1 499.3L991.7 504.6L991.9 495.0ZM1017.3 500.7L1034.7 502.2L1027.4 493.5ZM1059.7 501.6L1075.6 497.4L1060.5 492.5ZM1102.1 500.8L1111.1 492.6L1093.5 493.0ZM1130.0 500.5L1147.1 502.7L1141.0 493.7ZM1168.6 500.9L1186.1 501.7L1177.8 493.3ZM1206.7 501.0L1224.3 501.4L1215.2 493.2ZM125.2 513.9L117.4 505.3L108.4 513.6ZM162.7 514.8L158.3 505.5L146.5 512.7ZM200.0 515.7L198.8 506.1L184.8 511.8ZM234.3 517.8L243.8 509.7L226.2 509.8ZM262.7 517.6L280.0 519.3L273.2 510.5ZM301.2 517.9L318.8 518.5L310.1 510.1ZM338.9 517.8L356.4 518.6L347.9 510.2ZM375.2 517.3L392.1 519.9L386.9 510.8ZM412.9 517.3L429.8 519.9L424.6 510.8ZM450.7 517.3L467.6 519.9L462.3 510.7ZM490.2 518.0L507.8 518.1L498.3 510.0ZM524.6 516.3L539.5 521.4L539.2 511.8ZM561.5 515.3L573.8 522.2L577.6 512.8ZM599.7 511.8L599.3 521.4L614.3 516.3ZM637.2 512.1L638.2 521.7L652.3 516.0ZM677.4 510.3L669.9 519.0L687.3 517.7ZM715.5 510.2L707.1 518.6L724.6 517.8ZM752.2 510.6L746.2 519.6L763.4 517.4ZM789.7 510.7L784.4 519.9L801.4 517.3ZM829.0 510.1L819.9 518.3L837.5 517.9ZM864.0 511.5L862.5 521.1L878.0 516.6ZM900.7 513.1L905.6 522.3L917.0 515.0ZM938.3 514.2L947.1 522.5L955.0 513.9ZM976.2 514.8L986.9 522.4L992.7 513.3ZM1015.2 516.5L1030.5 521.2L1029.3 511.6ZM1052.3 516.0L1066.4 521.7L1067.5 512.1ZM1092.0 510.5L1085.2 519.3L1102.5 517.6ZM1129.8 510.4L1122.8 519.2L1140.2 517.6ZM1164.7 513.1L1169.7 522.3L1181.1 515.0ZM1202.3 514.0L1210.3 522.5L1219.0 514.2ZM110.8 527.6L105.4 536.7L122.4 534.2ZM149.7 527.1L141.3 535.5L158.8 534.7ZM184.0 530.1L189.2 539.2L200.4 531.8ZM222.0 532.2L234.2 539.1L238.1 529.7ZM260.4 533.0L274.8 538.5L275.3 528.9ZM300.2 534.4L317.3 536.4L311.1 527.5ZM339.3 534.9L356.9 535.0L347.5 526.9ZM376.3 534.6L393.7 535.8L385.9 527.2ZM413.3 534.4L430.5 536.4L424.3 527.5ZM457.3 535.3L472.0 530.1L455.9 526.2ZM489.4 534.6L506.8 535.8L499.1 527.2ZM527.1 534.6L544.6 535.8L536.8 527.2ZM564.1 534.3L581.2 536.5L575.2 527.5ZM607.1 535.4L622.9 531.2L607.9 526.3ZM653.3 530.8L645.5 522.2L636.5 530.4ZM690.0 528.7L675.8 523.0L674.9 532.6ZM725.6 527.3L708.4 525.1L714.6 534.1ZM762.7 527.0L745.2 525.8L752.9 534.4ZM800.3 527.0L782.8 525.9L790.7 534.4ZM838.8 527.3L821.7 525.1L827.6 534.1ZM871.1 526.2L855.4 530.5L870.6 535.4ZM901.4 528.8L901.6 538.4L916.2 533.1ZM938.3 530.9L946.5 539.4L955.0 531.0ZM976.3 532.1L988.1 539.1L992.6 529.9ZM1014.0 531.9L1025.5 539.2L1030.3 530.0ZM1052.6 533.1L1067.2 538.4L1067.3 528.8ZM1090.0 532.8L1103.9 538.7L1105.3 529.1ZM1128.1 533.2L1143.1 538.3L1142.7 528.7ZM1165.7 533.1L1180.5 538.4L1180.5 528.8ZM1205.4 534.3L1222.5 536.5L1216.5 527.5ZM111.8 544.0L103.7 552.5L121.2 551.6ZM149.6 544.0L141.3 552.4L158.9 551.6ZM191.0 552.2L207.8 549.3L194.1 543.3ZM235.7 551.0L241.8 542.0L224.7 544.2ZM273.7 550.9L279.1 541.8L262.1 544.3ZM311.0 551.1L317.6 542.2L300.3 544.1ZM349.2 550.9L354.5 541.7L337.5 544.3ZM385.2 551.6L394.7 543.5L377.1 543.6ZM423.4 551.4L431.8 543.0L414.3 543.8ZM461.6 551.2L468.9 542.5L451.5 544.0ZM492.8 552.2L509.5 549.3L495.9 543.3ZM531.5 552.3L547.5 548.3L532.6 543.2ZM570.3 552.2L585.2 547.1L569.2 543.1ZM606.5 552.2L622.8 548.7L608.5 543.2ZM644.6 552.3L660.6 548.3L645.8 543.2ZM682.0 552.2L698.3 548.7L683.9 543.2ZM721.6 552.2L736.0 546.7L719.7 543.2ZM763.5 551.2L770.5 542.4L753.1 544.0ZM800.2 551.6L809.5 543.4L791.9 543.7ZM838.0 551.5L847.1 543.3L829.5 543.7ZM872.4 552.2L886.9 546.8L870.7 543.1ZM910.1 552.2L924.6 546.8L908.3 543.1ZM946.8 552.3L962.4 547.8L947.1 543.1ZM979.0 551.2L996.0 553.5L990.2 544.4ZM1017.2 551.4L1034.6 553.0L1027.5 544.2ZM1054.3 551.1L1071.3 553.6L1065.8 544.5ZM1092.0 551.1L1109.1 553.6L1103.5 544.5ZM1130.3 551.4L1147.6 553.0L1140.7 544.2ZM1167.4 551.1L1184.4 553.6L1179.0 544.5ZM1205.7 551.4L1223.1 553.0L1216.1 544.2ZM115.0 560.1L101.2 566.1L117.9 569.1ZM158.4 560.5L140.8 560.4L150.1 568.5ZM197.3 561.0L180.0 559.2L186.7 568.0ZM235.2 561.1L218.1 558.9L224.2 567.9ZM272.6 560.9L255.3 559.3L262.2 568.1ZM310.2 560.9L292.8 559.4L300.1 568.1ZM350.0 562.0L334.5 557.4L335.9 566.9ZM388.3 562.5L374.0 556.8L373.1 566.4ZM425.5 562.1L410.3 557.3L411.3 566.9ZM464.6 564.3L455.9 556.0L447.9 564.6ZM499.1 568.2L506.9 559.6L489.4 560.8ZM532.2 569.2L547.5 564.4L531.9 560.0ZM570.2 569.1L585.2 564.1L569.3 560.0ZM601.6 568.0L618.6 570.5L613.2 561.4ZM639.5 568.1L656.5 570.4L650.8 561.4ZM678.2 568.5L695.7 569.4L687.5 560.9ZM715.3 568.3L732.6 570.0L725.8 561.2ZM752.8 568.2L770.0 570.2L763.7 561.3ZM790.6 568.2L807.8 570.2L801.4 561.2ZM829.6 568.7L847.2 568.8L837.9 560.7ZM866.4 568.3L883.8 569.8L876.5 561.1ZM903.3 568.0L920.2 570.6L915.0 561.5ZM942.1 568.4L959.6 569.5L951.7 561.0ZM978.8 568.0L995.8 570.5L990.4 561.4ZM1017.7 568.5L1035.3 569.3L1026.9 560.9ZM1052.8 567.1L1068.0 571.9L1067.1 562.4ZM1090.3 566.9L1105.1 572.1L1105.0 562.6ZM1127.7 566.6L1141.7 572.4L1143.0 562.9ZM1173.3 569.2L1188.8 564.6L1173.3 560.0ZM1215.8 568.2L1223.6 559.6L1206.1 560.8ZM110.9 578.2L105.1 587.3L122.2 585.0ZM148.7 578.2L142.7 587.2L159.8 585.0ZM186.7 578.1L180.0 586.9L197.3 585.2ZM225.0 577.8L216.9 586.4L234.4 585.4ZM262.7 577.8L254.6 586.3L272.1 585.4ZM300.3 577.9L292.5 586.4L309.9 585.3ZM337.3 578.2L331.3 587.2L348.5 585.0ZM376.4 577.6L367.2 585.8L384.8 585.5ZM413.8 577.7L405.2 586.1L422.7 585.5ZM450.5 578.2L444.4 587.2L461.6 585.0ZM486.6 579.3L486.0 588.9L501.1 584.0ZM524.2 579.5L524.3 589.1L539.0 583.8ZM561.2 580.6L565.7 589.9L577.5 582.8ZM598.9 580.6L603.5 589.9L615.2 582.7ZM636.5 581.9L645.5 590.1L653.3 581.5ZM674.7 583.0L687.1 589.7L690.7 580.4ZM713.0 583.7L727.5 589.1L727.9 579.6ZM750.6 583.6L764.9 589.3L765.7 579.7ZM791.4 585.4L808.9 586.2L800.6 577.8ZM828.1 585.0L845.2 587.2L839.3 578.2ZM867.4 585.6L885.0 585.7L875.6 577.6ZM908.1 586.0L924.6 582.7L910.4 577.0ZM948.1 586.0L962.3 580.3L945.8 577.0ZM986.2 585.9L999.9 579.9L983.1 577.0ZM1023.1 586.0L1037.8 580.7L1021.6 576.9ZM1061.1 586.0L1075.5 580.5L1059.1 577.0ZM1102.2 585.3L1110.9 576.9L1093.3 577.5ZM1141.4 584.6L1146.5 575.5L1129.6 578.1ZM1178.3 585.0L1185.6 576.3L1168.2 577.8ZM1216.8 584.6L1222.0 575.5L1205.1 578.1ZM109.5 596.2L108.6 605.8L123.8 600.9ZM147.3 596.0L145.9 605.6L161.4 601.0ZM187.9 594.5L178.4 602.6L196.0 602.5ZM224.5 594.9L217.5 603.7L234.9 602.1ZM262.7 594.7L254.6 603.3L272.1 602.3ZM299.3 595.3L294.2 604.4L311.1 601.8ZM337.2 595.2L331.6 604.3L348.6 601.8ZM374.7 595.3L369.6 604.5L386.5 601.8ZM413.7 594.7L405.4 603.1L422.9 602.3ZM451.8 594.5L442.6 602.7L460.2 602.4ZM495.3 593.9L478.5 596.8L492.1 602.8ZM530.1 593.9L516.1 599.7L532.7 602.9ZM569.4 593.8L553.6 598.1L568.9 603.0ZM605.8 593.9L591.5 599.5L607.9 602.9ZM636.7 597.5L641.2 606.8L653.0 599.6ZM686.6 594.4L669.0 594.0L678.1 602.2ZM725.2 594.7L707.9 593.1L714.9 601.9ZM765.5 596.3L751.3 590.6L750.3 600.2ZM804.0 597.5L793.2 589.9L787.4 599.0ZM841.9 598.2L833.4 589.8L825.1 598.3ZM879.5 599.0L873.9 589.9L863.0 597.5ZM916.2 600.7L917.3 591.1L902.0 595.8ZM954.3 600.2L953.5 590.7L939.2 596.3ZM992.1 600.1L990.9 590.6L976.9 596.4ZM1029.3 600.7L1030.7 591.2L1015.2 595.8ZM1064.8 602.0L1072.8 593.5L1055.3 594.6ZM1103.3 601.7L1109.4 592.7L1092.2 594.9ZM1139.9 602.2L1148.7 593.9L1131.1 594.4ZM1178.9 601.6L1184.4 592.5L1167.4 595.0ZM1215.6 602.1L1223.9 593.7L1206.3 594.5Z"/><path fill="none" stroke="#000" stroke-width="2" d="M124.8 33.3L115.8 41.6M155.1 32.1L154.4 41.7M196.0 49.1L191.8 39.7M238.6 33.5L228.9 41.6M271.1 32.3L267.3 41.7M297.5 48.2L306.3 39.8M349.6 48.5L342.3 39.8M388.4 48.2L379.9 39.8M414.2 49.0L419.1 39.7M443.5 45.8L457.8 40.1M494.6 32.1L493.9 41.7M538.4 48.5L530.9 39.8M553.9 39.3L571.3 40.9M595.3 46.4L608.6 40.0M645.5 32.1L644.8 41.7M669.3 45.4L684.2 40.1M720.5 32.1L720.3 41.7M744.5 36.3L759.7 41.2M782.1 45.0L797.4 40.2M825.8 48.2L834.4 39.8M886.8 39.5L869.3 40.8M905.8 49.1L909.3 39.7M933.4 45.4L948.2 40.1M980.6 49.1L984.8 39.7M1006.4 39.6L1024.0 40.8M1059.3 32.1L1059.9 41.7M1090.0 48.3L1098.4 39.8M1119.5 41.6L1137.1 40.6M1159.9 45.6L1174.5 40.1M1197.4 45.3L1212.3 40.1M101.2 56.2L118.7 57.8M158.8 49.3L154.0 58.6M208.0 57.8L190.3 57.6M229.4 49.0L230.0 58.6M276.2 50.3L266.7 58.5M292.1 62.2L307.0 57.0M330.2 52.6L344.7 58.2M394.6 61.8L379.2 57.1M418.7 66.2L418.5 56.6M440.5 57.3L458.2 57.6M497.6 66.0L493.6 56.6M540.2 64.8L530.7 56.7M570.0 66.2L569.4 56.6M609.9 49.1L606.8 58.6M645.3 49.0L644.8 58.6M674.8 65.1L683.5 56.7M723.5 66.0L719.9 56.6M744.5 53.2L759.7 58.1M780.2 59.1L797.6 57.4M845.1 63.4L832.1 56.9M886.9 56.6L869.3 57.7M893.4 59.2L910.8 57.4M942.5 49.3L947.1 58.6M1000.1 56.6L982.5 57.7M1008.7 53.1L1023.7 58.1M1051.7 50.2L1060.8 58.5M1081.8 56.7L1099.4 57.7M1131.8 66.0L1135.7 56.6M1160.0 62.5L1174.5 57.0M1226.2 59.1L1208.8 57.4M123.2 66.6L116.0 75.4M155.3 65.9L154.4 75.5M185.5 82.3L193.0 73.6M222.9 66.8L230.8 75.4M276.1 67.2L266.7 75.4M296.9 81.7L306.4 73.6M340.0 66.1L343.5 75.5M374.0 82.3L381.7 73.6M405.1 79.0L420.2 74.0M443.9 79.9L457.8 73.9M496.8 83.0L493.7 73.5M543.6 80.2L530.3 73.8M577.7 67.2L568.5 75.4M623.0 74.5L605.3 74.5M632.1 69.5L646.4 75.1M698.3 75.3L680.7 74.4M729.1 67.4L719.3 75.4M742.2 74.2L759.9 74.5M780.0 74.1L797.7 74.6M849.3 74.3L831.6 74.5M882.5 80.5L869.8 73.8M922.1 69.7L907.3 75.1M954.8 67.1L945.7 75.4M984.0 65.9L984.4 75.5M1030.8 81.7L1021.0 73.6M1056.2 82.9L1060.2 73.5M1088.9 67.3L1098.6 75.4M1124.0 80.6L1136.6 73.8M1188.5 73.0L1171.1 74.7M1214.4 66.1L1210.2 75.5M132.6 90.9L114.9 91.5M158.2 83.0L154.1 92.4M184.8 99.0L193.1 90.5M218.6 85.4L231.3 92.1M276.3 84.2L266.6 92.3M312.2 99.1L304.6 90.5M347.0 99.7L342.7 90.4M396.6 91.6L378.9 91.4M402.8 90.8L420.5 91.5M472.1 91.1L454.4 91.4M507.8 95.6L492.3 90.9M539.7 98.8L530.8 90.5M561.9 99.0L570.3 90.5M615.0 98.9L606.2 90.5M637.8 99.1L645.7 90.5M671.3 85.4L684.0 92.1M719.6 82.8L720.4 92.4M749.8 84.1L759.0 92.3M780.1 92.6L797.6 91.3M841.8 98.7L832.5 90.5M855.5 90.5L873.1 91.5M917.2 84.1L907.9 92.3M962.3 92.4L944.8 91.3M977.5 83.6L985.2 92.3M1037.9 91.0L1020.2 91.4M1068.4 98.6L1058.8 90.5M1111.0 95.9L1095.9 90.9M1135.3 82.8L1135.2 92.4M1185.9 96.3L1171.4 90.8M1214.8 99.7L1210.2 90.4M132.6 108.5L114.9 108.3M151.4 99.9L154.9 109.3M185.4 116.1L193.1 107.4M216.9 103.5L231.5 108.9M268.1 99.7L267.6 109.3M298.0 115.9L306.3 107.4M350.7 115.8L342.2 107.4M396.5 107.1L379.0 108.4M414.6 100.0L419.0 109.3M469.4 103.5L454.7 108.9M501.3 115.9L493.1 107.4M523.9 115.8L532.7 107.4M560.9 115.5L570.5 107.4M603.9 116.7L607.5 107.3M644.1 116.9L645.0 107.3M678.3 116.6L683.1 107.3M713.5 100.6L721.1 109.2M751.3 100.5L758.8 109.2M783.6 102.8L797.2 109.0M836.1 116.8L833.2 107.3M859.8 102.4L872.6 109.0M924.7 107.8L907.0 108.4M953.2 100.5L945.9 109.2M972.6 114.0L985.8 107.6M1037.8 107.5L1020.2 108.4M1072.3 113.6L1058.3 107.7M1113.2 109.4L1095.6 108.2M1142.1 100.6L1134.4 109.2M1157.2 107.7L1174.9 108.4M1211.2 116.9L1210.6 107.3M103.0 121.0L118.5 125.7M143.0 119.3L155.9 125.9M204.6 130.6L190.8 124.6M216.7 120.5L231.6 125.8M264.9 116.7L268.0 126.2M289.6 125.2L307.3 125.2M358.7 126.7L341.3 125.0M396.6 124.6L378.9 125.3M418.1 116.6L418.6 126.2M468.7 119.9L454.8 125.8M485.2 132.3L495.1 124.3M531.1 133.8L531.8 124.2M578.0 118.0L568.4 126.1M619.4 130.7L605.7 124.5M640.5 133.5L645.4 124.2M683.3 133.8L682.5 124.2M723.6 116.8L719.9 126.2M755.2 116.7L758.4 126.2M796.2 116.6L795.7 126.2M849.3 125.7L831.6 125.1M855.7 126.7L873.1 125.0M905.2 133.6L909.4 124.2M962.4 125.5L944.7 125.2M988.7 133.5L983.8 124.2M1030.2 132.6L1021.1 124.3M1075.5 126.3L1057.9 125.1M1111.1 120.8L1095.9 125.7M1123.6 119.4L1136.6 125.9M1157.3 126.5L1174.8 125.0M1211.2 133.8L1210.6 124.2M103.2 137.7L118.4 142.6M142.5 136.5L156.0 142.8M191.9 133.5L192.3 143.1M214.2 142.4L231.9 142.1M271.0 133.7L267.3 143.1M292.9 136.8L306.9 142.7M358.8 141.0L341.2 142.2M396.4 140.6L379.0 142.3M418.6 133.5L418.6 143.1M440.5 142.6L458.2 142.0M506.2 147.6L492.5 141.4M538.4 149.9L530.9 141.2M576.2 134.3L568.6 143.0M621.0 146.2L605.5 141.6M644.8 150.7L644.9 141.1M695.2 136.9L681.1 142.7M717.6 133.6L720.6 143.1M751.4 134.3L758.8 143.0M803.7 134.7L794.8 143.0M837.4 133.8L833.0 143.1M859.6 136.3L872.6 142.8M897.3 147.9L910.3 141.4M935.4 148.1L948.0 141.4M1000.1 141.6L982.5 142.2M1021.8 150.7L1022.1 141.1M1056.4 150.5L1060.2 141.1M1111.1 137.7L1095.9 142.6M1124.0 136.0L1136.6 142.8M1157.4 143.6L1174.8 141.9M1213.9 133.7L1210.3 143.1M103.1 163.3L118.4 158.5M150.6 150.7L155.0 160.0M192.0 150.4L192.3 160.0M214.4 160.6L231.8 158.8M279.4 153.2L266.3 159.7M289.7 158.3L307.3 159.1M330.9 153.6L344.6 159.7M380.5 150.4L380.9 160.0M429.8 165.0L417.2 158.3M443.8 153.7L457.8 159.6M507.4 163.5L492.4 158.5M527.6 167.3L532.2 158.0M583.3 154.8L567.8 159.5M620.9 163.2L605.5 158.5M644.9 167.6L644.9 158.0M669.1 163.5L684.2 158.5M707.6 153.9L721.8 159.6M742.5 157.5L759.9 159.2M808.4 164.2L794.2 158.4M819.7 154.8L835.1 159.5M887.0 158.9L869.3 159.0M902.4 166.8L909.7 158.1M938.9 166.5L947.6 158.1M997.9 163.4L982.7 158.5M1030.4 166.3L1021.1 158.1M1051.5 166.3L1060.8 158.1M1081.8 158.2L1099.4 159.1M1151.0 159.7L1133.3 158.9M1159.7 163.7L1174.6 158.4M1207.4 167.4L1211.1 158.0M123.8 183.6L116.0 175.0M158.2 167.5L154.1 176.9M180.7 170.0L193.6 176.6M218.5 181.8L231.3 175.2M280.6 171.0L266.1 176.5M292.7 181.0L306.9 175.3M350.9 183.4L342.2 175.0M367.2 171.6L382.5 176.4M418.7 167.3L418.5 176.9M442.6 171.6L457.9 176.4M486.6 183.5L494.9 175.0M524.0 183.4L532.6 175.0M558.2 169.9L570.8 176.6M594.1 180.8L608.7 175.3M632.6 181.3L646.3 175.2M670.1 181.1L684.1 175.3M713.8 168.1L721.1 176.8M758.9 184.5L757.9 174.9M784.0 181.6L797.2 175.2M822.2 181.9L834.8 175.2M886.8 177.3L869.3 175.7M909.4 184.5L908.9 174.9M958.5 181.6L945.2 175.2M996.0 181.7L983.0 175.2M1033.5 181.8L1020.7 175.2M1066.5 168.1L1059.0 176.8M1084.0 171.5L1099.1 176.4M1139.1 184.2L1134.8 174.9M1172.6 184.5L1173.0 174.9M1210.2 184.5L1210.7 174.9M129.4 198.0L115.3 192.2M151.0 184.4L154.9 193.8M179.6 187.6L193.8 193.4M241.2 198.8L228.6 192.1M271.0 201.2L267.3 191.8M312.2 200.6L304.6 191.9M334.3 199.9L344.2 191.9M380.3 184.2L380.9 193.8M430.2 198.6L417.2 192.1M443.6 198.0L457.8 192.2M509.6 194.1L492.1 192.6M516.0 192.0L533.6 192.9M555.7 197.0L571.1 192.3M614.0 185.1L606.3 193.7M632.9 187.2L646.3 193.5M667.0 191.6L684.5 192.9M723.9 184.4L719.9 193.8M773.6 191.5L756.2 193.0M796.3 201.4L795.7 191.8M845.4 198.5L832.1 192.1M883.2 198.4L869.8 192.1M908.8 201.4L908.9 191.8M962.3 193.9L944.8 192.7M997.1 187.7L982.8 193.4M1034.0 198.4L1020.6 192.1M1044.2 194.3L1061.7 192.6M1088.8 185.6L1098.6 193.7M1127.8 200.4L1136.1 191.9M1169.0 201.1L1173.4 191.8M1219.4 200.0L1209.6 191.9M124.9 217.1L115.8 208.8M138.7 209.9L156.4 209.7M176.5 209.1L194.1 209.8M242.5 204.5L228.5 210.3M283.5 209.5L265.8 209.7M318.7 214.3L303.8 209.1M358.7 211.0L341.2 209.5M396.6 209.5L378.9 209.7M402.8 208.9L420.4 209.8M440.5 209.0L458.2 209.8M505.6 215.5L492.6 209.0M518.0 205.4L533.4 210.2M582.2 214.8L567.9 209.1M599.1 202.3L608.1 210.6M649.2 201.4L644.4 210.7M671.3 203.7L684.0 210.4M720.0 201.1L720.4 210.7M773.8 209.9L756.1 209.7M802.3 217.5L795.0 208.8M836.1 201.2L833.2 210.7M870.9 218.3L871.2 208.7M896.0 214.6L910.5 209.1M947.5 201.1L946.5 210.7M972.1 204.3L985.8 210.4M1006.3 209.6L1024.0 209.7M1047.2 214.9L1061.3 209.1M1098.1 201.1L1097.5 210.7M1131.8 218.1L1135.7 208.7M1168.5 217.9L1173.5 208.7M1210.3 218.3L1210.7 208.7M125.0 233.9L115.8 225.7M167.1 221.4L153.0 227.2M188.9 235.0L192.6 225.6M232.9 218.2L229.6 227.6M254.0 222.3L269.3 227.1M317.8 231.9L303.9 226.0M355.4 221.2L341.6 227.3M380.8 218.0L380.8 227.6M415.1 218.2L419.0 227.6M468.3 221.0L454.8 227.3M506.2 221.1L492.5 227.3M527.6 218.3L532.2 227.6M585.0 228.0L567.6 226.4M591.5 227.8L609.0 226.5M642.2 218.1L645.2 227.6M669.1 222.2L684.2 227.1M720.4 218.0L720.3 227.6M771.0 221.7L756.5 227.2M803.4 234.1L794.8 225.7M819.8 222.3L835.1 227.1M870.5 235.2L871.3 225.6M921.8 221.6L907.4 227.2M935.3 220.6L948.0 227.3M975.6 233.8L985.4 225.7M1014.0 234.0L1023.0 225.7M1055.8 234.9L1060.3 225.6M1084.7 221.6L1099.1 227.2M1135.3 235.2L1135.2 225.6M1157.2 227.4L1174.8 226.5M1194.9 227.1L1212.6 226.5M129.2 248.8L115.3 242.9M162.0 235.9L153.6 244.4M195.8 235.1L191.8 244.5M221.3 236.3L231.0 244.4M255.7 249.1L269.1 242.8M316.9 237.6L304.0 244.2M351.8 250.7L342.1 242.6M396.6 244.3L379.0 243.4M434.4 243.3L416.7 243.5M467.6 237.5L454.9 244.2M502.1 236.1L493.0 244.4M547.4 244.7L529.8 243.4M581.9 238.2L567.9 244.1M591.4 242.6L609.0 243.6M638.3 235.7L645.7 244.4M698.3 244.6L680.7 243.4M729.0 236.3L719.3 244.4M771.4 238.9L756.4 244.0M802.9 251.2L794.9 242.6M849.2 244.1L831.6 243.4M871.6 252.1L871.2 242.5M924.6 242.3L907.0 243.6M930.9 243.1L948.5 243.5M968.6 242.9L986.3 243.6M1008.2 239.4L1023.7 244.0M1051.4 250.8L1060.8 242.6M1089.4 236.1L1098.5 244.4M1128.0 251.2L1136.1 242.6M1157.4 242.0L1174.8 243.7M1195.0 244.6L1212.6 243.4M132.5 259.3L114.9 260.5M168.1 256.0L152.9 260.9M189.5 251.9L192.6 261.4M217.5 255.1L231.4 261.0M274.2 268.2L266.9 259.5M298.5 252.7L306.2 261.3M331.7 254.4L344.5 261.1M392.9 254.9L379.4 261.1M434.3 259.5L416.7 260.5M442.7 256.0L457.9 260.9M490.0 252.1L494.5 261.4M531.3 269.0L531.8 259.4M569.4 251.8L569.4 261.4M593.7 264.9L608.8 259.9M632.7 254.9L646.3 261.1M671.4 254.4L683.9 261.1M727.3 268.1L719.5 259.5M762.5 252.1L757.5 261.4M803.9 267.8L794.8 259.5M845.9 255.1L832.0 261.0M868.5 268.9L871.5 259.4M916.2 252.8L908.1 261.3M943.6 268.8L947.0 259.4M971.0 255.8L986.0 260.9M1035.6 256.0L1020.5 260.9M1044.0 260.5L1061.7 260.4M1094.0 252.0L1097.9 261.4M1128.5 268.2L1136.1 259.5M1157.3 261.4L1174.8 260.3M1197.2 255.9L1212.3 260.9M110.1 269.5L117.6 278.2M138.8 278.0L156.4 277.2M176.5 277.8L194.1 277.2M238.4 270.0L228.9 278.2M283.3 276.0L265.8 277.5M296.7 270.1L306.4 278.2M356.4 272.7L341.5 277.9M389.5 284.5L379.8 276.4M406.3 271.9L420.0 277.9M443.7 272.1L457.8 277.9M478.3 276.3L495.9 277.4M519.1 282.5L533.2 276.7M565.1 269.0L570.0 278.3M595.7 271.4L608.5 278.0M647.7 268.8L644.5 278.3M670.2 272.0L684.1 277.9M720.3 285.9L720.3 276.3M757.4 268.7L758.1 278.3M803.1 284.9L794.9 276.4M846.0 272.1L832.0 277.9M855.4 277.6L873.1 277.3M904.7 269.0L909.4 278.3M934.6 282.8L948.1 276.6M1000.1 276.7L982.5 277.4M1035.4 272.7L1020.5 277.9M1075.3 278.8L1057.9 277.1M1094.8 268.8L1097.9 278.3M1127.3 284.7L1136.2 276.4M1161.5 271.4L1174.3 278.0M1197.2 272.8L1212.3 277.8M108.0 287.1L117.9 295.1M138.8 295.3L156.4 294.1M176.6 293.1L194.1 294.3M242.7 289.1L228.4 294.8M280.2 289.0L266.2 294.8M313.4 286.8L304.4 295.1M331.4 288.4L344.5 294.9M373.7 286.5L381.7 295.1M422.5 302.5L418.1 293.2M440.7 292.6L458.1 294.4M494.3 302.8L494.0 293.2M523.0 287.0L532.8 295.1M576.6 301.9L568.6 293.3M622.8 293.1L605.3 294.3M656.9 288.6L643.4 294.9M670.4 299.7L684.1 293.5M720.1 302.8L720.3 293.2M761.8 285.8L757.6 295.2M802.3 302.0L795.0 293.3M821.9 288.3L834.9 294.9M858.5 289.1L872.7 294.8M912.1 285.8L908.5 295.2M934.4 299.6L948.1 293.5M972.3 299.7L985.8 293.5M1009.5 299.4L1023.6 293.6M1075.3 295.8L1057.9 294.0M1100.4 285.7L1097.2 295.2M1123.4 299.9L1136.7 293.5M1157.2 294.2L1174.9 294.2M1194.9 294.3L1212.6 294.2M108.9 303.7L117.8 312.0M140.8 315.4L156.2 310.6M176.5 311.9L194.1 311.0M243.2 306.4L228.4 311.7M261.1 303.3L268.5 312.0M309.3 302.8L304.9 312.1M340.1 319.5L343.5 310.1M369.1 305.4L382.3 311.8M405.3 306.4L420.1 311.7M455.4 302.5L456.4 312.1M493.7 319.7L494.0 310.1M539.4 303.6L530.8 312.0M581.4 316.7L568.0 310.4M600.7 303.3L607.9 312.0M653.4 303.9L643.9 312.0M671.0 316.9L684.0 310.4M732.3 316.7L718.9 310.4M746.7 317.1L759.4 310.4M798.7 319.5L795.4 310.1M821.6 305.5L834.9 311.8M855.7 309.6L873.1 311.3M920.9 305.5L907.5 311.8M935.2 317.0L948.0 310.4M971.7 316.3L985.9 310.5M1018.4 302.7L1022.5 312.1M1075.3 312.7L1057.9 310.9M1110.4 306.1L1096.0 311.7M1119.6 312.5L1137.1 310.9M1161.3 316.9L1174.4 310.4M1224.2 315.6L1209.1 310.6M129.4 322.8L115.3 328.6M141.6 333.0L156.1 327.4M179.6 333.2L193.8 327.4M242.0 322.4L228.5 328.7M270.6 319.6L267.3 329.0M321.2 327.6L303.5 328.0M351.0 335.4L342.2 327.1M378.2 319.5L381.2 329.0M411.8 320.2L419.4 328.9M444.4 322.3L457.7 328.7M481.5 333.2L495.5 327.4M532.3 319.4L531.7 329.0M576.7 335.6L568.6 327.1M591.6 329.5L609.0 327.8M647.6 319.5L644.6 329.0M696.0 332.6L681.0 327.5M720.6 336.6L720.3 327.0M758.8 336.6L758.0 327.0M784.4 334.0L797.1 327.3M821.0 333.3L835.0 327.4M859.9 334.0L872.6 327.3M924.6 328.8L907.0 327.9M933.0 332.4L948.3 327.5M983.7 336.6L984.4 327.0M1022.0 319.4L1022.1 329.0M1075.6 327.4L1057.9 328.1M1113.1 326.6L1095.7 328.2M1127.1 320.6L1136.2 328.9M1188.7 327.5L1171.1 328.1M1226.4 327.1L1208.8 328.1M128.7 339.2L115.4 345.6M142.5 339.3L156.0 345.6M176.4 345.1L194.1 344.9M230.8 336.3L229.9 345.9M283.3 346.3L265.8 344.7M289.7 344.1L307.3 345.0M358.9 344.3L341.2 345.0M380.5 336.3L380.9 345.9M418.2 336.3L418.6 345.9M444.3 339.3L457.7 345.6M482.0 350.5L495.4 344.2M532.5 336.3L531.6 345.9M573.4 353.2L569.0 343.9M610.5 353.3L606.8 343.9M640.9 336.6L645.4 345.9M669.6 340.0L684.2 345.5M704.6 344.2L722.2 345.0M742.5 343.4L759.9 345.1M780.2 346.3L797.6 344.7M817.8 343.7L835.4 345.0M887.0 345.0L869.3 344.9M909.0 353.5L908.9 343.9M945.8 353.5L946.7 343.9M997.7 349.5L982.8 344.3M1037.8 345.8L1020.2 344.8M1053.2 352.7L1060.6 344.0M1113.3 344.4L1095.6 345.0M1151.0 345.5L1133.3 344.8M1175.7 353.4L1172.6 343.9M1223.9 340.2L1209.1 345.5M129.3 356.6L115.3 362.4M162.2 354.3L153.6 362.7M192.2 370.4L192.2 360.8M227.2 353.3L230.3 362.8M259.1 354.6L268.7 362.7M289.7 360.8L307.3 361.9M334.4 354.6L344.2 362.7M387.4 354.0L380.1 362.7M434.1 363.4L416.7 361.6M472.1 361.9L454.4 361.8M501.6 354.3L493.1 362.7M544.7 356.9L530.2 362.4M576.5 369.5L568.6 360.9M604.1 370.2L607.5 360.8M631.1 357.6L646.5 362.3M682.2 370.4L682.7 360.8M704.5 362.3L722.2 361.7M744.9 366.6L759.6 361.2M783.0 356.7L797.3 362.4M821.2 356.4L835.0 362.4M871.0 353.2L871.2 362.8M909.3 370.4L908.9 360.8M962.3 363.1L944.8 361.6M995.7 367.8L983.0 361.1M1037.9 361.7L1020.2 361.8M1063.1 353.4L1059.4 362.8M1084.6 366.8L1099.1 361.2M1148.6 357.2L1133.6 362.4M1188.7 361.5L1171.1 361.8M1209.8 370.4L1210.8 360.8M128.5 372.9L115.4 379.4M165.8 372.7L153.2 379.4M205.0 373.6L190.7 379.3M243.2 374.0L228.4 379.3M283.4 379.7L265.8 378.6M291.7 374.5L307.0 379.2M331.3 373.0L344.5 379.4M368.0 373.7L382.4 379.3M407.0 372.9L419.9 379.4M468.8 373.4L454.8 379.3M494.6 370.1L493.9 379.7M532.3 370.1L531.6 379.7M556.1 383.3L571.0 378.1M595.7 384.6L608.5 378.0M629.1 378.7L646.8 378.7M666.9 377.8L684.5 378.8M708.9 384.6L721.7 378.0M744.2 374.6L759.7 379.2M799.3 370.3L795.3 379.7M821.9 372.8L834.9 379.4M855.4 378.0L873.1 378.8M912.3 387.1L908.5 377.7M960.4 382.9L945.0 378.2M992.3 386.1L983.4 377.8M1037.7 377.4L1020.2 378.9M1047.3 373.4L1061.3 379.3M1084.2 383.4L1099.1 378.1M1122.0 383.4L1136.8 378.1M1161.7 384.7L1174.3 378.0M1226.4 378.0L1208.8 378.8M128.1 389.6L115.4 396.3M163.0 388.3L153.5 396.5M203.9 389.8L190.8 396.3M242.5 390.4L228.5 396.2M274.3 387.8L266.9 396.5M301.5 387.3L305.9 396.6M340.2 387.2L343.5 396.6M383.5 387.1L380.5 396.6M434.4 395.6L416.7 395.6M467.5 401.6L454.9 394.9M478.3 394.6L495.9 395.7M525.1 387.8L532.5 396.5M557.3 390.1L570.9 396.3M595.7 389.7L608.5 396.3M633.0 389.9L646.3 396.3M666.9 394.8L684.5 395.7M736.1 395.4L718.4 395.6M744.4 391.2L759.7 396.1M807.6 389.9L794.3 396.3M829.8 404.0L833.9 394.6M858.1 400.4L872.8 395.0M911.5 404.1L908.6 394.6M934.1 400.8L948.1 395.0M972.3 401.1L985.8 394.9M1009.3 400.6L1023.6 395.0M1052.8 387.9L1060.6 396.5M1105.5 403.0L1096.6 394.7M1123.8 401.6L1136.6 394.9M1159.7 400.2L1174.6 395.0M1199.4 389.6L1212.0 396.3M130.7 408.4L115.1 413.0M162.1 405.0L153.6 413.4M204.7 417.8L190.7 411.9M245.7 413.2L228.1 412.4M281.2 408.1L266.1 413.0M318.4 407.6L303.8 413.1M358.9 413.1L341.2 412.4M392.5 406.7L379.4 413.2M434.1 414.1L416.7 412.3M464.5 419.9L455.3 411.6M493.8 421.1L494.0 411.5M528.3 420.9L532.1 411.5M553.7 412.1L571.3 412.5M595.0 407.0L608.6 413.2M638.4 404.7L645.7 413.4M675.6 404.8L683.4 413.4M709.0 418.5L721.7 411.8M753.8 420.8L758.5 411.5M799.2 420.9L795.3 411.5M830.3 420.9L833.9 411.5M858.2 417.4L872.8 411.9M893.1 412.2L910.8 412.5M933.6 407.7L948.2 413.1M968.7 411.5L986.2 412.6M1006.4 413.5L1024.0 412.4M1044.1 413.3L1061.7 412.4M1085.0 417.7L1099.0 411.9M1119.5 411.5L1137.1 412.6M1159.2 408.3L1174.6 413.0M1198.6 406.9L1212.1 413.2M103.3 424.9L118.4 429.9M163.0 422.2L153.5 430.3M207.8 428.0L190.4 429.6M245.7 428.7L228.1 429.5M283.3 428.1L265.8 429.6M321.1 430.1L303.5 429.3M351.0 421.9L342.2 430.3M396.6 429.8L378.9 429.4M434.1 427.8L416.7 429.6M472.1 429.1L454.4 429.4M500.7 421.6L493.2 430.3M516.0 428.5L533.6 429.5M553.7 428.6L571.3 429.5M595.3 423.7L608.6 430.1M632.6 424.0L646.4 430.0M675.2 421.8L683.5 430.3M731.6 423.4L719.0 430.1M771.5 433.9L756.4 428.9M796.4 438.0L795.7 428.4M819.7 433.6L835.1 428.9M855.5 430.5L873.1 429.3M893.2 428.5L910.8 429.5M934.8 423.7L948.1 430.1M976.2 422.0L985.3 430.3M1035.2 424.6L1020.5 430.0M1073.6 433.6L1058.1 428.9M1110.1 434.6L1096.0 428.8M1123.5 423.6L1136.6 430.1M1166.1 421.7L1173.8 430.3M1198.3 424.0L1212.2 430.0M104.7 451.8L118.3 445.6M145.8 439.1L155.6 447.2M207.9 447.5L190.4 446.2M242.2 451.7L228.5 445.7M270.6 454.8L267.3 445.3M306.3 454.9L305.3 445.3M329.6 450.7L344.7 445.8M380.0 454.9L380.9 445.3M429.9 452.3L417.2 445.6M469.1 441.3L454.7 446.9M491.3 437.8L494.3 447.3M515.9 446.3L533.6 446.3M556.3 441.5L571.0 446.9M594.7 441.0L608.7 446.9M633.0 440.6L646.3 447.0M682.7 437.7L682.6 447.3M727.6 438.7L719.4 447.2M770.1 440.8L756.6 447.0M795.3 437.7L795.8 447.3M825.1 439.0L834.5 447.2M863.3 438.9L872.1 447.2M895.3 442.0L910.6 446.8M935.2 440.4L948.0 447.0M972.1 451.7L985.8 445.6M1018.4 454.7L1022.5 445.3M1044.0 446.3L1061.7 446.3M1113.2 447.5L1095.6 446.2M1151.0 447.0L1133.4 446.2M1172.9 437.7L1173.0 447.3M1197.0 442.0L1212.3 446.8M132.4 461.9L114.9 463.4M170.1 461.9L152.6 463.4M208.0 462.4L190.4 463.3M218.8 469.3L231.3 462.5M256.3 469.2L269.0 462.5M292.4 468.1L307.0 462.6M334.8 470.5L344.1 462.3M374.3 471.0L381.6 462.3M415.6 471.6L418.9 462.2M467.6 469.2L454.9 462.5M509.8 462.7L492.1 463.3M545.3 458.8L530.1 463.7M568.8 454.6L569.5 464.2M591.4 462.5L609.1 463.3M632.5 468.5L646.4 462.6M689.8 470.8L681.7 462.3M736.1 462.4L718.4 463.3M771.4 458.6L756.4 463.7M803.9 455.8L794.8 464.1M841.7 455.8L832.5 464.1M879.7 456.0L870.2 464.1M916.5 455.7L908.0 464.1M962.3 462.2L944.8 463.3M998.2 467.4L982.7 462.7M1033.8 469.0L1020.7 462.5M1066.5 471.0L1059.0 462.3M1106.2 470.4L1096.5 462.3M1136.1 471.8L1135.1 462.2M1160.4 458.0L1174.5 463.8M1196.9 467.4L1212.3 462.7M128.9 474.6L115.3 480.8M162.4 472.6L153.6 481.0M189.0 471.7L192.6 481.1M217.9 474.6L231.4 480.8M256.0 474.3L269.1 480.8M289.9 478.5L307.3 480.3M327.4 479.4L345.0 480.2M365.1 479.6L382.7 480.2M403.0 481.6L420.4 479.9M444.7 474.2L457.7 480.8M482.4 474.3L495.4 480.8M518.1 475.7L533.4 480.6M556.7 475.0L571.0 480.7M595.1 474.6L608.6 480.8M629.1 479.8L646.8 480.1M667.1 481.7L684.5 479.9M707.7 474.9L721.8 480.7M758.5 471.5L758.0 481.1M802.6 472.3L794.9 481.0M840.7 472.4L832.6 481.0M877.7 472.3L870.4 481.0M916.7 472.6L908.0 481.0M958.1 474.2L945.3 480.8M996.6 474.7L982.9 480.8M1037.8 479.0L1020.2 480.2M1048.2 474.3L1061.2 480.8M1098.0 488.7L1097.5 479.1M1127.0 487.4L1136.2 479.2M1160.1 485.1L1174.5 479.5M1199.1 485.9L1212.1 479.4M119.4 488.5L116.5 498.0M147.7 489.3L155.3 497.9M180.1 491.5L193.7 497.7M216.5 492.5L231.6 497.5M254.2 492.5L269.3 497.5M293.0 491.7L306.9 497.6M331.8 491.0L344.5 497.7M368.3 491.7L382.3 497.6M406.3 491.6L420.0 497.7M442.6 492.7L457.9 497.5M480.1 492.9L495.7 497.5M516.1 495.7L533.6 497.2M556.9 491.7L570.9 497.6M595.5 502.8L608.6 496.3M642.1 505.5L645.2 496.0M683.3 505.6L682.5 496.0M709.0 491.0L721.7 497.7M771.2 492.2L756.5 497.6M809.3 492.6L794.1 497.5M841.8 489.7L832.5 497.9M878.0 489.2L870.4 497.9M913.0 488.7L908.4 498.0M947.1 488.4L946.6 498.0M977.0 489.4L985.2 497.9M1009.5 491.8L1023.6 497.6M1044.0 496.6L1061.7 497.0M1083.9 501.4L1099.1 496.5M1123.4 491.3L1136.7 497.7M1159.8 492.3L1174.5 497.6M1197.1 492.6L1212.3 497.5M116.2 522.5L116.9 512.9M150.8 522.3L155.0 512.9M185.6 521.7L193.0 513.0M216.2 518.1L231.6 513.4M255.4 508.5L269.2 514.5M292.0 509.3L307.0 514.4M329.8 509.2L344.7 514.5M369.5 507.9L382.2 514.6M407.3 507.9L419.9 514.6M444.9 507.9L457.6 514.6M480.2 509.7L495.7 514.4M524.0 506.4L532.7 514.8M565.1 505.6L570.0 514.9M615.0 506.4L606.2 514.8M651.6 506.1L644.1 514.8M695.3 508.8L681.1 514.5M733.5 509.2L718.7 514.5M769.8 508.2L756.6 514.6M807.1 507.9L794.4 514.6M847.1 509.5L831.8 514.4M879.9 506.7L870.2 514.8M912.3 505.5L908.5 514.9M946.2 505.3L946.7 514.9M981.8 505.4L984.7 514.9M1013.7 506.6L1023.1 514.8M1053.2 506.1L1060.6 514.8M1109.8 508.5L1096.0 514.5M1147.7 508.6L1133.7 514.5M1176.2 505.5L1172.6 514.9M1211.0 505.3L1210.6 514.9M128.2 524.9L115.4 531.5M167.7 526.1L152.9 531.4M195.2 522.4L191.9 531.8M225.7 522.5L230.5 531.8M260.5 523.1L268.5 531.7M293.5 525.2L306.8 531.5M329.3 526.6L344.8 531.3M367.9 525.8L382.4 531.4M406.6 525.2L420.0 531.5M440.5 531.5L458.2 530.7M481.2 525.8L495.5 531.4M518.8 525.8L533.3 531.4M557.6 525.1L570.9 531.5M591.4 530.4L609.1 530.9M644.2 539.4L645.0 529.8M689.4 538.6L681.8 529.9M732.2 536.5L718.9 530.1M770.9 535.8L756.5 530.2M808.7 535.7L794.2 530.2M845.2 536.5L832.1 530.1M887.0 531.1L869.3 530.8M916.3 523.2L908.0 531.7M946.8 522.2L946.6 531.8M980.6 522.5L984.8 531.8M1018.7 522.4L1022.5 531.8M1052.4 523.2L1060.7 531.7M1091.1 522.9L1098.3 531.7M1127.4 523.3L1136.2 531.7M1165.4 523.2L1173.9 531.7M1198.8 525.1L1212.1 531.5M129.9 542.9L115.2 548.3M167.7 543.0L152.9 548.3M176.7 546.1L194.1 547.9M218.1 553.4L231.4 547.0M256.3 553.6L269.1 547.0M293.2 553.2L306.9 547.0M331.8 553.7L344.5 547.0M367.0 551.9L382.5 547.2M405.3 552.4L420.2 547.1M443.6 552.9L457.8 547.1M478.5 546.1L495.9 547.9M516.0 547.1L533.6 547.8M553.7 548.3L571.3 547.6M591.5 546.7L609.0 547.8M629.1 547.1L646.8 547.8M666.9 546.7L684.5 547.8M704.6 548.7L722.2 547.6M745.6 553.0L759.5 547.1M782.0 552.0L797.4 547.2M819.9 552.1L835.1 547.2M855.5 548.6L873.1 547.6M893.2 548.6L910.8 547.6M930.8 547.6L948.5 547.7M972.7 541.9L985.8 548.4M1009.6 542.4L1023.6 548.3M1048.3 541.8L1061.2 548.4M1086.0 541.8L1098.9 548.4M1122.9 542.4L1136.7 548.3M1161.5 541.8L1174.3 548.4M1198.3 542.4L1212.2 548.3M132.4 563.1L114.9 564.8M168.3 568.8L152.9 564.1M204.5 570.0L190.8 563.9M241.8 570.3L228.5 563.9M280.1 569.9L266.2 564.0M318.0 569.8L303.9 564.0M351.7 571.8L342.1 563.7M387.6 572.4L380.0 563.7M426.9 571.9L417.6 563.7M456.7 573.2L456.2 563.6M481.1 569.6L495.5 564.0M515.9 564.8L533.6 564.6M553.7 565.1L571.3 564.5M595.7 558.7L608.5 565.3M633.2 558.8L646.3 565.3M669.5 559.8L684.2 565.2M708.0 559.2L721.8 565.2M746.1 559.0L759.5 565.3M783.7 559.0L797.2 565.3M819.7 560.4L835.1 565.1M858.6 559.4L872.7 565.2M897.6 558.6L910.3 565.3M933.7 559.7L948.2 565.2M972.9 558.7L985.7 565.3M1008.9 559.9L1023.7 565.2M1051.6 557.3L1060.8 565.5M1089.9 557.1L1098.4 565.5M1128.7 556.8L1136.0 565.5M1157.2 564.6L1174.9 564.6M1197.8 569.6L1212.2 564.0M128.5 575.7L115.4 582.2M166.3 575.8L153.1 582.2M204.5 576.1L190.8 582.1M243.0 576.6L228.4 582.1M280.7 576.7L266.1 582.1M318.3 576.6L303.8 582.1M354.9 575.8L341.7 582.2M394.5 577.2L379.2 582.0M431.9 576.9L417.0 582.0M468.2 575.8L454.9 582.2M502.0 574.1L493.0 582.4M539.1 573.9L530.8 582.4M573.2 573.1L569.0 582.5M610.8 573.1L606.7 582.5M644.2 572.9L645.0 582.5M678.1 573.3L683.1 582.5M713.1 573.9L721.2 582.4M751.2 573.7L758.9 582.4M782.6 576.8L797.3 582.1M821.7 575.8L834.9 582.2M857.4 577.3L872.9 582.0M893.3 580.3L910.8 581.6M931.0 582.7L948.5 581.4M968.8 583.1L986.2 581.3M1006.3 582.3L1024.0 581.4M1044.1 582.5L1061.7 581.4M1084.1 586.1L1099.1 581.0M1124.0 587.5L1136.6 580.8M1160.4 586.7L1174.5 580.9M1199.4 587.5L1212.0 580.8M125.0 591.0L115.8 599.3M163.2 591.2L153.5 599.3M206.0 594.2L190.6 598.9M242.4 593.1L228.5 599.0M280.7 593.5L266.1 599.0M316.6 592.4L304.1 599.1M354.6 592.5L341.7 599.1M392.1 592.3L379.5 599.1M431.8 593.7L417.0 599.0M469.9 594.1L454.6 598.9M509.5 600.0L492.1 598.2M547.3 597.1L529.8 598.6M585.2 598.7L567.5 598.4M622.8 597.3L605.3 598.5M648.5 590.0L644.4 599.4M696.2 602.8L681.0 597.9M732.8 603.7L718.8 597.8M764.8 606.2L757.2 597.5M798.3 606.9L795.5 597.4M833.6 607.0L833.5 597.4M868.5 606.9L871.5 597.4M900.5 605.7L909.9 597.5M939.8 606.1L947.5 597.5M977.8 606.2L985.1 597.5M1013.4 605.6L1023.1 597.5M1046.8 603.3L1061.4 597.8M1085.7 604.1L1098.9 597.7M1121.8 602.9L1136.9 597.9M1161.5 604.3L1174.3 597.7M1197.5 603.1L1212.3 597.8"/>
<path d="M98.7 41.5 L99.2 41.5 L99.7 41.5 L100.2 41.5 L100.7 41.5 L101.2 48.7 L101.7 73.7 L102.2 93.5 L102.8 110.0 L103.3 124.1 L103.8 136.4 L104.3 147.3 L104.8 157.1 L105.3 166.1 L105.8 174.2 L106.3 181.8 L106.8 188.8 L107.3 195.3 L107.8 201.4 L108.3 207.2 L108.8 212.6 L109.3 217.8 L109.8 222.7 L110.3 227.3 L110.9 231.8 L111.4 236.1 L111.9 240.1 L112.4 244.0 L112.9 247.8 L113.4 251.4 L113.9 254.9 L114.4 258.3 L114.9 261.5 L115.4 264.7 L115.9 267.7 L116.4 270.7 L116.9 273.6 L117.4 276.4 L117.9 279.1 L118.4 281.7 L119.0 284.3 L119.5 286.8 L120.0 289.2 L120.5 291.6 L121.0 294.0 L121.5 296.2 L122.0 298.4 L122.5 300.6 L123.0 302.7 L123.5 304.8 L124.0 306.9 L124.5 308.8 L125.0 310.8 L125.5 312.7 L126.0 314.6 L126.5 316.4 L127.1 318.2 L127.6 320.0 L128.1 321.8 L128.6 323.5 L129.1 325.2 L129.6 326.8 L130.1 328.4 L130.6 330.0 L131.1 331.6 L131.6 333.2 L132.1 334.7 L132.6 336.2 L133.1 337.7 L133.6 339.1 L134.1 340.6 L134.6 342.0 L135.2 343.4 L135.7 344.8 L136.2 346.1 L136.7 347.4 L137.2 348.8 L137.7 350.1 L138.2 351.4 L138.7 352.6 L138.7 352.6 L142.2 360.9 L145.7 368.6 L149.2 375.7 L152.7 382.3 L156.2 388.5 L159.6 394.4 L163.1 399.9 L166.6 405.1 L170.1 410.0 L173.6 414.7 L177.1 419.2 L180.6 423.5 L184.1 427.6 L187.6 431.6 L191.1 435.4 L194.6 439.0 L198.1 442.5 L201.5 445.9 L205.0 449.2 L208.5 452.4 L212.0 455.4 L215.5 458.4 L219.0 461.3 L222.5 464.1 L226.0 466.9 L229.5 469.5 L233.0 472.1 L236.5 474.6 L239.9 477.1 L243.4 479.5 L246.9 481.8 L250.4 484.1 L253.9 486.3 L257.4 488.5 L260.9 490.6 L264.4 492.7 L267.9 494.8 L271.4 496.8 L274.9 498.7 L278.4 500.6 L281.8 502.5 L285.3 504.4 L288.8 506.2 L292.3 508.0 L295.8 509.7 L299.3 511.4 L302.8 513.1 L306.3 514.8 L309.8 516.4 L313.3 518.0 L316.8 519.6 L320.2 521.2 L323.7 522.7 L327.2 524.2 L330.7 525.7 L334.2 527.1 L337.7 528.6 L341.2 530.0 L344.7 531.4 L348.2 532.8 L351.7 534.1 L355.2 535.5 L358.7 536.8 L362.1 538.1 L365.6 539.4 L369.1 540.7 L372.6 541.9 L376.1 543.2 L379.6 544.4 L383.1 545.6 L386.6 546.8 L390.1 548.0 L393.6 549.1 L397.1 550.3 L400.5 551.4 L404.0 552.5 L407.5 553.7 L411.0 554.8 L414.5 555.8 L418.0 556.9 L421.5 558.0 L425.0 559.0 L428.5 560.1 L432.0 561.1 L435.5 562.1 L439.0 563.1 L442.4 564.1 L445.9 565.1 L449.4 566.1 L452.9 567.1 L456.4 568.0 L459.9 569.0 L463.4 569.9 L466.9 570.8 L470.4 571.8 L473.9 572.7 L477.4 573.6 L480.8 574.5 L484.3 575.4 L487.8 576.2 L491.3 577.1 L494.8 578.0 L498.3 578.8 L501.8 579.7 L505.3 580.5 L508.8 581.4 L512.3 582.2 L515.8 583.0 L519.3 583.8 L522.7 584.6 L526.2 585.4 L529.7 586.2 L533.2 587.0 L536.7 587.8 L540.2 588.6 L543.7 589.4 L547.2 590.1 L550.7 590.9 L554.2 591.6 L557.7 592.4 L561.1 593.1 L564.6 593.8 L568.1 594.6 L571.6 595.3 L575.1 596.0 L578.6 596.7 L582.1 597.4 L585.6 598.1 L589.1 598.8 L592.6 599.5 L596.1 600.2 L599.6 600.9 L603.0 601.6 L606.5 602.3 L610.0 602.9 L613.5 603.6 L617.0 604.3 L620.5 604.9 L624.0 605.6 L627.5 606.2 L631.0 606.9 L634.5 607.5 L638.0 608.1 L641.4 608.8 L644.9 609.4 L648.4 609.7 L651.9 609.7 L655.4 609.7 L658.9 609.7 L662.4 609.7 L665.9 609.7 L669.4 609.7 L672.9 609.7 L676.4 609.4 L679.9 608.8 L683.3 608.2 L686.8 607.5 L690.3 606.9 L693.8 606.3 L697.3 605.6 L700.8 605.0 L704.3 604.3 L707.8 603.6 L711.3 603.0 L714.8 602.3 L718.3 601.6 L721.7 601.0 L725.2 600.3 L728.7 599.6 L732.2 598.9 L735.7 598.2 L739.2 597.5 L742.7 596.8 L746.2 596.1 L749.7 595.4 L753.2 594.6 L756.7 593.9 L760.2 593.2 L763.6 592.4 L767.1 591.7 L770.6 590.9 L774.1 590.2 L777.6 589.4 L781.1 588.6 L784.6 587.9 L788.1 587.1 L791.6 586.3 L795.1 585.5 L798.6 584.7 L802.0 583.9 L805.5 583.1 L809.0 582.3 L812.5 581.4 L816.0 580.6 L819.5 579.8 L823.0 578.9 L826.5 578.0 L830.0 577.2 L833.5 576.3 L837.0 575.4 L840.5 574.5 L843.9 573.6 L847.4 572.7 L850.9 571.8 L854.4 570.9 L857.9 570.0 L861.4 569.0 L864.9 568.1 L868.4 567.1 L871.9 566.2 L875.4 565.2 L878.9 564.2 L882.3 563.2 L885.8 562.2 L889.3 561.2 L892.8 560.1 L896.3 559.1 L899.8 558.1 L903.3 557.0 L906.8 555.9 L910.3 554.8 L913.8 553.7 L917.3 552.6 L920.8 551.5 L924.2 550.4 L927.7 549.2 L931.2 548.1 L934.7 546.9 L938.2 545.7 L941.7 544.5 L945.2 543.3 L948.7 542.0 L952.2 540.8 L955.7 539.5 L959.2 538.2 L962.6 536.9 L966.1 535.6 L969.6 534.2 L973.1 532.9 L976.6 531.5 L980.1 530.1 L983.6 528.7 L987.1 527.3 L990.6 525.8 L994.1 524.3 L997.6 522.8 L1001.1 521.3 L1004.5 519.7 L1008.0 518.1 L1011.5 516.5 L1015.0 514.9 L1018.5 513.3 L1022.0 511.6 L1025.5 509.8 L1029.0 508.1 L1032.5 506.3 L1036.0 504.5 L1039.5 502.7 L1042.9 500.8 L1046.4 498.9 L1049.9 496.9 L1053.4 494.9 L1056.9 492.9 L1060.4 490.8 L1063.9 488.6 L1067.4 486.5 L1070.9 484.2 L1074.4 482.0 L1077.9 479.6 L1081.4 477.2 L1084.8 474.8 L1088.3 472.3 L1091.8 469.7 L1095.3 467.0 L1098.8 464.3 L1102.3 461.5 L1105.8 458.6 L1109.3 455.7 L1112.8 452.6 L1116.3 449.4 L1119.8 446.2 L1123.2 442.8 L1126.7 439.3 L1130.2 435.6 L1133.7 431.8 L1137.2 427.9 L1140.7 423.8 L1144.2 419.5 L1147.7 415.1 L1151.2 410.4 L1154.7 405.4 L1158.2 400.3 L1161.7 394.8 L1165.1 389.0 L1168.6 382.8 L1172.1 376.2 L1175.6 369.1 L1179.1 361.5 L1182.6 353.2 L1182.6 353.2 L1183.1 352.0 L1183.6 350.7 L1184.1 349.4 L1184.6 348.1 L1185.1 346.8 L1185.6 345.4 L1186.1 344.1 L1186.7 342.7 L1187.2 341.3 L1187.7 339.9 L1188.2 338.4 L1188.7 336.9 L1189.2 335.4 L1189.7 333.9 L1190.2 332.4 L1190.7 330.8 L1191.2 329.2 L1191.7 327.6 L1192.2 326.0 L1192.7 324.3 L1193.2 322.6 L1193.7 320.9 L1194.2 319.1 L1194.8 317.3 L1195.3 315.5 L1195.8 313.7 L1196.3 311.8 L1196.8 309.8 L1197.3 307.9 L1197.8 305.8 L1198.3 303.8 L1198.8 301.7 L1199.3 299.5 L1199.8 297.3 L1200.3 295.1 L1200.8 292.8 L1201.3 290.4 L1201.8 288.0 L1202.3 285.6 L1202.9 283.0 L1203.4 280.4 L1203.9 277.7 L1204.4 275.0 L1204.9 272.2 L1205.4 269.2 L1205.9 266.2 L1206.4 263.1 L1206.9 259.9 L1207.4 256.6 L1207.9 253.2 L1208.4 249.6 L1208.9 245.9 L1209.4 242.1 L1209.9 238.1 L1210.4 233.9 L1211.0 229.6 L1211.5 225.0 L1212.0 220.3 L1212.5 215.3 L1213.0 210.0 L1213.5 204.4 L1214.0 198.4 L1214.5 192.1 L1215.0 185.3 L1215.5 178.1 L1216.0 170.2 L1216.5 161.7 L1217.0 152.3 L1217.5 142.0 L1218.0 130.4 L1218.5 117.3 L1219.1 102.1 L1219.6 84.1 L1220.1 62.0 L1220.6 41.5 L1221.1 41.5 L1221.6 41.5 L1222.1 41.5 L1222.6 41.5 L1222.6 609.7 L98.7 609.7 Z" fill="#fff" fill-opacity="0.5"/>
<path d="M98.7 41.5 L99.2 41.5 L99.7 41.5 L100.2 41.5 L100.7 41.5 L101.2 48.7 L101.7 73.7 L102.2 93.5 L102.8 110.0 L103.3 124.1 L103.8 136.4 L104.3 147.3 L104.8 157.1 L105.3 166.1 L105.8 174.2 L106.3 181.8 L106.8 188.8 L107.3 195.3 L107.8 201.4 L108.3 207.2 L108.8 212.6 L109.3 217.8 L109.8 222.7 L110.3 227.3 L110.9 231.8 L111.4 236.1 L111.9 240.1 L112.4 244.0 L112.9 247.8 L113.4 251.4 L113.9 254.9 L114.4 258.3 L114.9 261.5 L115.4 264.7 L115.9 267.7 L116.4 270.7 L116.9 273.6 L117.4 276.4 L117.9 279.1 L118.4 281.7 L119.0 284.3 L119.5 286.8 L120.0 289.2 L120.5 291.6 L121.0 294.0 L121.5 296.2 L122.0 298.4 L122.5 300.6 L123.0 302.7 L123.5 304.8 L124.0 306.9 L124.5 308.8 L125.0 310.8 L125.5 312.7 L126.0 314.6 L126.5 316.4 L127.1 318.2 L127.6 320.0 L128.1 321.8 L128.6 323.5 L129.1 325.2 L129.6 326.8 L130.1 328.4 L130.6 330.0 L131.1 331.6 L131.6 333.2 L132.1 334.7 L132.6 336.2 L133.1 337.7 L133.6 339.1 L134.1 340.6 L134.6 342.0 L135.2 343.4 L135.7 344.8 L136.2 346.1 L136.7 347.4 L137.2 348.8 L137.7 350.1 L138.2 351.4 L138.7 352.6 L138.7 352.6 L142.2 360.9 L145.7 368.6 L149.2 375.7 L152.7 382.3 L156.2 388.5 L159.6 394.4 L163.1 399.9 L166.6 405.1 L170.1 410.0 L173.6 414.7 L177.1 419.2 L180.6 423.5 L184.1 427.6 L187.6 431.6 L191.1 435.4 L194.6 439.0 L198.1 442.5 L201.5 445.9 L205.0 449.2 L208.5 452.4 L212.0 455.4 L215.5 458.4 L219.0 461.3 L222.5 464.1 L226.0 466.9 L229.5 469.5 L233.0 472.1 L236.5 474.6 L239.9 477.1 L243.4 479.5 L246.9 481.8 L250.4 484.1 L253.9 486.3 L257.4 488.5 L260.9 490.6 L264.4 492.7 L267.9 494.8 L271.4 496.8 L274.9 498.7 L278.4 500.6 L281.8 502.5 L285.3 504.4 L288.8 506.2 L292.3 508.0 L295.8 509.7 L299.3 511.4 L302.8 513.1 L306.3 514.8 L309.8 516.4 L313.3 518.0 L316.8 519.6 L320.2 521.2 L323.7 522.7 L327.2 524.2 L330.7 525.7 L334.2 527.1 L337.7 528.6 L341.2 530.0 L344.7 531.4 L348.2 532.8 L351.7 534.1 L355.2 535.5 L358.7 536.8 L362.1 538.1 L365.6 539.4 L369.1 540.7 L372.6 541.9 L376.1 543.2 L379.6 544.4 L383.1 545.6 L386.6 546.8 L390.1 548.0 L393.6 549.1 L397.1 550.3 L400.5 551.4 L404.0 552.5 L407.5 553.7 L411.0 554.8 L414.5 555.8 L418.0 556.9 L421.5 558.0 L425.0 559.0 L428.5 560.1 L432.0 561.1 L435.5 562.1 L439.0 563.1 L442.4 564.1 L445.9 565.1 L449.4 566.1 L452.9 567.1 L456.4 568.0 L459.9 569.0 L463.4 569.9 L466.9 570.8 L470.4 571.8 L473.9 572.7 L477.4 573.6 L480.8 574.5 L484.3 575.4 L487.8 576.2 L491.3 577.1 L494.8 578.0 L498.3 578.8 L501.8 579.7 L505.3 580.5 L508.8 581.4 L512.3 582.2 L515.8 583.0 L519.3 583.8 L522.7 584.6 L526.2 585.4 L529.7 586.2 L533.2 587.0 L536.7 587.8 L540.2 588.6 L543.7 589.4 L547.2 590.1 L550.7 590.9 L554.2 591.6 L557.7 592.4 L561.1 593.1 L564.6 593.8 L568.1 594.6 L571.6 595.3 L575.1 596.0 L578.6 596.7 L582.1 597.4 L585.6 598.1 L589.1 598.8 L592.6 599.5 L596.1 600.2 L599.6 600.9 L603.0 601.6 L606.5 602.3 L610.0 602.9 L613.5 603.6 L617.0 604.3 L620.5 604.9 L624.0 605.6 L627.5 606.2 L631.0 606.9 L634.5 607.5 L638.0 608.1 L641.4 608.8 L644.9 609.4 L648.4 609.7 L651.9 609.7 L655.4 609.7 L658.9 609.7 L662.4 609.7 L665.9 609.7 L669.4 609.7 L672.9 609.7 L676.4 609.4 L679.9 608.8 L683.3 608.2 L686.8 607.5 L690.3 606.9 L693.8 606.3 L697.3 605.6 L700.8 605.0 L704.3 604.3 L707.8 603.6 L711.3 603.0 L714.8 602.3 L718.3 601.6 L721.7 601.0 L725.2 600.3 L728.7 599.6 L732.2 598.9 L735.7 598.2 L739.2 597.5 L742.7 596.8 L746.2 596.1 L749.7 595.4 L753.2 594.6 L756.7 593.9 L760.2 593.2 L763.6 592.4 L767.1 591.7 L770.6 590.9 L774.1 590.2 L777.6 589.4 L781.1 588.6 L784.6 587.9 L788.1 587.1 L791.6 586.3 L795.1 585.5 L798.6 584.7 L802.0 583.9 L805.5 583.1 L809.0 582.3 L812.5 581.4 L816.0 580.6 L819.5 579.8 L823.0 578.9 L826.5 578.0 L830.0 577.2 L833.5 576.3 L837.0 575.4 L840.5 574.5 L843.9 573.6 L847.4 572.7 L850.9 571.8 L854.4 570.9 L857.9 570.0 L861.4 569.0 L864.9 568.1 L868.4 567.1 L871.9 566.2 L875.4 565.2 L878.9 564.2 L882.3 563.2 L885.8 562.2 L889.3 561.2 L892.8 560.1 L896.3 559.1 L899.8 558.1 L903.3 557.0 L906.8 555.9 L910.3 554.8 L913.8 553.7 L917.3 552.6 L920.8 551.5 L924.2 550.4 L927.7 549.2 L931.2 548.1 L934.7 546.9 L938.2 545.7 L941.7 544.5 L945.2 543.3 L948.7 542.0 L952.2 540.8 L955.7 539.5 L959.2 538.2 L962.6 536.9 L966.1 535.6 L969.6 534.2 L973.1 532.9 L976.6 531.5 L980.1 530.1 L983.6 528.7 L987.1 527.3 L990.6 525.8 L994.1 524.3 L997.6 522.8 L1001.1 521.3 L1004.5 519.7 L1008.0 518.1 L1011.5 516.5 L1015.0 514.9 L1018.5 513.3 L1022.0 511.6 L1025.5 509.8 L1029.0 508.1 L1032.5 506.3 L1036.0 504.5 L1039.5 502.7 L1042.9 500.8 L1046.4 498.9 L1049.9 496.9 L1053.4 494.9 L1056.9 492.9 L1060.4 490.8 L1063.9 488.6 L1067.4 486.5 L1070.9 484.2 L1074.4 482.0 L1077.9 479.6 L1081.4 477.2 L1084.8 474.8 L1088.3 472.3 L1091.8 469.7 L1095.3 467.0 L1098.8 464.3 L1102.3 461.5 L1105.8 458.6 L1109.3 455.7 L1112.8 452.6 L1116.3 449.4 L1119.8 446.2 L1123.2 442.8 L1126.7 439.3 L1130.2 435.6 L1133.7 431.8 L1137.2 427.9 L1140.7 423.8 L1144.2 419.5 L1147.7 415.1 L1151.2 410.4 L1154.7 405.4 L1158.2 400.3 L1161.7 394.8 L1165.1 389.0 L1168.6 382.8 L1172.1 376.2 L1175.6 369.1 L1179.1 361.5 L1182.6 353.2 L1182.6 353.2 L1183.1 352.0 L1183.6 350.7 L1184.1 349.4 L1184.6 348.1 L1185.1 346.8 L1185.6 345.4 L1186.1 344.1 L1186.7 342.7 L1187.2 341.3 L1187.7 339.9 L1188.2 338.4 L1188.7 336.9 L1189.2 335.4 L1189.7 333.9 L1190.2 332.4 L1190.7 330.8 L1191.2 329.2 L1191.7 327.6 L1192.2 326.0 L1192.7 324.3 L1193.2 322.6 L1193.7 320.9 L1194.2 319.1 L1194.8 317.3 L1195.3 315.5 L1195.8 313.7 L1196.3 311.8 L1196.8 309.8 L1197.3 307.9 L1197.8 305.8 L1198.3 303.8 L1198.8 301.7 L1199.3 299.5 L1199.8 297.3 L1200.3 295.1 L1200.8 292.8 L1201.3 290.4 L1201.8 288.0 L1202.3 285.6 L1202.9 283.0 L1203.4 280.4 L1203.9 277.7 L1204.4 275.0 L1204.9 272.2 L1205.4 269.2 L1205.9 266.2 L1206.4 263.1 L1206.9 259.9 L1207.4 256.6 L1207.9 253.2 L1208.4 249.6 L1208.9 245.9 L1209.4 242.1 L1209.9 238.1 L1210.4 233.9 L1211.0 229.6 L1211.5 225.0 L1212.0 220.3 L1212.5 215.3 L1213.0 210.0 L1213.5 204.4 L1214.0 198.4 L1214.5 192.1 L1215.0 185.3 L1215.5 178.1 L1216.0 170.2 L1216.5 161.7 L1217.0 152.3 L1217.5 142.0 L1218.0 130.4 L1218.5 117.3 L1219.1 102.1 L1219.6 84.1 L1220.1 62.0 L1220.6 41.5 L1221.1 41.5 L1221.6 41.5 L1222.1 41.5 L1222.6 41.5" fill="none" stroke="#000" stroke-width="1.1"/>
</g>
<rect x="98.7" y="41.5" width="1123.9" height="568.2" fill="none" stroke="#262626" stroke-width="1.4"/>
<path d="M194.8 609.7v-10M194.8 41.5v10M308.9 609.7v-10M308.9 41.5v10M423.1 609.7v-10M423.1 41.5v10M537.2 609.7v-10M537.2 41.5v10M651.4 609.7v-10M651.4 41.5v10M765.5 609.7v-10M765.5 41.5v10M879.6 609.7v-10M879.6 41.5v10M993.8 609.7v-10M993.8 41.5v10M1107.9 609.7v-10M1107.9 41.5v10M1222.1 609.7v-10M1222.1 41.5v10M98.7 106.0h10M1222.6 106.0h-10M98.7 173.6h10M1222.6 173.6h-10M98.7 241.2h10M1222.6 241.2h-10M98.7 308.8h10M1222.6 308.8h-10M98.7 376.4h10M1222.6 376.4h-10M98.7 444.0h10M1222.6 444.0h-10M98.7 511.6h10M1222.6 511.6h-10M98.7 579.2h10M1222.6 579.2h-10" stroke="#262626" stroke-width="1.3" fill="none"/>
<path d="M98.2 42V69M98.2 81V115M98.2 123V155M98.2 225V232M1221 41.5V60" stroke="#000" stroke-width="2.6" fill="none"/>
<g shape-rendering="crispEdges"><rect x="1270.0" y="600.82" width="30.2" height="9.28" fill="#00008f"/>
<rect x="1270.0" y="591.94" width="30.2" height="9.28" fill="#00009f"/>
<rect x="1270.0" y="583.07" width="30.2" height="9.28" fill="#0000af"/>
<rect x="1270.0" y="574.19" width="30.2" height="9.28" fill="#0000bf"/>
<rect x="1270.0" y="565.31" width="30.2" height="9.28" fill="#0000cf"/>
<rect x="1270.0" y="556.43" width="30.2" height="9.28" fill="#0000df"/>
<rect x="1270.0" y="547.55" width="30.2" height="9.28" fill="#0000ef"/>
<rect x="1270.0" y="538.68" width="30.2" height="9.28" fill="#0000ff"/>
<rect x="1270.0" y="529.80" width="30.2" height="9.28" fill="#0010ff"/>
<rect x="1270.0" y="520.92" width="30.2" height="9.28" fill="#0020ff"/>
<rect x="1270.0" y="512.04" width="30.2" height="9.28" fill="#0030ff"/>
<rect x="1270.0" y="503.16" width="30.2" height="9.28" fill="#0040ff"/>
<rect x="1270.0" y="494.28" width="30.2" height="9.28" fill="#0050ff"/>
<rect x="1270.0" y="485.41" width="30.2" height="9.28" fill="#0060ff"/>
<rect x="1270.0" y="476.53" width="30.2" height="9.28" fill="#0070ff"/>
<rect x="1270.0" y="467.65" width="30.2" height="9.28" fill="#0080ff"/>
<rect x="1270.0" y="458.77" width="30.2" height="9.28" fill="#008fff"/>
<rect x="1270.0" y="449.89" width="30.2" height="9.28" fill="#009fff"/>
<rect x="1270.0" y="441.02" width="30.2" height="9.28" fill="#00afff"/>
<rect x="1270.0" y="432.14" width="30.2" height="9.28" fill="#00bfff"/>
<rect x="1270.0" y="423.26" width="30.2" height="9.28" fill="#00cfff"/>
<rect x="1270.0" y="414.38" width="30.2" height="9.28" fill="#00dfff"/>
<rect x="1270.0" y="405.50" width="30.2" height="9.28" fill="#00efff"/>
<rect x="1270.0" y="396.62" width="30.2" height="9.28" fill="#00ffff"/>
<rect x="1270.0" y="387.75" width="30.2" height="9.28" fill="#10ffef"/>
<rect x="1270.0" y="378.87" width="30.2" height="9.28" fill="#20ffdf"/>
<rect x="1270.0" y="369.99" width="30.2" height="9.28" fill="#30ffcf"/>
<rect x="1270.0" y="361.11" width="30.2" height="9.28" fill="#40ffbf"/>
<rect x="1270.0" y="352.23" width="30.2" height="9.28" fill="#50ffaf"/>
<rect x="1270.0" y="343.36" width="30.2" height="9.28" fill="#60ff9f"/>
<rect x="1270.0" y="334.48" width="30.2" height="9.28" fill="#70ff8f"/>
<rect x="1270.0" y="325.60" width="30.2" height="9.28" fill="#80ff80"/>
<rect x="1270.0" y="316.72" width="30.2" height="9.28" fill="#8fff70"/>
<rect x="1270.0" y="307.84" width="30.2" height="9.28" fill="#9fff60"/>
<rect x="1270.0" y="298.97" width="30.2" height="9.28" fill="#afff50"/>
<rect x="1270.0" y="290.09" width="30.2" height="9.28" fill="#bfff40"/>
<rect x="1270.0" y="281.21" width="30.2" height="9.28" fill="#cfff30"/>
<rect x="1270.0" y="272.33" width="30.2" height="9.28" fill="#dfff20"/>
<rect x="1270.0" y="263.45" width="30.2" height="9.28" fill="#efff10"/>
<rect x="1270.0" y="254.58" width="30.2" height="9.28" fill="#ffff00"/>
<rect x="1270.0" y="245.70" width="30.2" height="9.28" fill="#ffef00"/>
<rect x="1270.0" y="236.82" width="30.2" height="9.28" fill="#ffdf00"/>
<rect x="1270.0" y="227.94" width="30.2" height="9.28" fill="#ffcf00"/>
<rect x="1270.0" y="219.06" width="30.2" height="9.28" fill="#ffbf00"/>
<rect x="1270.0" y="210.18" width="30.2" height="9.28" fill="#ffaf00"/>
<rect x="1270.0" y="201.31" width="30.2" height="9.28" fill="#ff9f00"/>
<rect x="1270.0" y="192.43" width="30.2" height="9.28" fill="#ff8f00"/>
<rect x="1270.0" y="183.55" width="30.2" height="9.28" fill="#ff8000"/>
<rect x="1270.0" y="174.67" width="30.2" height="9.28" fill="#ff7000"/>
<rect x="1270.0" y="165.79" width="30.2" height="9.28" fill="#ff6000"/>
<rect x="1270.0" y="156.92" width="30.2" height="9.28" fill="#ff5000"/>
<rect x="1270.0" y="148.04" width="30.2" height="9.28" fill="#ff4000"/>
<rect x="1270.0" y="139.16" width="30.2" height="9.28" fill="#ff3000"/>
<rect x="1270.0" y="130.28" width="30.2" height="9.28" fill="#ff2000"/>
<rect x="1270.0" y="121.40" width="30.2" height="9.28" fill="#ff1000"/>
<rect x="1270.0" y="112.52" width="30.2" height="9.28" fill="#ff0000"/>
<rect x="1270.0" y="103.65" width="30.2" height="9.28" fill="#ef0000"/>
<rect x="1270.0" y="94.77" width="30.2" height="9.28" fill="#df0000"/>
<rect x="1270.0" y="85.89" width="30.2" height="9.28" fill="#cf0000"/>
<rect x="1270.0" y="77.01" width="30.2" height="9.28" fill="#bf0000"/>
<rect x="1270.0" y="68.13" width="30.2" height="9.28" fill="#af0000"/>
<rect x="1270.0" y="59.26" width="30.2" height="9.28" fill="#9f0000"/>
<rect x="1270.0" y="50.38" width="30.2" height="9.28" fill="#8f0000"/>
<rect x="1270.0" y="41.50" width="30.2" height="9.28" fill="#800000"/></g>
<rect x="1270.0" y="41.5" width="30.2" height="568.2" fill="none" stroke="#262626" stroke-width="1.2"/>
<path d="M1300.2 80.4h-5.5M1300.2 121.3h-5.5M1300.2 162.3h-5.5M1300.2 203.2h-5.5M1300.2 244.1h-5.5M1300.2 285.1h-5.5M1300.2 326.0h-5.5M1300.2 366.9h-5.5M1300.2 407.9h-5.5M1300.2 448.8h-5.5M1300.2 489.8h-5.5M1300.2 530.7h-5.5M1300.2 571.6h-5.5" stroke="#262626" stroke-width="1.2" fill="none"/>
<text class="c" x="1309.2" y="89.9">64</text>
<text class="c" x="1309.2" y="130.8">32</text>
<text class="c" x="1309.2" y="171.8">16</text>
<text class="c" x="1316.7" y="212.7">8</text>
<text class="c" x="1316.7" y="253.6">4</text>
<text class="c" x="1316.7" y="294.6">2</text>
<text class="c" x="1316.7" y="335.5">1</text>
<text class="c" x="1309.2" y="376.4">1/2</text>
<text class="c" x="1309.2" y="417.4">1/4</text>
<text class="c" x="1309.2" y="458.3">1/8</text>
<text class="c" x="1309.2" y="499.3">1/16</text>
<text class="c" x="1309.2" y="540.2">1/32</text>
<text class="c" x="1309.2" y="581.1">1/64</text>
<text class="t" x="194.8" y="648" text-anchor="middle">200</text>
<text class="t" x="308.9" y="648" text-anchor="middle">400</text>
<text class="t" x="423.1" y="648" text-anchor="middle">600</text>
<text class="t" x="537.2" y="648" text-anchor="middle">800</text>
<text class="t" x="651.4" y="648" text-anchor="middle">1000</text>
<text class="t" x="765.5" y="648" text-anchor="middle">1200</text>
<text class="t" x="879.6" y="648" text-anchor="middle">1400</text>
<text class="t" x="993.8" y="648" text-anchor="middle">1600</text>
<text class="t" x="1107.9" y="648" text-anchor="middle">1800</text>
<text class="t" x="1222.1" y="648" text-anchor="middle">2000</text>
<text class="t" x="89" y="117.5" text-anchor="end">4</text>
<text class="t" x="89" y="185.1" text-anchor="end">8</text>
<text class="t" x="89" y="252.7" text-anchor="end">16</text>
<text class="t" x="89" y="320.3" text-anchor="end">32</text>
<text class="t" x="89" y="387.9" text-anchor="end">64</text>
<text class="t" x="89" y="455.5" text-anchor="end">128</text>
<text class="t" x="89" y="523.1" text-anchor="end">256</text>
<text class="t" x="89" y="590.7" text-anchor="end">512</text>
<text class="l" x="670.5" y="26" text-anchor="middle">Ca - TSI</text>
<text class="l" x="664" y="678.6" text-anchor="middle">Age (yr AD)</text>
<text class="l" style="font-size:33.5px" transform="translate(25,325.5) rotate(-90)" text-anchor="middle">Period (years)</text>
<text class="l" transform="translate(1399.5,328.5) rotate(-90)" text-anchor="middle">Power</text>
</svg></body></html>
